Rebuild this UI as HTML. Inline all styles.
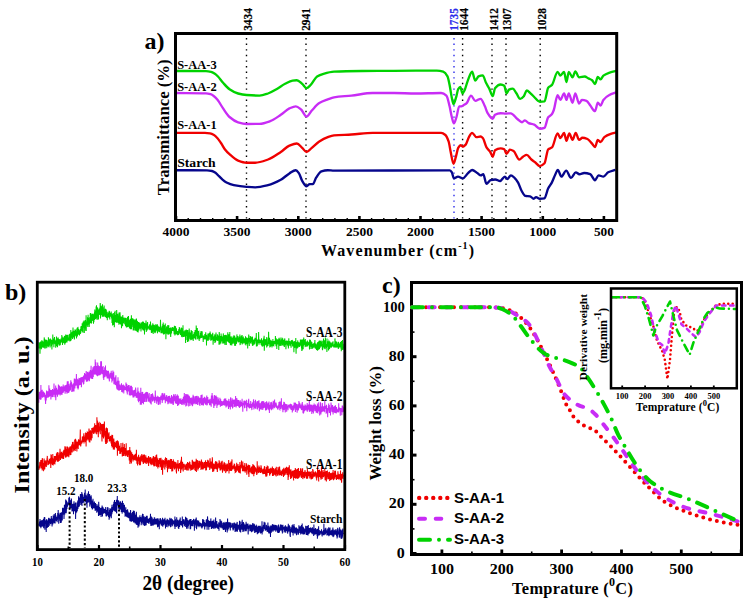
<!DOCTYPE html>
<html><head><meta charset="utf-8"><style>
html,body{margin:0;padding:0;background:#fff;width:749px;height:603px;overflow:hidden;}
svg{display:block;}
</style></head><body>
<svg width="749" height="603" viewBox="0 0 749 603">
<rect width="749" height="603" fill="#fff"/>
<line x1="246.5" y1="38" x2="246.5" y2="219" stroke="#000" stroke-width="1.4" stroke-dasharray="1.4 4.2"/>
<line x1="306" y1="38" x2="306" y2="219" stroke="#000" stroke-width="1.4" stroke-dasharray="1.4 4.2"/>
<line x1="454" y1="38" x2="454" y2="219" stroke="#2b2bea" stroke-width="1.4" stroke-dasharray="1.4 4.2"/>
<line x1="462.6" y1="38" x2="462.6" y2="219" stroke="#000" stroke-width="1.4" stroke-dasharray="1.4 4.2"/>
<line x1="492" y1="38" x2="492" y2="219" stroke="#000" stroke-width="1.4" stroke-dasharray="1.4 4.2"/>
<line x1="506" y1="38" x2="506" y2="219" stroke="#000" stroke-width="1.4" stroke-dasharray="1.4 4.2"/>
<line x1="540.2" y1="38" x2="540.2" y2="219" stroke="#000" stroke-width="1.4" stroke-dasharray="1.4 4.2"/>
<path d="M176.50 71.00 C186.33 71.03 196.17 71.02 206.00 71.10 C207.67 71.11 209.33 71.43 211.00 71.80 C212.17 72.06 213.33 72.78 214.50 73.50 C215.67 74.22 216.83 75.33 218.00 76.50 C219.70 78.20 221.40 80.91 223.10 82.80 C225.23 85.17 227.37 87.75 229.50 89.20 C232.37 91.14 235.23 92.75 238.10 93.50 C240.93 94.24 243.77 94.78 246.60 95.00 C250.90 95.33 255.20 95.60 259.50 95.60 C262.33 95.60 265.17 94.44 268.00 93.50 C270.83 92.56 273.67 90.79 276.50 89.20 C279.37 87.59 282.23 85.25 285.10 83.80 C287.60 82.54 290.10 80.97 292.60 80.60 C294.00 80.39 295.40 80.20 296.80 80.20 C298.60 80.20 300.40 82.35 302.20 83.80 C303.63 84.96 305.07 88.10 306.50 88.10 C307.90 88.10 309.30 86.23 310.70 84.90 C312.83 82.87 314.97 77.73 317.10 76.40 C319.23 75.07 321.37 74.39 323.50 73.80 C327.00 72.84 330.50 71.88 334.00 71.70 C343.33 71.23 352.67 71.09 362.00 71.00 C372.67 70.89 383.33 70.86 394.00 70.80 C408.27 70.72 422.53 70.60 436.80 70.60 C438.93 70.60 441.07 71.03 443.20 71.70 C444.63 72.15 446.07 73.76 447.50 76.40 C448.20 77.69 448.90 81.56 449.60 84.90 C450.33 88.40 451.07 94.38 451.80 97.70 C452.37 100.27 452.93 104.10 453.50 104.10 C454.33 104.10 455.17 100.28 456.00 97.70 C456.73 95.43 457.47 90.40 458.20 89.20 C458.90 88.05 459.60 87.00 460.30 87.00 C461.03 87.00 461.77 93.50 462.50 93.50 C463.20 93.50 463.90 91.61 464.60 90.20 C465.67 88.05 466.73 83.24 467.80 80.60 C469.23 77.06 470.67 71.70 472.10 71.70 C473.17 71.70 474.23 80.60 475.30 80.60 C476.37 80.60 477.43 76.88 478.50 76.40 C479.90 75.77 481.30 75.30 482.70 75.30 C483.80 75.30 484.90 80.62 486.00 82.80 C487.10 84.98 488.20 86.45 489.30 88.60 C490.43 90.82 491.57 96.10 492.70 96.10 C493.47 96.10 494.23 89.26 495.00 88.30 C496.87 85.97 498.73 84.50 500.60 84.50 C501.83 84.50 503.07 84.96 504.30 85.80 C505.03 86.30 505.77 93.30 506.50 93.30 C507.33 93.30 508.17 90.00 509.00 89.60 C510.23 89.01 511.47 88.60 512.70 88.60 C513.93 88.60 515.17 91.62 516.40 93.30 C517.67 95.03 518.93 98.90 520.20 98.90 C521.43 98.90 522.67 97.48 523.90 96.10 C524.83 95.05 525.77 90.50 526.70 90.50 C527.97 90.50 529.23 92.22 530.50 93.30 C531.73 94.35 532.97 95.87 534.20 97.00 C536.07 98.71 537.93 101.70 539.80 101.70 C541.37 101.70 542.93 101.60 544.50 101.40 C545.73 101.24 546.97 89.22 548.20 87.70 C549.47 86.14 550.73 86.27 552.00 84.90 C553.87 82.88 555.73 71.80 557.60 71.80 C558.53 71.80 559.47 75.60 560.40 75.60 C561.63 75.60 562.87 71.80 564.10 71.80 C564.87 71.80 565.63 82.10 566.40 82.10 C567.20 82.10 568.00 71.80 568.80 71.80 C570.03 71.80 571.27 77.40 572.50 77.40 C573.43 77.40 574.37 71.40 575.30 71.40 C576.57 71.40 577.83 77.40 579.10 77.40 C580.97 77.40 582.83 76.50 584.70 76.50 C585.93 76.50 587.17 77.78 588.40 78.40 C589.63 79.02 590.87 79.31 592.10 80.20 C593.07 80.90 594.03 84.00 595.00 84.00 C595.93 84.00 596.87 77.00 597.80 77.00 C598.73 77.00 599.67 79.30 600.60 79.30 C601.53 79.30 602.47 76.31 603.40 75.60 C605.27 74.17 607.13 73.44 609.00 72.80 C611.47 71.95 613.93 71.53 616.40 70.90" fill="none" stroke="#00d200" stroke-width="2.35" stroke-linejoin="round"/>
<path d="M176.50 93.00 C186.33 93.10 196.17 93.06 206.00 93.30 C207.50 93.34 209.00 93.75 210.50 94.20 C211.67 94.55 212.83 95.34 214.00 96.20 C215.17 97.06 216.33 98.38 217.50 99.80 C219.37 102.07 221.23 105.72 223.10 108.40 C225.23 111.46 227.37 115.16 229.50 117.00 C232.37 119.47 235.23 121.44 238.10 122.30 C240.93 123.15 243.77 124.00 246.60 124.00 C250.90 124.00 255.20 123.93 259.50 123.80 C263.03 123.69 266.57 122.43 270.10 121.20 C273.67 119.96 277.23 117.17 280.80 114.80 C283.67 112.89 286.53 109.68 289.40 108.40 C291.53 107.45 293.67 106.30 295.80 106.30 C297.57 106.30 299.33 108.05 301.10 109.50 C302.90 110.98 304.70 116.50 306.50 116.50 C308.27 116.50 310.03 112.37 311.80 110.50 C314.30 107.85 316.80 104.62 319.30 103.10 C322.13 101.37 324.97 100.47 327.80 99.40 C329.87 98.62 331.93 97.64 334.00 97.30 C339.80 96.34 345.60 96.23 351.40 95.60 C358.50 94.83 365.60 93.00 372.70 93.00 C379.80 93.00 386.90 93.00 394.00 93.00 C401.17 93.00 408.33 93.50 415.50 93.50 C424.03 93.50 432.57 93.00 441.10 93.00 C442.87 93.00 444.63 93.99 446.40 95.60 C447.47 96.57 448.53 102.02 449.60 106.30 C450.33 109.24 451.07 114.26 451.80 117.00 C452.50 119.62 453.20 123.40 453.90 123.40 C454.77 123.40 455.63 119.63 456.50 117.00 C457.40 114.27 458.30 106.30 459.20 106.30 C459.93 106.30 460.67 106.30 461.40 106.30 C462.10 106.30 462.80 105.60 463.50 105.20 C464.57 104.58 465.63 104.10 466.70 103.10 C468.13 101.76 469.57 95.60 471.00 95.60 C472.43 95.60 473.87 100.90 475.30 100.90 C477.07 100.90 478.83 98.80 480.60 98.80 C482.03 98.80 483.47 103.29 484.90 106.30 C485.77 108.12 486.63 111.48 487.50 112.90 C489.23 115.74 490.97 118.80 492.70 118.80 C493.47 118.80 494.23 115.22 495.00 114.80 C496.87 113.78 498.73 113.20 500.60 113.20 C502.47 113.20 504.33 113.60 506.20 113.60 C507.73 113.60 509.27 113.30 510.80 113.30 C513.00 113.30 515.20 117.32 517.40 119.00 C518.93 120.17 520.47 122.20 522.00 122.20 C522.97 122.20 523.93 120.30 524.90 120.30 C526.13 120.30 527.37 122.60 528.60 123.10 C530.47 123.86 532.33 123.87 534.20 124.60 C536.07 125.33 537.93 128.70 539.80 128.70 C541.37 128.70 542.93 128.38 544.50 127.80 C545.73 127.34 546.97 118.94 548.20 117.30 C549.47 115.61 550.73 115.67 552.00 114.00 C552.60 113.21 553.20 111.64 553.80 110.00 C555.07 106.53 556.33 95.20 557.60 95.20 C558.53 95.20 559.47 99.90 560.40 99.90 C561.63 99.90 562.87 93.30 564.10 93.30 C564.87 93.30 565.63 99.90 566.40 99.90 C567.20 99.90 568.00 93.30 568.80 93.30 C570.03 93.30 571.27 102.70 572.50 102.70 C573.43 102.70 574.37 93.30 575.30 93.30 C576.57 93.30 577.83 103.60 579.10 103.60 C580.03 103.60 580.97 99.90 581.90 99.90 C583.43 99.90 584.97 100.27 586.50 100.80 C587.77 101.24 589.03 103.96 590.30 105.50 C591.87 107.40 593.43 111.10 595.00 111.10 C595.93 111.10 596.87 102.70 597.80 102.70 C598.73 102.70 599.67 105.50 600.60 105.50 C601.53 105.50 602.47 101.06 603.40 99.90 C605.27 97.59 607.13 96.19 609.00 95.20 C611.47 93.89 613.93 93.33 616.40 92.40" fill="none" stroke="#c82cf5" stroke-width="2.35" stroke-linejoin="round"/>
<path d="M176.50 132.80 C186.00 132.83 195.50 132.82 205.00 132.90 C206.67 132.91 208.33 133.13 210.00 133.40 C211.33 133.62 212.67 134.25 214.00 135.00 C215.17 135.65 216.33 136.92 217.50 138.20 C218.67 139.48 219.83 141.27 221.00 143.00 C222.33 144.98 223.67 147.80 225.00 149.50 C226.50 151.42 228.00 152.87 229.50 154.20 C232.37 156.74 235.23 159.54 238.10 160.60 C240.93 161.65 243.77 162.70 246.60 162.70 C249.47 162.70 252.33 162.70 255.20 162.70 C259.47 162.70 263.73 161.00 268.00 159.50 C272.27 158.00 276.53 154.82 280.80 152.00 C283.67 150.11 286.53 146.76 289.40 145.60 C291.87 144.60 294.33 143.50 296.80 143.50 C298.60 143.50 300.40 146.21 302.20 147.80 C303.63 149.06 305.07 152.00 306.50 152.00 C308.27 152.00 310.03 149.25 311.80 147.80 C314.30 145.75 316.80 143.00 319.30 141.40 C322.13 139.59 324.97 138.09 327.80 137.10 C329.87 136.38 331.93 135.60 334.00 135.40 C339.80 134.83 345.60 134.86 351.40 134.50 C358.50 134.06 365.60 132.80 372.70 132.80 C379.80 132.80 386.90 132.80 394.00 132.80 C409.70 132.80 425.40 132.80 441.10 132.80 C442.53 132.80 443.97 133.80 445.40 135.00 C446.47 135.90 447.53 138.25 448.60 141.40 C449.30 143.47 450.00 148.77 450.70 152.00 C451.63 156.31 452.57 163.80 453.50 163.80 C454.33 163.80 455.17 159.12 456.00 156.30 C456.73 153.82 457.47 149.02 458.20 147.80 C459.03 146.42 459.87 145.20 460.70 145.20 C461.43 145.20 462.17 146.70 462.90 146.70 C463.83 146.70 464.77 145.65 465.70 144.60 C466.77 143.40 467.83 138.92 468.90 137.10 C469.97 135.28 471.03 132.80 472.10 132.80 C473.50 132.80 474.90 137.10 476.30 137.10 C477.73 137.10 479.17 136.50 480.60 136.50 C481.33 136.50 482.07 137.25 482.80 138.00 C484.03 139.26 485.27 145.37 486.50 147.40 C487.77 149.48 489.03 150.07 490.30 152.00 C491.10 153.22 491.90 156.70 492.70 156.70 C493.47 156.70 494.23 150.72 495.00 150.20 C496.87 148.93 498.73 148.30 500.60 148.30 C501.83 148.30 503.07 148.67 504.30 149.30 C505.03 149.68 505.77 153.90 506.50 153.90 C507.63 153.90 508.77 149.60 509.90 149.60 C511.13 149.60 512.37 150.35 513.60 151.10 C515.50 152.26 517.40 159.50 519.30 159.50 C520.53 159.50 521.77 157.43 523.00 156.70 C524.23 155.97 525.47 154.90 526.70 154.90 C528.27 154.90 529.83 158.17 531.40 159.50 C532.63 160.55 533.87 161.34 535.10 162.30 C536.67 163.52 538.23 166.10 539.80 166.10 C541.37 166.10 542.93 164.96 544.50 163.30 C545.73 161.99 546.97 150.39 548.20 149.30 C549.47 148.18 550.73 148.41 552.00 147.40 C553.87 145.91 555.73 133.40 557.60 133.40 C558.53 133.40 559.47 138.00 560.40 138.00 C561.63 138.00 562.87 132.80 564.10 132.80 C564.87 132.80 565.63 140.80 566.40 140.80 C567.37 140.80 568.33 133.40 569.30 133.40 C570.37 133.40 571.43 139.90 572.50 139.90 C573.57 139.90 574.63 132.80 575.70 132.80 C576.83 132.80 577.97 139.90 579.10 139.90 C580.20 139.90 581.30 137.70 582.40 137.70 C584.10 137.70 585.80 138.30 587.50 139.00 C589.03 139.63 590.57 141.93 592.10 143.60 C593.07 144.65 594.03 147.00 595.00 147.00 C595.93 147.00 596.87 139.90 597.80 139.90 C598.73 139.90 599.67 142.10 600.60 142.10 C601.83 142.10 603.07 138.03 604.30 137.10 C606.47 135.47 608.63 134.65 610.80 133.90 C612.67 133.26 614.53 132.90 616.40 132.40" fill="none" stroke="#f00000" stroke-width="2.35" stroke-linejoin="round"/>
<path d="M176.50 170.20 C186.67 170.23 196.83 170.22 207.00 170.30 C208.67 170.31 210.33 170.62 212.00 171.00 C213.17 171.27 214.33 172.02 215.50 172.80 C216.67 173.58 217.83 175.07 219.00 176.20 C220.17 177.33 221.33 178.63 222.50 179.60 C223.83 180.71 225.17 181.83 226.50 182.50 C228.93 183.73 231.37 184.70 233.80 185.20 C238.07 186.07 242.33 186.62 246.60 186.90 C249.47 187.09 252.33 187.30 255.20 187.30 C259.47 187.30 263.73 186.21 268.00 185.20 C272.27 184.19 276.53 182.14 280.80 179.80 C283.67 178.23 286.53 175.10 289.40 173.40 C291.53 172.14 293.67 170.20 295.80 170.20 C296.87 170.20 297.93 171.90 299.00 173.40 C300.07 174.90 301.13 179.15 302.20 180.90 C303.63 183.25 305.07 186.20 306.50 186.20 C307.57 186.20 308.63 184.10 309.70 184.10 C310.77 184.10 311.83 184.10 312.90 184.10 C313.97 184.10 315.03 179.34 316.10 177.70 C317.87 174.98 319.63 171.84 321.40 171.30 C323.53 170.64 325.67 170.20 327.80 170.20 C329.87 170.20 331.93 170.60 334.00 170.60 C372.53 170.60 411.07 170.40 449.60 170.40 C450.33 170.40 451.07 171.32 451.80 172.30 C452.50 173.24 453.20 178.40 453.90 178.40 C455.27 178.40 456.63 176.60 458.00 176.60 C459.60 176.60 461.20 178.40 462.80 178.40 C464.47 178.40 466.13 174.87 467.80 173.40 C469.23 172.14 470.67 170.00 472.10 170.00 C473.83 170.00 475.57 171.92 477.30 173.00 C478.50 173.75 479.70 175.40 480.90 175.40 C481.70 175.40 482.50 174.20 483.30 174.20 C484.33 174.20 485.37 183.80 486.40 183.80 C487.77 183.80 489.13 180.55 490.50 180.20 C492.10 179.79 493.70 179.50 495.30 179.50 C496.90 179.50 498.50 181.00 500.10 181.00 C501.70 181.00 503.30 176.60 504.90 176.60 C505.70 176.60 506.50 179.00 507.30 179.00 C508.50 179.00 509.70 175.40 510.90 175.40 C512.10 175.40 513.30 176.73 514.50 177.80 C515.70 178.87 516.90 180.56 518.10 182.60 C519.30 184.64 520.50 188.94 521.70 191.00 C522.90 193.06 524.10 195.70 525.30 195.90 C526.90 196.16 528.50 196.05 530.10 196.30 C531.30 196.48 532.50 198.70 533.70 198.70 C534.50 198.70 535.30 197.10 536.10 197.10 C537.30 197.10 538.50 198.70 539.70 198.70 C541.30 198.70 542.90 198.57 544.50 198.30 C545.70 198.10 546.90 191.03 548.10 188.60 C549.33 186.10 550.57 184.96 551.80 182.60 C553.00 180.30 554.20 176.61 555.40 174.20 C556.20 172.59 557.00 169.90 557.80 169.90 C559.00 169.90 560.20 176.60 561.40 176.60 C563.00 176.60 564.60 170.60 566.20 170.60 C567.80 170.60 569.40 177.80 571.00 177.80 C572.60 177.80 574.20 172.30 575.80 172.30 C577.00 172.30 578.20 174.20 579.40 174.20 C581.00 174.20 582.60 173.00 584.20 173.00 C586.20 173.00 588.20 173.49 590.20 174.20 C591.80 174.77 593.40 180.20 595.00 180.20 C596.20 180.20 597.40 175.40 598.60 175.40 C600.20 175.40 601.80 176.60 603.40 176.60 C605.00 176.60 606.60 173.10 608.20 172.30 C610.60 171.10 613.00 170.70 615.40 169.90" fill="none" stroke="#06068c" stroke-width="2.35" stroke-linejoin="round"/>
<rect x="175.5" y="33.5" width="441.20000000000005" height="187.0" fill="none" stroke="#000" stroke-width="3"/>
<rect x="602.6" y="216" width="2.6" height="4" fill="#000"/>
<rect x="591.0" y="218" width="1.4" height="2" fill="#000"/>
<rect x="578.8" y="218" width="1.4" height="2" fill="#000"/>
<rect x="566.5" y="218" width="1.4" height="2" fill="#000"/>
<rect x="554.3" y="218" width="1.4" height="2" fill="#000"/>
<rect x="541.5" y="216" width="2.6" height="4" fill="#000"/>
<rect x="529.9" y="218" width="1.4" height="2" fill="#000"/>
<rect x="517.6" y="218" width="1.4" height="2" fill="#000"/>
<rect x="505.4" y="218" width="1.4" height="2" fill="#000"/>
<rect x="493.2" y="218" width="1.4" height="2" fill="#000"/>
<rect x="480.3" y="216" width="2.6" height="4" fill="#000"/>
<rect x="468.7" y="218" width="1.4" height="2" fill="#000"/>
<rect x="456.5" y="218" width="1.4" height="2" fill="#000"/>
<rect x="444.3" y="218" width="1.4" height="2" fill="#000"/>
<rect x="432.0" y="218" width="1.4" height="2" fill="#000"/>
<rect x="419.2" y="216" width="2.6" height="4" fill="#000"/>
<rect x="407.6" y="218" width="1.4" height="2" fill="#000"/>
<rect x="395.4" y="218" width="1.4" height="2" fill="#000"/>
<rect x="383.1" y="218" width="1.4" height="2" fill="#000"/>
<rect x="370.9" y="218" width="1.4" height="2" fill="#000"/>
<rect x="358.1" y="216" width="2.6" height="4" fill="#000"/>
<rect x="346.5" y="218" width="1.4" height="2" fill="#000"/>
<rect x="334.2" y="218" width="1.4" height="2" fill="#000"/>
<rect x="322.0" y="218" width="1.4" height="2" fill="#000"/>
<rect x="309.8" y="218" width="1.4" height="2" fill="#000"/>
<rect x="297.0" y="216" width="2.6" height="4" fill="#000"/>
<rect x="285.3" y="218" width="1.4" height="2" fill="#000"/>
<rect x="273.1" y="218" width="1.4" height="2" fill="#000"/>
<rect x="260.9" y="218" width="1.4" height="2" fill="#000"/>
<rect x="248.7" y="218" width="1.4" height="2" fill="#000"/>
<rect x="235.8" y="216" width="2.6" height="4" fill="#000"/>
<rect x="224.2" y="218" width="1.4" height="2" fill="#000"/>
<rect x="212.0" y="218" width="1.4" height="2" fill="#000"/>
<rect x="199.8" y="218" width="1.4" height="2" fill="#000"/>
<rect x="187.5" y="218" width="1.4" height="2" fill="#000"/>
<rect x="174.7" y="216" width="2.6" height="4" fill="#000"/>
<text x="603.9" y="236" font-family='"Liberation Serif", serif' font-size="12.6" font-weight="bold" fill="#000" text-anchor="middle" textLength="20" lengthAdjust="spacingAndGlyphs" >500</text>
<text x="542.8" y="236" font-family='"Liberation Serif", serif' font-size="12.6" font-weight="bold" fill="#000" text-anchor="middle" textLength="27" lengthAdjust="spacingAndGlyphs" >1000</text>
<text x="481.6" y="236" font-family='"Liberation Serif", serif' font-size="12.6" font-weight="bold" fill="#000" text-anchor="middle" textLength="27" lengthAdjust="spacingAndGlyphs" >1500</text>
<text x="420.5" y="236" font-family='"Liberation Serif", serif' font-size="12.6" font-weight="bold" fill="#000" text-anchor="middle" textLength="27" lengthAdjust="spacingAndGlyphs" >2000</text>
<text x="359.4" y="236" font-family='"Liberation Serif", serif' font-size="12.6" font-weight="bold" fill="#000" text-anchor="middle" textLength="27" lengthAdjust="spacingAndGlyphs" >2500</text>
<text x="298.3" y="236" font-family='"Liberation Serif", serif' font-size="12.6" font-weight="bold" fill="#000" text-anchor="middle" textLength="27" lengthAdjust="spacingAndGlyphs" >3000</text>
<text x="237.1" y="236" font-family='"Liberation Serif", serif' font-size="12.6" font-weight="bold" fill="#000" text-anchor="middle" textLength="27" lengthAdjust="spacingAndGlyphs" >3500</text>
<text x="176.0" y="236" font-family='"Liberation Serif", serif' font-size="12.6" font-weight="bold" fill="#000" text-anchor="middle" textLength="27" lengthAdjust="spacingAndGlyphs" >4000</text>
<text transform="translate(251.6 30.8) rotate(-90)" font-family='"Liberation Serif", serif' font-size="11.5" font-weight="bold" fill="#000" text-anchor="start" textLength="22.6" lengthAdjust="spacingAndGlyphs" stroke="#000" stroke-width="0.2">3434</text>
<text transform="translate(309.9 30.8) rotate(-90)" font-family='"Liberation Serif", serif' font-size="11.5" font-weight="bold" fill="#000" text-anchor="start" textLength="22.6" lengthAdjust="spacingAndGlyphs" stroke="#000" stroke-width="0.2">2941</text>
<text transform="translate(457.6 30.8) rotate(-90)" font-family='"Liberation Serif", serif' font-size="11.5" font-weight="bold" fill="#2b2bea" text-anchor="start" textLength="22.6" lengthAdjust="spacingAndGlyphs" stroke="#2b2bea" stroke-width="0.2">1735</text>
<text transform="translate(468 30.8) rotate(-90)" font-family='"Liberation Serif", serif' font-size="11.5" font-weight="bold" fill="#000" text-anchor="start" textLength="22.6" lengthAdjust="spacingAndGlyphs" stroke="#000" stroke-width="0.2">1644</text>
<text transform="translate(497.7 30.8) rotate(-90)" font-family='"Liberation Serif", serif' font-size="11.5" font-weight="bold" fill="#000" text-anchor="start" textLength="22.6" lengthAdjust="spacingAndGlyphs" stroke="#000" stroke-width="0.2">1412</text>
<text transform="translate(510.5 30.8) rotate(-90)" font-family='"Liberation Serif", serif' font-size="11.5" font-weight="bold" fill="#000" text-anchor="start" textLength="22.6" lengthAdjust="spacingAndGlyphs" stroke="#000" stroke-width="0.2">1307</text>
<text transform="translate(545.8 30.8) rotate(-90)" font-family='"Liberation Serif", serif' font-size="11.5" font-weight="bold" fill="#000" text-anchor="start" textLength="22.6" lengthAdjust="spacingAndGlyphs" stroke="#000" stroke-width="0.2">1028</text>
<text x="177.2" y="68.9" font-family='"Liberation Serif", serif' font-size="11.5" font-weight="bold" fill="#000" text-anchor="start" textLength="39.5" lengthAdjust="spacingAndGlyphs" >S-AA-3</text>
<text x="177.2" y="90.7" font-family='"Liberation Serif", serif' font-size="11.5" font-weight="bold" fill="#000" text-anchor="start" textLength="39.5" lengthAdjust="spacingAndGlyphs" >S-AA-2</text>
<text x="177.2" y="129.1" font-family='"Liberation Serif", serif' font-size="11.5" font-weight="bold" fill="#000" text-anchor="start" textLength="39.5" lengthAdjust="spacingAndGlyphs" >S-AA-1</text>
<text x="177.2" y="167.4" font-family='"Liberation Serif", serif' font-size="11.5" font-weight="bold" fill="#000" text-anchor="start" textLength="38.5" lengthAdjust="spacingAndGlyphs" >Starch</text>
<text x="144.5" y="49" font-family='"Liberation Serif", serif' font-size="24" font-weight="bold" fill="#000" text-anchor="start" >a)</text>
<text transform="translate(168.9 195.2) rotate(-90)" font-family='"Liberation Serif", serif' font-size="17.5" font-weight="bold" fill="#000" text-anchor="start" textLength="135.8" lengthAdjust="spacingAndGlyphs" >Transmittance (%)</text>
<text x="321.1" y="256" font-family='"Liberation Serif", serif' font-size="16" font-weight="bold" fill="#000" letter-spacing="1.08">Wavenumber (cm<tspan font-size="10" dy="-7">-1</tspan><tspan dy="7">)</tspan></text>
<path d="M38.8 348.0 L38.9 348.4 L39.1 341.9 L39.2 344.7 L39.3 345.1 L39.5 345.0 L39.6 344.6 L39.7 344.4 L39.8 345.4 L40.0 353.7 L40.1 347.6 L40.2 345.0 L40.4 345.3 L40.5 347.0 L40.6 341.6 L40.8 345.5 L40.9 344.9 L41.0 348.5 L41.1 346.0 L41.3 341.5 L41.4 349.3 L41.5 344.0 L41.7 343.5 L41.8 340.2 L41.9 346.0 L42.1 340.8 L42.2 347.8 L42.3 340.8 L42.4 345.9 L42.6 344.5 L42.7 345.5 L42.8 346.9 L43.0 342.0 L43.1 345.9 L43.2 341.4 L43.4 343.4 L43.5 347.7 L43.6 344.9 L43.7 342.6 L43.9 344.8 L44.0 344.2 L44.1 340.6 L44.3 337.4 L44.4 343.2 L44.5 343.3 L44.7 348.5 L44.8 344.6 L44.9 338.9 L45.0 344.7 L45.2 340.7 L45.3 348.4 L45.4 345.3 L45.6 340.5 L45.7 343.4 L45.8 339.9 L46.0 342.6 L46.1 345.2 L46.2 343.7 L46.3 346.3 L46.5 339.8 L46.6 343.1 L46.7 348.2 L46.9 343.7 L47.0 343.3 L47.1 346.0 L47.3 345.5 L47.4 344.9 L47.5 345.8 L47.6 342.4 L47.8 340.3 L47.9 345.6 L48.0 343.4 L48.2 347.3 L48.3 346.5 L48.4 337.3 L48.6 338.5 L48.7 345.4 L48.8 346.2 L48.9 341.5 L49.1 339.9 L49.2 343.7 L49.3 339.8 L49.5 340.1 L49.6 344.8 L49.7 344.8 L49.9 343.5 L50.0 340.9 L50.1 347.5 L50.2 342.5 L50.4 338.6 L50.5 343.1 L50.6 342.1 L50.8 341.1 L50.9 341.8 L51.0 341.6 L51.2 339.5 L51.3 343.5 L51.4 346.2 L51.5 345.5 L51.7 344.7 L51.8 339.9 L51.9 349.4 L52.1 343.0 L52.2 344.5 L52.3 341.3 L52.5 343.8 L52.6 344.4 L52.7 341.2 L52.8 334.6 L53.0 342.9 L53.1 343.5 L53.2 342.9 L53.4 342.3 L53.5 338.5 L53.6 340.8 L53.8 343.8 L53.9 347.2 L54.0 340.4 L54.1 342.5 L54.3 342.3 L54.4 343.0 L54.5 337.1 L54.7 342.3 L54.8 339.3 L54.9 343.6 L55.1 342.8 L55.2 344.3 L55.3 340.4 L55.4 341.9 L55.6 341.3 L55.7 347.8 L55.8 345.2 L56.0 344.3 L56.1 341.4 L56.2 341.8 L56.4 345.8 L56.5 336.4 L56.6 346.3 L56.7 341.4 L56.9 344.4 L57.0 341.8 L57.1 341.5 L57.3 339.0 L57.4 339.7 L57.5 347.3 L57.7 337.7 L57.8 342.0 L57.9 344.8 L58.0 339.7 L58.2 337.6 L58.3 340.4 L58.4 343.0 L58.6 344.0 L58.7 340.8 L58.8 343.5 L59.0 340.1 L59.1 338.9 L59.2 345.7 L59.3 339.3 L59.5 343.8 L59.6 340.9 L59.7 341.4 L59.9 339.9 L60.0 340.5 L60.1 339.6 L60.3 345.3 L60.4 342.5 L60.5 343.3 L60.6 342.3 L60.8 340.2 L60.9 341.7 L61.0 338.5 L61.2 342.6 L61.3 339.5 L61.4 341.1 L61.6 340.2 L61.7 342.5 L61.8 335.0 L61.9 339.9 L62.1 338.9 L62.2 339.6 L62.3 336.5 L62.5 345.1 L62.6 339.3 L62.7 342.1 L62.9 338.0 L63.0 340.3 L63.1 340.9 L63.2 339.4 L63.4 339.8 L63.5 341.7 L63.6 341.6 L63.8 337.2 L63.9 343.3 L64.0 337.0 L64.2 339.5 L64.3 338.3 L64.4 335.9 L64.5 337.9 L64.7 340.0 L64.8 344.7 L64.9 336.3 L65.1 340.6 L65.2 339.8 L65.3 341.9 L65.5 343.3 L65.6 337.5 L65.7 334.4 L65.8 338.9 L66.0 335.5 L66.1 342.5 L66.2 338.2 L66.4 339.7 L66.5 342.3 L66.6 337.0 L66.8 334.9 L66.9 342.1 L67.0 342.4 L67.1 339.9 L67.3 334.9 L67.4 339.9 L67.5 338.0 L67.7 336.1 L67.8 334.7 L67.9 340.8 L68.1 337.7 L68.2 339.3 L68.3 340.1 L68.4 339.3 L68.6 337.5 L68.7 339.5 L68.8 339.3 L69.0 339.5 L69.1 337.7 L69.2 335.0 L69.4 334.8 L69.5 336.7 L69.6 340.7 L69.7 337.3 L69.9 341.4 L70.0 340.6 L70.1 336.6 L70.3 337.5 L70.4 333.5 L70.5 340.9 L70.7 340.0 L70.8 330.0 L70.9 334.8 L71.0 338.8 L71.2 339.1 L71.3 334.0 L71.4 336.4 L71.6 333.6 L71.7 337.5 L71.8 337.2 L72.0 332.1 L72.1 334.2 L72.2 337.4 L72.3 331.4 L72.5 332.7 L72.6 339.0 L72.7 335.6 L72.9 335.5 L73.0 327.5 L73.1 333.2 L73.3 332.1 L73.4 333.3 L73.5 337.4 L73.6 331.5 L73.8 333.1 L73.9 330.7 L74.0 335.5 L74.2 333.2 L74.3 333.0 L74.4 339.6 L74.6 333.1 L74.7 336.5 L74.8 331.4 L74.9 333.3 L75.1 329.2 L75.2 336.3 L75.3 330.4 L75.5 329.9 L75.6 334.1 L75.7 334.0 L75.9 333.7 L76.0 333.0 L76.1 331.2 L76.2 334.3 L76.4 335.6 L76.5 338.4 L76.6 335.9 L76.8 328.7 L76.9 332.9 L77.0 331.9 L77.2 327.8 L77.3 333.3 L77.4 336.4 L77.5 334.3 L77.7 330.6 L77.8 330.1 L77.9 326.9 L78.1 330.3 L78.2 330.2 L78.3 332.3 L78.4 329.9 L78.6 334.7 L78.7 331.0 L78.8 329.6 L79.0 329.8 L79.1 334.1 L79.2 334.6 L79.4 331.2 L79.5 335.4 L79.6 333.0 L79.7 332.4 L79.9 330.8 L80.0 331.2 L80.1 330.3 L80.3 330.8 L80.4 333.9 L80.5 328.9 L80.7 333.0 L80.8 332.6 L80.9 326.5 L81.0 329.4 L81.2 330.6 L81.3 326.0 L81.4 328.3 L81.6 326.2 L81.7 329.6 L81.8 328.5 L82.0 327.2 L82.1 331.0 L82.2 323.2 L82.3 331.7 L82.5 328.4 L82.6 327.6 L82.7 330.5 L82.9 328.6 L83.0 332.8 L83.1 321.8 L83.3 327.7 L83.4 326.3 L83.5 327.6 L83.6 327.3 L83.8 324.5 L83.9 321.2 L84.0 321.0 L84.2 320.4 L84.3 332.9 L84.4 328.8 L84.6 322.9 L84.7 323.5 L84.8 323.8 L84.9 328.2 L85.1 321.5 L85.2 327.5 L85.3 324.3 L85.5 320.1 L85.6 329.1 L85.7 330.6 L85.9 326.1 L86.0 325.1 L86.1 315.3 L86.2 331.0 L86.4 322.8 L86.5 324.7 L86.6 324.6 L86.8 323.5 L86.9 324.4 L87.0 322.4 L87.2 323.2 L87.3 320.7 L87.4 325.4 L87.5 317.3 L87.7 323.1 L87.8 326.9 L87.9 324.4 L88.1 314.8 L88.2 320.4 L88.3 319.5 L88.5 324.7 L88.6 317.8 L88.7 323.2 L88.8 319.5 L89.0 320.2 L89.1 321.3 L89.2 327.0 L89.4 322.8 L89.5 320.2 L89.6 323.8 L89.8 316.9 L89.9 320.6 L90.0 319.2 L90.1 323.0 L90.3 313.2 L90.4 321.0 L90.5 322.9 L90.7 313.1 L90.8 322.3 L90.9 322.5 L91.1 320.5 L91.2 314.4 L91.3 323.6 L91.4 317.4 L91.6 322.9 L91.7 318.3 L91.8 317.0 L92.0 314.6 L92.1 313.9 L92.2 321.0 L92.4 315.6 L92.5 317.2 L92.6 315.1 L92.7 314.7 L92.9 320.4 L93.0 313.6 L93.1 320.4 L93.3 317.6 L93.4 315.5 L93.5 323.7 L93.7 319.5 L93.8 314.4 L93.9 322.1 L94.0 314.3 L94.2 318.8 L94.3 316.0 L94.4 316.4 L94.6 311.8 L94.7 320.1 L94.8 309.5 L95.0 317.6 L95.1 312.2 L95.2 315.0 L95.3 314.6 L95.5 319.1 L95.6 311.0 L95.7 310.7 L95.9 312.6 L96.0 317.9 L96.1 306.6 L96.3 313.2 L96.4 316.8 L96.5 305.2 L96.6 311.1 L96.8 319.4 L96.9 313.6 L97.0 307.2 L97.2 318.3 L97.3 319.8 L97.4 308.8 L97.6 307.4 L97.7 314.7 L97.8 310.1 L97.9 313.5 L98.1 309.8 L98.2 315.8 L98.3 312.4 L98.5 319.6 L98.6 315.4 L98.7 312.6 L98.9 311.2 L99.0 309.0 L99.1 311.5 L99.2 308.4 L99.4 313.7 L99.5 313.1 L99.6 314.7 L99.8 312.4 L99.9 307.4 L100.0 315.1 L100.2 303.0 L100.3 304.2 L100.4 306.8 L100.5 318.4 L100.7 308.0 L100.8 310.1 L100.9 311.0 L101.1 314.0 L101.2 314.9 L101.3 306.2 L101.5 307.1 L101.6 314.5 L101.7 312.7 L101.8 310.3 L102.0 305.7 L102.1 316.4 L102.2 305.2 L102.4 315.2 L102.5 304.3 L102.6 312.1 L102.8 312.0 L102.9 307.2 L103.0 317.0 L103.1 311.7 L103.3 311.6 L103.4 316.5 L103.5 313.6 L103.7 310.2 L103.8 310.9 L103.9 313.4 L104.1 305.4 L104.2 307.6 L104.3 314.8 L104.4 315.6 L104.6 312.6 L104.7 315.3 L104.8 310.5 L105.0 317.0 L105.1 311.7 L105.2 309.2 L105.4 311.5 L105.5 308.8 L105.6 311.8 L105.7 317.2 L105.9 315.2 L106.0 315.7 L106.1 312.4 L106.3 309.6 L106.4 315.2 L106.5 318.1 L106.7 314.7 L106.8 314.1 L106.9 316.2 L107.0 315.5 L107.2 311.8 L107.3 320.2 L107.4 313.5 L107.6 316.1 L107.7 314.2 L107.8 313.8 L108.0 317.1 L108.1 317.5 L108.2 316.7 L108.3 315.3 L108.5 313.4 L108.6 313.2 L108.7 312.2 L108.9 315.0 L109.0 316.9 L109.1 310.8 L109.3 317.8 L109.4 313.0 L109.5 311.3 L109.6 314.9 L109.8 319.6 L109.9 313.0 L110.0 313.8 L110.2 315.9 L110.3 313.6 L110.4 315.4 L110.6 312.8 L110.7 316.8 L110.8 314.0 L110.9 313.0 L111.1 315.2 L111.2 311.6 L111.3 315.8 L111.5 314.9 L111.6 318.5 L111.7 315.3 L111.9 313.4 L112.0 323.0 L112.1 314.4 L112.2 319.5 L112.4 316.5 L112.5 322.1 L112.6 325.4 L112.8 317.7 L112.9 314.2 L113.0 320.3 L113.2 318.2 L113.3 313.0 L113.4 313.7 L113.5 320.0 L113.7 325.1 L113.8 319.4 L113.9 319.0 L114.1 318.9 L114.2 316.5 L114.3 327.2 L114.5 319.8 L114.6 312.1 L114.7 318.2 L114.8 322.2 L115.0 319.2 L115.1 310.8 L115.2 315.4 L115.4 322.1 L115.5 321.5 L115.6 319.4 L115.8 319.7 L115.9 315.1 L116.0 317.3 L116.1 318.3 L116.3 320.7 L116.4 322.6 L116.5 315.2 L116.7 309.9 L116.8 314.0 L116.9 322.8 L117.1 321.1 L117.2 320.5 L117.3 319.6 L117.4 315.3 L117.6 319.6 L117.7 313.8 L117.8 314.9 L118.0 317.9 L118.1 320.9 L118.2 323.0 L118.4 321.0 L118.5 320.1 L118.6 320.0 L118.7 316.7 L118.9 324.8 L119.0 312.4 L119.1 315.9 L119.3 315.5 L119.4 319.2 L119.5 319.8 L119.7 323.6 L119.8 317.0 L119.9 320.9 L120.0 312.2 L120.2 316.4 L120.3 317.8 L120.4 324.6 L120.6 317.9 L120.7 317.7 L120.8 316.7 L121.0 323.4 L121.1 323.2 L121.2 317.8 L121.3 317.3 L121.5 328.2 L121.6 320.9 L121.7 316.6 L121.9 322.5 L122.0 318.7 L122.1 324.1 L122.3 318.8 L122.4 321.5 L122.5 322.4 L122.6 326.3 L122.8 315.0 L122.9 318.2 L123.0 320.4 L123.2 317.9 L123.3 319.3 L123.4 323.0 L123.6 322.6 L123.7 322.7 L123.8 318.9 L123.9 320.5 L124.1 317.5 L124.2 319.2 L124.3 320.3 L124.5 320.3 L124.6 321.2 L124.7 318.2 L124.9 324.1 L125.0 324.3 L125.1 319.5 L125.2 323.3 L125.4 317.7 L125.5 326.3 L125.6 319.3 L125.8 324.9 L125.9 322.6 L126.0 325.1 L126.2 318.1 L126.3 319.4 L126.4 327.4 L126.5 324.0 L126.7 326.2 L126.8 320.7 L126.9 320.4 L127.1 320.2 L127.2 327.0 L127.3 326.8 L127.5 316.7 L127.6 326.9 L127.7 322.2 L127.8 322.5 L128.0 322.5 L128.1 319.2 L128.2 321.8 L128.4 326.8 L128.5 316.1 L128.6 322.3 L128.8 320.2 L128.9 323.7 L129.0 325.3 L129.1 327.0 L129.3 323.9 L129.4 328.4 L129.5 323.8 L129.7 321.5 L129.8 319.7 L129.9 324.4 L130.1 324.2 L130.2 326.3 L130.3 318.8 L130.4 327.9 L130.6 329.3 L130.7 325.7 L130.8 323.8 L131.0 324.7 L131.1 326.7 L131.2 324.1 L131.4 315.3 L131.5 329.2 L131.6 321.3 L131.7 320.8 L131.9 327.0 L132.0 321.8 L132.1 319.6 L132.3 325.3 L132.4 318.3 L132.5 320.2 L132.7 324.8 L132.8 318.3 L132.9 324.6 L133.0 319.7 L133.2 330.4 L133.3 324.3 L133.4 319.5 L133.6 322.4 L133.7 319.8 L133.8 319.3 L134.0 324.0 L134.1 323.7 L134.2 325.4 L134.3 330.5 L134.5 322.5 L134.6 327.5 L134.7 327.9 L134.9 320.7 L135.0 320.2 L135.1 320.0 L135.3 320.4 L135.4 323.0 L135.5 327.8 L135.6 330.8 L135.8 323.4 L135.9 329.3 L136.0 323.8 L136.2 328.0 L136.3 330.5 L136.4 318.5 L136.6 321.8 L136.7 331.1 L136.8 321.9 L136.9 326.3 L137.1 322.7 L137.2 331.9 L137.3 320.9 L137.5 322.4 L137.6 326.9 L137.7 324.6 L137.9 323.6 L138.0 324.2 L138.1 332.5 L138.2 327.8 L138.4 324.7 L138.5 321.9 L138.6 326.0 L138.8 325.1 L138.9 330.5 L139.0 325.6 L139.2 329.0 L139.3 326.2 L139.4 322.4 L139.5 325.6 L139.7 326.1 L139.8 327.3 L139.9 328.5 L140.1 323.6 L140.2 327.0 L140.3 325.8 L140.5 328.8 L140.6 324.7 L140.7 328.6 L140.8 327.2 L141.0 331.4 L141.1 324.1 L141.2 322.4 L141.4 325.9 L141.5 328.0 L141.6 323.4 L141.8 324.3 L141.9 322.7 L142.0 324.2 L142.1 324.6 L142.3 329.4 L142.4 327.2 L142.5 321.8 L142.7 327.9 L142.8 324.2 L142.9 324.2 L143.1 321.4 L143.2 330.6 L143.3 326.3 L143.4 323.9 L143.6 322.0 L143.7 323.7 L143.8 327.9 L144.0 327.3 L144.1 329.8 L144.2 330.0 L144.4 327.5 L144.5 334.4 L144.6 327.0 L144.7 323.1 L144.9 325.8 L145.0 329.8 L145.1 327.5 L145.3 325.9 L145.4 323.5 L145.5 324.2 L145.7 325.2 L145.8 328.1 L145.9 326.5 L146.0 320.6 L146.2 325.6 L146.3 331.9 L146.4 324.3 L146.6 329.8 L146.7 325.3 L146.8 330.8 L147.0 323.5 L147.1 326.3 L147.2 330.1 L147.3 328.9 L147.5 327.0 L147.6 322.1 L147.7 325.6 L147.9 328.7 L148.0 325.6 L148.1 327.1 L148.3 327.4 L148.4 327.3 L148.5 328.3 L148.6 326.4 L148.8 326.9 L148.9 327.8 L149.0 328.1 L149.2 329.8 L149.3 327.6 L149.4 329.5 L149.6 324.3 L149.7 326.3 L149.8 329.4 L149.9 327.7 L150.1 327.9 L150.2 329.4 L150.3 329.3 L150.5 321.6 L150.6 328.1 L150.7 328.3 L150.9 324.8 L151.0 325.9 L151.1 329.1 L151.2 329.0 L151.4 333.0 L151.5 326.1 L151.6 327.7 L151.8 332.5 L151.9 327.7 L152.0 329.8 L152.2 330.9 L152.3 324.7 L152.4 325.4 L152.5 329.9 L152.7 332.6 L152.8 323.3 L152.9 332.8 L153.1 330.3 L153.2 334.1 L153.3 324.6 L153.5 325.3 L153.6 328.8 L153.7 329.6 L153.8 328.2 L154.0 331.4 L154.1 324.7 L154.2 327.0 L154.4 327.0 L154.5 328.5 L154.6 332.5 L154.8 327.0 L154.9 331.2 L155.0 333.2 L155.1 325.3 L155.3 329.7 L155.4 331.7 L155.5 329.3 L155.7 331.0 L155.8 332.4 L155.9 324.0 L156.1 327.0 L156.2 326.0 L156.3 330.8 L156.4 328.9 L156.6 329.0 L156.7 330.7 L156.8 325.0 L157.0 330.1 L157.1 328.4 L157.2 328.2 L157.4 324.3 L157.5 333.2 L157.6 327.3 L157.7 332.0 L157.9 331.7 L158.0 326.5 L158.1 325.7 L158.3 327.1 L158.4 327.7 L158.5 329.2 L158.7 330.1 L158.8 330.3 L158.9 331.5 L159.0 329.7 L159.2 329.7 L159.3 327.9 L159.4 326.7 L159.6 332.2 L159.7 329.5 L159.8 328.9 L160.0 329.9 L160.1 329.2 L160.2 329.7 L160.3 329.9 L160.5 319.8 L160.6 324.9 L160.7 326.0 L160.9 327.6 L161.0 333.2 L161.1 331.7 L161.3 330.3 L161.4 331.6 L161.5 329.2 L161.6 331.8 L161.8 327.5 L161.9 333.3 L162.0 331.1 L162.2 328.4 L162.3 325.7 L162.4 327.8 L162.6 328.1 L162.7 331.9 L162.8 323.9 L162.9 326.9 L163.1 333.4 L163.2 322.6 L163.3 329.6 L163.5 334.4 L163.6 325.3 L163.7 327.6 L163.9 324.7 L164.0 328.2 L164.1 325.1 L164.2 327.7 L164.4 334.2 L164.5 331.2 L164.6 328.0 L164.8 325.6 L164.9 329.8 L165.0 326.9 L165.2 333.4 L165.3 323.4 L165.4 332.2 L165.5 332.9 L165.7 330.6 L165.8 329.1 L165.9 339.2 L166.1 329.1 L166.2 332.5 L166.3 329.8 L166.5 328.1 L166.6 328.3 L166.7 326.4 L166.8 331.0 L167.0 333.8 L167.1 329.0 L167.2 330.3 L167.4 330.4 L167.5 327.0 L167.6 333.1 L167.8 325.1 L167.9 332.2 L168.0 334.7 L168.1 331.8 L168.3 328.5 L168.4 330.9 L168.5 332.2 L168.7 330.8 L168.8 325.3 L168.9 334.5 L169.1 328.9 L169.2 329.3 L169.3 330.7 L169.4 329.4 L169.6 332.3 L169.7 327.9 L169.8 333.6 L170.0 331.6 L170.1 328.8 L170.2 330.5 L170.4 334.3 L170.5 327.5 L170.6 335.4 L170.7 336.9 L170.9 331.4 L171.0 328.8 L171.1 331.8 L171.3 331.6 L171.4 328.9 L171.5 333.5 L171.7 327.6 L171.8 331.1 L171.9 328.6 L172.0 329.6 L172.2 327.7 L172.3 331.1 L172.4 328.5 L172.6 330.4 L172.7 327.1 L172.8 329.5 L173.0 328.3 L173.1 329.3 L173.2 329.1 L173.3 330.6 L173.5 329.3 L173.6 329.9 L173.7 331.3 L173.9 328.6 L174.0 328.7 L174.1 334.2 L174.3 332.6 L174.4 325.7 L174.5 327.7 L174.6 334.0 L174.8 326.5 L174.9 335.4 L175.0 332.4 L175.2 325.9 L175.3 329.2 L175.4 329.6 L175.6 326.6 L175.7 333.6 L175.8 333.6 L175.9 334.5 L176.1 331.6 L176.2 329.9 L176.3 328.7 L176.5 328.2 L176.6 332.1 L176.7 333.3 L176.9 333.1 L177.0 331.4 L177.1 333.5 L177.2 333.7 L177.4 331.1 L177.5 333.2 L177.6 332.1 L177.8 335.2 L177.9 334.9 L178.0 333.8 L178.2 330.9 L178.3 333.1 L178.4 335.0 L178.5 333.3 L178.7 331.6 L178.8 329.1 L178.9 331.7 L179.1 331.2 L179.2 333.6 L179.3 327.0 L179.5 331.0 L179.6 332.9 L179.7 328.0 L179.8 331.6 L180.0 330.3 L180.1 334.2 L180.2 329.8 L180.4 335.0 L180.5 332.4 L180.6 333.0 L180.8 329.6 L180.9 329.9 L181.0 332.6 L181.1 332.2 L181.3 327.6 L181.4 335.5 L181.5 336.8 L181.7 328.4 L181.8 328.4 L181.9 333.9 L182.1 329.5 L182.2 337.2 L182.3 330.5 L182.4 333.5 L182.6 331.7 L182.7 336.1 L182.8 335.2 L183.0 325.3 L183.1 332.0 L183.2 332.3 L183.4 336.9 L183.5 331.7 L183.6 336.1 L183.7 331.3 L183.9 332.2 L184.0 333.6 L184.1 332.4 L184.3 334.2 L184.4 336.5 L184.5 336.1 L184.7 335.2 L184.8 332.3 L184.9 330.2 L185.0 331.1 L185.2 331.6 L185.3 332.3 L185.4 332.5 L185.6 343.0 L185.7 330.2 L185.8 334.2 L186.0 332.9 L186.1 330.7 L186.2 329.6 L186.3 333.6 L186.5 330.2 L186.6 336.1 L186.7 332.3 L186.9 332.2 L187.0 339.9 L187.1 333.0 L187.3 336.7 L187.4 329.9 L187.5 341.9 L187.6 340.4 L187.8 329.9 L187.9 335.8 L188.0 339.8 L188.2 339.8 L188.3 333.6 L188.4 333.3 L188.6 333.7 L188.7 341.6 L188.8 337.8 L188.9 337.3 L189.1 332.1 L189.2 328.5 L189.3 330.8 L189.5 333.9 L189.6 336.6 L189.7 335.1 L189.9 332.9 L190.0 339.3 L190.1 335.5 L190.2 333.8 L190.4 332.6 L190.5 333.8 L190.6 334.8 L190.8 340.3 L190.9 338.6 L191.0 335.3 L191.2 330.0 L191.3 336.8 L191.4 338.7 L191.5 335.7 L191.7 336.4 L191.8 332.7 L191.9 339.8 L192.1 334.6 L192.2 331.1 L192.3 339.2 L192.5 334.7 L192.6 339.3 L192.7 338.3 L192.8 337.7 L193.0 337.4 L193.1 335.0 L193.2 341.1 L193.4 334.9 L193.5 334.5 L193.6 335.6 L193.8 336.1 L193.9 334.0 L194.0 338.4 L194.1 332.3 L194.3 336.9 L194.4 336.4 L194.5 332.7 L194.7 338.3 L194.8 332.0 L194.9 336.7 L195.1 330.5 L195.2 330.5 L195.3 334.3 L195.4 339.1 L195.6 334.8 L195.7 339.1 L195.8 339.2 L196.0 338.4 L196.1 336.7 L196.2 325.5 L196.4 332.2 L196.5 330.2 L196.6 335.5 L196.7 333.2 L196.9 336.1 L197.0 335.4 L197.1 336.3 L197.3 328.1 L197.4 335.6 L197.5 336.2 L197.7 339.2 L197.8 337.7 L197.9 332.6 L198.0 334.0 L198.2 337.9 L198.3 336.3 L198.4 331.7 L198.6 331.9 L198.7 331.7 L198.8 331.6 L199.0 339.7 L199.1 335.5 L199.2 341.0 L199.3 335.5 L199.5 339.0 L199.6 335.9 L199.7 337.1 L199.9 337.5 L200.0 336.4 L200.1 337.5 L200.3 338.3 L200.4 332.8 L200.5 336.1 L200.6 336.7 L200.8 335.2 L200.9 333.7 L201.0 331.1 L201.2 335.7 L201.3 337.9 L201.4 336.9 L201.6 335.7 L201.7 335.9 L201.8 334.3 L201.9 335.7 L202.1 331.3 L202.2 332.4 L202.3 335.9 L202.5 336.8 L202.6 337.0 L202.7 336.1 L202.9 335.5 L203.0 338.2 L203.1 338.3 L203.2 342.0 L203.4 336.0 L203.5 335.5 L203.6 336.8 L203.8 339.5 L203.9 338.6 L204.0 336.4 L204.2 337.4 L204.3 335.8 L204.4 338.7 L204.5 336.5 L204.7 338.8 L204.8 334.0 L204.9 337.8 L205.1 339.4 L205.2 336.7 L205.3 337.1 L205.5 337.1 L205.6 339.3 L205.7 332.2 L205.8 333.7 L206.0 336.1 L206.1 335.3 L206.2 336.5 L206.4 337.5 L206.5 345.5 L206.6 335.1 L206.8 337.9 L206.9 339.8 L207.0 339.4 L207.1 338.4 L207.3 337.1 L207.4 336.5 L207.5 340.4 L207.7 337.7 L207.8 338.3 L207.9 333.6 L208.1 340.9 L208.2 336.1 L208.3 335.2 L208.4 339.6 L208.6 338.4 L208.7 333.6 L208.8 339.4 L209.0 336.0 L209.1 334.2 L209.2 339.7 L209.4 333.0 L209.5 334.1 L209.6 336.2 L209.7 336.6 L209.9 333.8 L210.0 333.8 L210.1 331.4 L210.3 336.7 L210.4 333.2 L210.5 334.7 L210.7 339.3 L210.8 340.8 L210.9 334.5 L211.0 337.4 L211.2 337.1 L211.3 337.9 L211.4 336.3 L211.6 335.6 L211.7 334.6 L211.8 340.1 L212.0 338.5 L212.1 334.5 L212.2 334.1 L212.3 335.4 L212.5 338.2 L212.6 337.5 L212.7 332.8 L212.9 334.7 L213.0 338.0 L213.1 344.7 L213.3 337.4 L213.4 336.9 L213.5 339.5 L213.6 337.5 L213.8 341.0 L213.9 337.7 L214.0 338.6 L214.2 336.0 L214.3 340.5 L214.4 337.1 L214.6 337.0 L214.7 334.9 L214.8 334.4 L214.9 343.0 L215.1 337.7 L215.2 336.1 L215.3 334.5 L215.5 337.6 L215.6 342.3 L215.7 337.5 L215.9 336.4 L216.0 332.5 L216.1 335.7 L216.2 340.5 L216.4 338.0 L216.5 338.4 L216.6 339.1 L216.8 336.8 L216.9 337.9 L217.0 338.5 L217.2 339.5 L217.3 340.2 L217.4 334.2 L217.5 336.8 L217.7 341.0 L217.8 339.0 L217.9 337.0 L218.1 337.4 L218.2 340.6 L218.3 337.1 L218.5 335.8 L218.6 339.1 L218.7 337.8 L218.8 335.3 L219.0 344.8 L219.1 340.5 L219.2 332.1 L219.4 334.2 L219.5 340.9 L219.6 341.7 L219.8 340.2 L219.9 344.6 L220.0 342.0 L220.1 336.1 L220.3 339.2 L220.4 337.2 L220.5 338.2 L220.7 337.7 L220.8 341.8 L220.9 343.4 L221.1 333.6 L221.2 340.9 L221.3 341.8 L221.4 340.3 L221.6 335.7 L221.7 337.0 L221.8 340.7 L222.0 338.9 L222.1 336.5 L222.2 338.0 L222.4 338.4 L222.5 341.3 L222.6 338.9 L222.7 343.0 L222.9 342.9 L223.0 339.4 L223.1 339.4 L223.3 333.4 L223.4 335.4 L223.5 340.1 L223.7 342.3 L223.8 335.6 L223.9 343.5 L224.0 340.4 L224.2 337.2 L224.3 336.6 L224.4 339.4 L224.6 338.9 L224.7 335.1 L224.8 336.3 L225.0 345.0 L225.1 340.5 L225.2 335.1 L225.3 335.7 L225.5 338.4 L225.6 335.5 L225.7 337.0 L225.9 334.8 L226.0 337.8 L226.1 339.9 L226.3 345.0 L226.4 338.6 L226.5 335.2 L226.6 339.0 L226.8 337.0 L226.9 340.8 L227.0 339.0 L227.2 337.5 L227.3 338.7 L227.4 341.2 L227.6 336.9 L227.7 334.9 L227.8 332.3 L227.9 340.2 L228.1 339.9 L228.2 338.1 L228.3 341.9 L228.5 340.0 L228.6 342.5 L228.7 334.3 L228.9 339.9 L229.0 337.8 L229.1 340.4 L229.2 338.1 L229.4 334.5 L229.5 338.9 L229.6 343.2 L229.8 332.0 L229.9 342.8 L230.0 339.7 L230.2 339.9 L230.3 338.8 L230.4 345.3 L230.5 336.7 L230.7 344.5 L230.8 344.1 L230.9 340.0 L231.1 336.3 L231.2 336.6 L231.3 342.6 L231.5 338.4 L231.6 337.6 L231.7 340.9 L231.8 345.4 L232.0 338.0 L232.1 338.2 L232.2 342.3 L232.4 342.4 L232.5 340.2 L232.6 340.1 L232.8 340.1 L232.9 341.3 L233.0 336.5 L233.1 344.0 L233.3 342.5 L233.4 343.1 L233.5 339.3 L233.7 341.5 L233.8 337.1 L233.9 335.3 L234.1 340.8 L234.2 341.5 L234.3 339.6 L234.4 336.2 L234.6 344.8 L234.7 335.7 L234.8 346.0 L235.0 340.4 L235.1 339.4 L235.2 345.6 L235.4 338.8 L235.5 337.4 L235.6 345.8 L235.7 338.3 L235.9 340.5 L236.0 337.4 L236.1 344.0 L236.3 338.3 L236.4 344.1 L236.5 342.0 L236.7 337.4 L236.8 340.5 L236.9 334.4 L237.0 336.2 L237.2 340.4 L237.3 336.6 L237.4 339.2 L237.6 339.2 L237.7 341.6 L237.8 337.4 L238.0 336.0 L238.1 342.5 L238.2 339.0 L238.3 338.4 L238.5 342.2 L238.6 340.5 L238.7 338.6 L238.9 338.2 L239.0 339.1 L239.1 342.0 L239.3 337.2 L239.4 338.6 L239.5 340.8 L239.6 337.8 L239.8 337.1 L239.9 334.5 L240.0 344.2 L240.2 345.0 L240.3 342.4 L240.4 339.7 L240.6 339.0 L240.7 340.8 L240.8 340.4 L240.9 340.4 L241.1 336.3 L241.2 342.7 L241.3 343.1 L241.5 340.5 L241.6 340.1 L241.7 335.4 L241.9 340.8 L242.0 337.0 L242.1 335.1 L242.2 344.5 L242.4 338.2 L242.5 342.2 L242.6 338.5 L242.8 343.4 L242.9 339.2 L243.0 340.2 L243.2 337.7 L243.3 336.5 L243.4 343.4 L243.5 340.1 L243.7 339.6 L243.8 338.7 L243.9 340.3 L244.1 341.5 L244.2 339.6 L244.3 338.3 L244.5 341.3 L244.6 343.2 L244.7 340.1 L244.8 340.8 L245.0 339.6 L245.1 341.3 L245.2 344.6 L245.4 342.5 L245.5 336.3 L245.6 339.7 L245.8 340.8 L245.9 340.6 L246.0 345.5 L246.1 339.5 L246.3 338.4 L246.4 342.2 L246.5 337.4 L246.7 341.6 L246.8 341.9 L246.9 344.0 L247.1 340.1 L247.2 342.6 L247.3 338.9 L247.4 338.8 L247.6 341.7 L247.7 348.4 L247.8 341.0 L248.0 342.3 L248.1 338.5 L248.2 337.8 L248.4 339.0 L248.5 338.8 L248.6 339.5 L248.7 334.6 L248.9 336.4 L249.0 343.7 L249.1 339.8 L249.3 345.9 L249.4 339.5 L249.5 340.1 L249.7 341.1 L249.8 338.1 L249.9 340.7 L250.0 341.1 L250.2 341.9 L250.3 336.1 L250.4 338.4 L250.6 343.6 L250.7 338.5 L250.8 342.0 L251.0 340.3 L251.1 336.8 L251.2 340.6 L251.3 339.6 L251.5 339.9 L251.6 340.1 L251.7 338.0 L251.9 343.7 L252.0 339.2 L252.1 343.6 L252.3 336.4 L252.4 345.4 L252.5 337.0 L252.6 340.9 L252.8 346.0 L252.9 340.5 L253.0 341.5 L253.2 340.3 L253.3 344.0 L253.4 344.1 L253.6 341.5 L253.7 340.2 L253.8 339.6 L253.9 340.0 L254.1 341.6 L254.2 342.0 L254.3 340.4 L254.5 339.4 L254.6 344.4 L254.7 340.4 L254.9 341.2 L255.0 337.8 L255.1 339.6 L255.2 340.9 L255.4 338.0 L255.5 340.0 L255.6 340.0 L255.8 340.8 L255.9 339.4 L256.0 343.4 L256.2 336.8 L256.3 333.1 L256.4 346.6 L256.5 341.0 L256.7 338.8 L256.8 341.9 L256.9 339.2 L257.1 341.7 L257.2 340.4 L257.3 346.3 L257.5 339.8 L257.6 342.2 L257.7 343.1 L257.8 342.1 L258.0 340.6 L258.1 343.2 L258.2 340.6 L258.4 343.2 L258.5 341.0 L258.6 331.9 L258.8 338.5 L258.9 341.6 L259.0 344.7 L259.1 340.0 L259.3 341.2 L259.4 341.5 L259.5 340.6 L259.7 339.4 L259.8 342.4 L259.9 340.4 L260.1 342.8 L260.2 343.2 L260.3 340.6 L260.4 341.5 L260.6 341.1 L260.7 342.2 L260.8 343.2 L261.0 341.2 L261.1 339.5 L261.2 345.1 L261.4 342.9 L261.5 338.3 L261.6 343.2 L261.7 340.7 L261.9 346.2 L262.0 341.5 L262.1 340.1 L262.3 341.5 L262.4 343.9 L262.5 344.3 L262.7 345.7 L262.8 346.6 L262.9 343.5 L263.0 341.6 L263.2 345.2 L263.3 343.2 L263.4 338.8 L263.6 345.8 L263.7 343.1 L263.8 337.6 L264.0 341.3 L264.1 335.7 L264.2 338.5 L264.3 350.8 L264.5 343.1 L264.6 345.9 L264.7 342.9 L264.9 338.9 L265.0 341.6 L265.1 339.1 L265.3 344.7 L265.4 341.8 L265.5 339.4 L265.6 342.0 L265.8 342.1 L265.9 345.2 L266.0 343.5 L266.2 342.1 L266.3 343.4 L266.4 341.4 L266.6 338.3 L266.7 347.4 L266.8 337.1 L266.9 340.3 L267.1 344.7 L267.2 345.2 L267.3 345.7 L267.5 346.3 L267.6 344.2 L267.7 342.8 L267.9 345.2 L268.0 346.1 L268.1 341.3 L268.2 338.2 L268.4 340.0 L268.5 343.3 L268.6 331.8 L268.8 343.3 L268.9 344.1 L269.0 339.8 L269.2 342.5 L269.3 342.3 L269.4 341.2 L269.5 337.7 L269.7 343.2 L269.8 347.4 L269.9 342.6 L270.1 343.5 L270.2 341.6 L270.3 343.5 L270.5 343.7 L270.6 346.8 L270.7 341.6 L270.8 339.7 L271.0 342.9 L271.1 343.5 L271.2 345.6 L271.4 340.8 L271.5 346.0 L271.6 343.9 L271.8 340.9 L271.9 344.2 L272.0 347.4 L272.1 344.8 L272.3 341.7 L272.4 343.6 L272.5 341.2 L272.7 346.1 L272.8 341.5 L272.9 339.0 L273.1 346.1 L273.2 343.9 L273.3 346.3 L273.4 341.0 L273.6 342.6 L273.7 345.5 L273.8 345.6 L274.0 341.9 L274.1 341.3 L274.2 342.0 L274.4 341.7 L274.5 343.0 L274.6 341.0 L274.7 342.3 L274.9 341.5 L275.0 344.2 L275.1 341.2 L275.3 342.1 L275.4 335.9 L275.5 342.2 L275.7 343.1 L275.8 343.0 L275.9 340.6 L276.0 346.3 L276.2 338.2 L276.3 344.5 L276.4 342.4 L276.6 342.1 L276.7 340.7 L276.8 348.9 L277.0 341.1 L277.1 344.2 L277.2 340.3 L277.3 339.4 L277.5 341.4 L277.6 341.3 L277.7 344.5 L277.9 342.4 L278.0 339.5 L278.1 343.5 L278.3 341.2 L278.4 343.0 L278.5 342.2 L278.6 339.2 L278.8 350.1 L278.9 338.8 L279.0 338.9 L279.2 345.9 L279.3 343.2 L279.4 342.6 L279.6 345.1 L279.7 341.9 L279.8 342.2 L279.9 341.7 L280.1 337.4 L280.2 345.8 L280.3 342.1 L280.5 340.4 L280.6 345.7 L280.7 344.2 L280.9 343.6 L281.0 345.9 L281.1 344.9 L281.2 341.9 L281.4 339.4 L281.5 344.5 L281.6 341.8 L281.8 344.3 L281.9 337.6 L282.0 344.3 L282.2 341.5 L282.3 341.5 L282.4 345.6 L282.5 342.0 L282.7 338.2 L282.8 342.4 L282.9 344.7 L283.1 342.0 L283.2 344.8 L283.3 340.6 L283.5 343.2 L283.6 344.0 L283.7 339.7 L283.8 346.2 L284.0 342.8 L284.1 345.2 L284.2 342.3 L284.4 346.9 L284.5 341.0 L284.6 339.8 L284.8 338.4 L284.9 342.6 L285.0 341.8 L285.1 341.4 L285.3 340.9 L285.4 343.9 L285.5 345.2 L285.7 342.6 L285.8 340.7 L285.9 349.2 L286.1 345.7 L286.2 342.7 L286.3 343.5 L286.4 344.0 L286.6 341.0 L286.7 340.6 L286.8 343.4 L287.0 342.7 L287.1 342.2 L287.2 344.5 L287.4 341.0 L287.5 345.3 L287.6 344.6 L287.7 340.7 L287.9 346.2 L288.0 343.4 L288.1 345.6 L288.3 345.0 L288.4 348.4 L288.5 345.0 L288.7 345.4 L288.8 338.3 L288.9 341.1 L289.0 346.0 L289.2 344.5 L289.3 342.1 L289.4 342.8 L289.6 344.3 L289.7 342.5 L289.8 342.9 L290.0 341.1 L290.1 344.2 L290.2 341.8 L290.3 343.6 L290.5 345.6 L290.6 343.4 L290.7 344.3 L290.9 342.3 L291.0 347.1 L291.1 347.7 L291.3 340.2 L291.4 340.7 L291.5 342.3 L291.6 340.9 L291.8 342.2 L291.9 341.3 L292.0 344.0 L292.2 340.8 L292.3 340.8 L292.4 340.7 L292.6 345.4 L292.7 346.4 L292.8 341.2 L292.9 343.7 L293.1 343.4 L293.2 342.6 L293.3 342.8 L293.5 342.2 L293.6 344.5 L293.7 344.1 L293.9 352.3 L294.0 347.1 L294.1 342.3 L294.2 341.5 L294.4 341.6 L294.5 344.9 L294.6 341.8 L294.8 343.6 L294.9 346.2 L295.0 347.2 L295.2 347.1 L295.3 345.2 L295.4 341.4 L295.5 343.5 L295.7 341.2 L295.8 337.9 L295.9 347.9 L296.1 353.7 L296.2 344.4 L296.3 344.7 L296.5 346.7 L296.6 342.2 L296.7 347.5 L296.8 347.8 L297.0 343.9 L297.1 342.1 L297.2 348.5 L297.4 347.5 L297.5 342.4 L297.6 342.2 L297.8 340.4 L297.9 347.0 L298.0 346.9 L298.1 347.5 L298.3 343.4 L298.4 344.9 L298.5 343.1 L298.7 342.9 L298.8 344.1 L298.9 343.8 L299.1 342.6 L299.2 345.1 L299.3 346.7 L299.4 342.6 L299.6 346.4 L299.7 346.9 L299.8 343.1 L300.0 343.9 L300.1 344.6 L300.2 344.2 L300.4 339.4 L300.5 345.4 L300.6 341.2 L300.7 341.5 L300.9 345.6 L301.0 342.9 L301.1 343.6 L301.3 339.4 L301.4 341.7 L301.5 348.3 L301.7 346.3 L301.8 351.0 L301.9 342.4 L302.0 348.4 L302.2 350.5 L302.3 339.7 L302.4 342.2 L302.6 342.8 L302.7 345.8 L302.8 342.4 L303.0 344.0 L303.1 339.1 L303.2 349.3 L303.3 339.7 L303.5 344.1 L303.6 345.8 L303.7 337.5 L303.9 340.0 L304.0 339.7 L304.1 342.7 L304.3 342.9 L304.4 340.1 L304.5 344.4 L304.6 343.9 L304.8 345.0 L304.9 343.9 L305.0 343.6 L305.2 347.1 L305.3 339.0 L305.4 345.6 L305.6 341.6 L305.7 344.0 L305.8 345.4 L305.9 345.2 L306.1 344.0 L306.2 343.1 L306.3 342.7 L306.5 343.2 L306.6 343.7 L306.7 345.5 L306.9 346.8 L307.0 342.7 L307.1 345.4 L307.2 344.6 L307.4 340.6 L307.5 345.1 L307.6 346.2 L307.8 344.6 L307.9 344.9 L308.0 344.2 L308.2 344.2 L308.3 342.8 L308.4 345.3 L308.5 344.1 L308.7 341.7 L308.8 344.0 L308.9 344.8 L309.1 341.8 L309.2 345.4 L309.3 344.2 L309.5 349.6 L309.6 339.6 L309.7 342.4 L309.8 346.7 L310.0 343.2 L310.1 341.8 L310.2 344.1 L310.4 339.8 L310.5 342.9 L310.6 346.0 L310.8 342.0 L310.9 349.1 L311.0 346.4 L311.1 346.6 L311.3 341.4 L311.4 345.9 L311.5 345.3 L311.7 342.3 L311.8 342.8 L311.9 342.2 L312.1 345.0 L312.2 348.9 L312.3 346.1 L312.4 344.5 L312.6 344.1 L312.7 348.0 L312.8 346.3 L313.0 345.5 L313.1 346.4 L313.2 345.1 L313.4 345.2 L313.5 347.0 L313.6 343.3 L313.7 347.2 L313.9 345.9 L314.0 343.9 L314.1 348.3 L314.3 346.1 L314.4 343.9 L314.5 344.7 L314.7 342.3 L314.8 343.4 L314.9 340.0 L315.0 346.8 L315.2 344.6 L315.3 343.4 L315.4 345.8 L315.6 348.6 L315.7 344.6 L315.8 346.6 L316.0 346.4 L316.1 343.4 L316.2 347.0 L316.3 345.6 L316.5 350.1 L316.6 345.0 L316.7 345.7 L316.9 345.8 L317.0 344.4 L317.1 346.5 L317.3 346.4 L317.4 350.7 L317.5 343.4 L317.6 342.3 L317.8 350.3 L317.9 347.3 L318.0 346.8 L318.2 346.3 L318.3 342.1 L318.4 349.7 L318.6 347.0 L318.7 342.9 L318.8 341.5 L318.9 342.5 L319.1 340.7 L319.2 342.9 L319.3 348.3 L319.5 349.2 L319.6 344.7 L319.7 343.1 L319.9 340.5 L320.0 340.9 L320.1 347.3 L320.2 347.3 L320.4 342.9 L320.5 346.6 L320.6 341.0 L320.8 346.2 L320.9 342.5 L321.0 342.6 L321.2 346.5 L321.3 343.3 L321.4 345.8 L321.5 344.9 L321.7 344.9 L321.8 344.7 L321.9 340.4 L322.1 346.7 L322.2 340.9 L322.3 349.5 L322.5 345.4 L322.6 350.2 L322.7 344.3 L322.8 347.0 L323.0 346.0 L323.1 346.2 L323.2 347.1 L323.4 344.1 L323.5 338.4 L323.6 345.6 L323.8 345.1 L323.9 345.2 L324.0 341.5 L324.1 348.6 L324.3 345.8 L324.4 340.3 L324.5 347.1 L324.7 341.3 L324.8 347.3 L324.9 347.4 L325.1 341.6 L325.2 349.2 L325.3 345.0 L325.4 337.6 L325.6 342.8 L325.7 346.2 L325.8 344.6 L326.0 345.7 L326.1 344.1 L326.2 346.9 L326.4 346.5 L326.5 347.9 L326.6 345.3 L326.7 344.3 L326.9 352.0 L327.0 338.5 L327.1 343.5 L327.3 342.8 L327.4 345.5 L327.5 345.0 L327.7 345.8 L327.8 346.3 L327.9 346.7 L328.0 341.2 L328.2 345.7 L328.3 342.6 L328.4 350.4 L328.6 341.7 L328.7 350.2 L328.8 345.5 L329.0 341.1 L329.1 341.3 L329.2 344.0 L329.3 347.1 L329.5 345.2 L329.6 349.0 L329.7 342.5 L329.9 341.5 L330.0 346.6 L330.1 344.9 L330.3 346.2 L330.4 347.0 L330.5 343.5 L330.6 346.4 L330.8 344.7 L330.9 342.4 L331.0 348.0 L331.2 343.8 L331.3 342.6 L331.4 345.8 L331.6 346.9 L331.7 345.0 L331.8 345.9 L331.9 345.7 L332.1 345.1 L332.2 346.3 L332.3 345.2 L332.5 342.8 L332.6 342.3 L332.7 345.7 L332.9 345.6 L333.0 341.3 L333.1 343.0 L333.2 346.4 L333.4 345.7 L333.5 346.8 L333.6 344.8 L333.8 346.7 L333.9 345.7 L334.0 347.8 L334.2 346.2 L334.3 344.6 L334.4 344.4 L334.5 346.1 L334.7 347.1 L334.8 346.4 L334.9 338.4 L335.1 340.3 L335.2 344.9 L335.3 346.6 L335.5 344.5 L335.6 343.7 L335.7 347.0 L335.8 347.5 L336.0 341.2 L336.1 342.6 L336.2 346.9 L336.4 346.7 L336.5 345.6 L336.6 346.6 L336.8 341.7 L336.9 345.9 L337.0 345.9 L337.1 347.4 L337.3 345.0 L337.4 347.3 L337.5 344.8 L337.7 346.6 L337.8 344.1 L337.9 347.6 L338.1 342.6 L338.2 345.6 L338.3 349.0 L338.4 345.4 L338.6 341.8 L338.7 346.8 L338.8 348.2 L339.0 343.8 L339.1 347.8 L339.2 345.1 L339.4 344.9 L339.5 347.0 L339.6 345.4 L339.7 343.6 L339.9 347.0 L340.0 345.7 L340.1 343.3 L340.3 343.8 L340.4 345.2 L340.5 342.0 L340.7 342.6 L340.8 348.4 L340.9 346.9 L341.0 346.1 L341.2 343.0 L341.3 351.2 L341.4 341.1 L341.6 348.9 L341.7 345.7 L341.8 343.9 L342.0 343.7 L342.1 349.7 L342.2 343.9 L342.3 346.7 L342.5 340.1 L342.6 345.7 L342.7 342.7 L342.9 347.2 L343.0 350.1 L343.1 344.1 L343.3 346.5 L343.4 348.6" fill="none" stroke="#00d200" stroke-width="1.05"/>
<path d="M38.8 402.7 L38.9 394.1 L39.1 398.4 L39.2 391.9 L39.3 392.8 L39.5 393.5 L39.6 393.2 L39.7 397.0 L39.8 399.2 L40.0 394.6 L40.1 396.4 L40.2 395.9 L40.4 391.2 L40.5 399.8 L40.6 395.7 L40.8 396.2 L40.9 385.0 L41.0 394.8 L41.1 399.5 L41.3 392.3 L41.4 395.8 L41.5 390.3 L41.7 397.0 L41.8 394.9 L41.9 391.8 L42.1 396.1 L42.2 389.8 L42.3 395.2 L42.4 397.8 L42.6 393.2 L42.7 394.6 L42.8 391.8 L43.0 394.5 L43.1 393.4 L43.2 397.1 L43.4 393.6 L43.5 391.4 L43.6 394.8 L43.7 394.1 L43.9 396.7 L44.0 394.0 L44.1 394.0 L44.3 396.3 L44.4 393.7 L44.5 393.3 L44.7 392.7 L44.8 397.4 L44.9 396.8 L45.0 396.0 L45.2 400.4 L45.3 397.2 L45.4 395.0 L45.6 403.9 L45.7 398.0 L45.8 396.6 L46.0 394.6 L46.1 396.1 L46.2 400.4 L46.3 396.7 L46.5 394.1 L46.6 390.6 L46.7 390.9 L46.9 397.3 L47.0 394.7 L47.1 398.1 L47.3 391.2 L47.4 391.9 L47.5 394.3 L47.6 396.5 L47.8 395.8 L47.9 391.3 L48.0 392.3 L48.2 396.0 L48.3 393.2 L48.4 397.5 L48.6 394.1 L48.7 395.4 L48.8 394.0 L48.9 385.2 L49.1 393.1 L49.2 393.9 L49.3 396.7 L49.5 389.7 L49.6 389.7 L49.7 388.6 L49.9 395.9 L50.0 392.2 L50.1 394.1 L50.2 394.8 L50.4 394.4 L50.5 390.0 L50.6 392.8 L50.8 394.7 L50.9 399.4 L51.0 389.9 L51.2 394.5 L51.3 389.9 L51.4 394.8 L51.5 393.9 L51.7 390.3 L51.8 391.0 L51.9 391.3 L52.1 397.3 L52.2 393.4 L52.3 396.4 L52.5 389.0 L52.6 389.8 L52.7 394.5 L52.8 394.9 L53.0 393.7 L53.1 397.0 L53.2 394.9 L53.4 390.0 L53.5 394.6 L53.6 393.6 L53.8 393.5 L53.9 387.7 L54.0 383.6 L54.1 389.6 L54.3 388.0 L54.4 390.2 L54.5 394.8 L54.7 388.9 L54.8 391.7 L54.9 397.3 L55.1 389.8 L55.2 389.8 L55.3 392.2 L55.4 395.5 L55.6 390.1 L55.7 385.5 L55.8 400.2 L56.0 393.1 L56.1 392.4 L56.2 390.9 L56.4 390.6 L56.5 389.6 L56.6 387.8 L56.7 394.6 L56.9 394.1 L57.0 394.7 L57.1 393.7 L57.3 394.3 L57.4 389.5 L57.5 396.8 L57.7 391.4 L57.8 390.8 L57.9 391.7 L58.0 393.0 L58.2 394.7 L58.3 389.6 L58.4 384.5 L58.6 393.9 L58.7 390.6 L58.8 391.7 L59.0 385.3 L59.1 387.5 L59.2 393.7 L59.3 394.5 L59.5 391.3 L59.6 386.2 L59.7 386.5 L59.9 390.5 L60.0 386.9 L60.1 395.4 L60.3 394.2 L60.4 390.7 L60.5 386.8 L60.6 393.5 L60.8 393.9 L60.9 387.6 L61.0 389.3 L61.2 390.9 L61.3 390.8 L61.4 387.9 L61.6 386.3 L61.7 389.3 L61.8 393.6 L61.9 394.9 L62.1 392.9 L62.2 391.1 L62.3 387.4 L62.5 391.4 L62.6 389.1 L62.7 386.6 L62.9 390.8 L63.0 393.1 L63.1 389.6 L63.2 384.4 L63.4 392.3 L63.5 386.4 L63.6 390.5 L63.8 391.2 L63.9 387.7 L64.0 388.3 L64.2 387.4 L64.3 387.8 L64.4 387.5 L64.5 391.0 L64.7 385.5 L64.8 387.4 L64.9 390.1 L65.1 393.7 L65.2 393.0 L65.3 388.8 L65.5 390.3 L65.6 386.8 L65.7 390.0 L65.8 384.9 L66.0 390.5 L66.1 390.7 L66.2 390.1 L66.4 386.7 L66.5 390.7 L66.6 390.2 L66.8 384.4 L66.9 385.0 L67.0 393.7 L67.1 385.5 L67.3 381.2 L67.4 393.1 L67.5 382.8 L67.7 386.9 L67.8 392.2 L67.9 386.4 L68.1 389.0 L68.2 381.2 L68.3 388.7 L68.4 388.1 L68.6 388.1 L68.7 393.1 L68.8 384.2 L69.0 385.1 L69.1 386.7 L69.2 386.2 L69.4 391.5 L69.5 388.3 L69.6 386.4 L69.7 386.9 L69.9 390.1 L70.0 386.8 L70.1 389.0 L70.3 382.9 L70.4 390.4 L70.5 388.5 L70.7 383.7 L70.8 380.3 L70.9 385.4 L71.0 383.8 L71.2 384.1 L71.3 381.8 L71.4 386.7 L71.6 382.5 L71.7 383.5 L71.8 391.9 L72.0 385.3 L72.1 384.7 L72.2 385.4 L72.3 390.7 L72.5 390.8 L72.6 387.8 L72.7 387.2 L72.9 387.6 L73.0 387.0 L73.1 384.4 L73.3 383.8 L73.4 391.5 L73.5 387.0 L73.6 383.2 L73.8 384.1 L73.9 386.9 L74.0 391.4 L74.2 381.8 L74.3 378.5 L74.4 385.5 L74.6 385.5 L74.7 386.4 L74.8 384.9 L74.9 388.5 L75.1 378.7 L75.2 385.7 L75.3 383.0 L75.5 382.3 L75.6 382.2 L75.7 380.6 L75.9 385.1 L76.0 385.1 L76.1 379.7 L76.2 384.3 L76.4 373.9 L76.5 381.1 L76.6 378.7 L76.8 383.8 L76.9 385.1 L77.0 379.2 L77.2 379.2 L77.3 388.2 L77.4 384.5 L77.5 382.0 L77.7 382.1 L77.8 379.9 L77.9 379.4 L78.1 389.4 L78.2 381.4 L78.3 383.9 L78.4 388.1 L78.6 385.6 L78.7 379.7 L78.8 381.4 L79.0 378.4 L79.1 381.1 L79.2 379.3 L79.4 379.7 L79.5 385.2 L79.6 383.6 L79.7 380.5 L79.9 382.3 L80.0 377.9 L80.1 378.9 L80.3 381.7 L80.4 382.5 L80.5 384.6 L80.7 383.2 L80.8 384.9 L80.9 377.3 L81.0 377.6 L81.2 380.0 L81.3 382.8 L81.4 387.3 L81.6 381.1 L81.7 379.4 L81.8 382.7 L82.0 377.1 L82.1 382.2 L82.2 378.7 L82.3 379.3 L82.5 379.2 L82.6 380.9 L82.7 377.6 L82.9 376.8 L83.0 381.4 L83.1 382.0 L83.3 381.2 L83.4 384.6 L83.5 378.3 L83.6 375.6 L83.8 384.0 L83.9 381.2 L84.0 376.5 L84.2 381.4 L84.3 375.9 L84.4 379.6 L84.6 372.9 L84.7 377.6 L84.8 378.2 L84.9 377.6 L85.1 377.0 L85.2 378.3 L85.3 379.2 L85.5 373.9 L85.6 378.2 L85.7 378.8 L85.9 379.8 L86.0 380.1 L86.1 372.8 L86.2 371.1 L86.4 381.8 L86.5 380.0 L86.6 375.4 L86.8 381.8 L86.9 375.2 L87.0 379.4 L87.2 381.5 L87.3 380.5 L87.4 372.6 L87.5 371.9 L87.7 377.2 L87.8 376.2 L87.9 381.3 L88.1 376.4 L88.2 376.9 L88.3 374.9 L88.5 372.5 L88.6 377.1 L88.7 380.0 L88.8 376.8 L89.0 374.0 L89.1 371.4 L89.2 375.3 L89.4 381.2 L89.5 376.4 L89.6 373.9 L89.8 375.1 L89.9 376.9 L90.0 371.7 L90.1 374.4 L90.3 370.1 L90.4 373.8 L90.5 376.7 L90.7 376.6 L90.8 378.4 L90.9 373.0 L91.1 365.7 L91.2 376.9 L91.3 375.9 L91.4 377.4 L91.6 378.7 L91.7 374.0 L91.8 370.6 L92.0 371.8 L92.1 370.4 L92.2 374.0 L92.4 378.9 L92.5 369.6 L92.6 370.2 L92.7 378.7 L92.9 367.3 L93.0 369.9 L93.1 367.5 L93.3 377.1 L93.4 367.7 L93.5 370.2 L93.7 371.7 L93.8 367.8 L93.9 371.3 L94.0 366.1 L94.2 367.1 L94.3 368.2 L94.4 374.4 L94.6 370.1 L94.7 369.6 L94.8 367.4 L95.0 373.7 L95.1 374.7 L95.2 359.6 L95.3 370.3 L95.5 374.1 L95.6 367.5 L95.7 371.5 L95.9 362.3 L96.0 368.9 L96.1 370.2 L96.3 372.7 L96.4 368.2 L96.5 372.3 L96.6 375.4 L96.8 366.1 L96.9 366.8 L97.0 369.7 L97.2 369.1 L97.3 368.4 L97.4 367.4 L97.6 376.2 L97.7 362.5 L97.8 365.9 L97.9 366.9 L98.1 365.8 L98.2 374.6 L98.3 365.2 L98.5 368.9 L98.6 368.7 L98.7 375.4 L98.9 368.8 L99.0 375.2 L99.1 366.3 L99.2 367.3 L99.4 366.6 L99.5 368.7 L99.6 367.4 L99.8 370.7 L99.9 375.3 L100.0 366.0 L100.2 370.9 L100.3 372.1 L100.4 374.8 L100.5 372.6 L100.7 361.3 L100.8 373.8 L100.9 368.1 L101.1 374.2 L101.2 372.0 L101.3 369.3 L101.5 361.2 L101.6 372.7 L101.7 368.7 L101.8 370.4 L102.0 371.6 L102.1 367.5 L102.2 371.4 L102.4 374.1 L102.5 367.1 L102.6 371.2 L102.8 371.2 L102.9 368.8 L103.0 366.6 L103.1 366.1 L103.3 377.8 L103.4 377.8 L103.5 376.1 L103.7 375.0 L103.8 380.0 L103.9 370.0 L104.1 377.1 L104.2 370.0 L104.3 372.3 L104.4 371.8 L104.6 375.6 L104.7 367.3 L104.8 377.3 L105.0 371.4 L105.1 376.7 L105.2 374.1 L105.4 375.5 L105.5 365.5 L105.6 374.1 L105.7 375.0 L105.9 371.1 L106.0 372.3 L106.1 373.2 L106.3 370.3 L106.4 374.3 L106.5 376.4 L106.7 374.6 L106.8 370.4 L106.9 371.9 L107.0 375.1 L107.2 378.5 L107.3 374.8 L107.4 373.7 L107.6 371.1 L107.7 374.9 L107.8 372.9 L108.0 376.1 L108.1 378.5 L108.2 371.0 L108.3 373.3 L108.5 370.7 L108.6 375.2 L108.7 372.3 L108.9 377.2 L109.0 374.2 L109.1 378.9 L109.3 380.2 L109.4 381.4 L109.5 375.7 L109.6 376.5 L109.8 374.5 L109.9 375.1 L110.0 376.7 L110.2 373.2 L110.3 373.0 L110.4 377.3 L110.6 375.1 L110.7 378.1 L110.8 376.6 L110.9 372.8 L111.1 378.9 L111.2 370.8 L111.3 376.8 L111.5 373.2 L111.6 373.2 L111.7 374.0 L111.9 382.6 L112.0 373.2 L112.1 378.7 L112.2 373.3 L112.4 378.2 L112.5 379.0 L112.6 380.8 L112.8 377.0 L112.9 370.4 L113.0 377.3 L113.2 378.6 L113.3 376.3 L113.4 377.2 L113.5 375.1 L113.7 371.8 L113.8 375.9 L113.9 384.2 L114.1 378.9 L114.2 383.2 L114.3 377.6 L114.5 379.4 L114.6 383.7 L114.7 377.4 L114.8 377.7 L115.0 380.6 L115.1 378.2 L115.2 385.1 L115.4 379.4 L115.5 383.8 L115.6 381.9 L115.8 376.5 L115.9 375.2 L116.0 379.4 L116.1 382.8 L116.3 385.1 L116.4 385.7 L116.5 384.8 L116.7 387.4 L116.8 388.8 L116.9 381.7 L117.1 387.4 L117.2 382.2 L117.3 389.7 L117.4 380.7 L117.6 383.7 L117.7 383.8 L117.8 386.9 L118.0 377.2 L118.1 387.7 L118.2 384.7 L118.4 390.6 L118.5 381.7 L118.6 382.5 L118.7 380.8 L118.9 390.3 L119.0 380.7 L119.1 387.9 L119.3 386.1 L119.4 386.7 L119.5 390.5 L119.7 386.1 L119.8 386.2 L119.9 384.8 L120.0 384.5 L120.2 387.2 L120.3 388.5 L120.4 389.9 L120.6 389.4 L120.7 387.1 L120.8 388.8 L121.0 386.1 L121.1 385.5 L121.2 388.6 L121.3 387.7 L121.5 383.3 L121.6 388.6 L121.7 392.1 L121.9 387.0 L122.0 387.2 L122.1 387.0 L122.3 388.6 L122.4 392.5 L122.5 385.5 L122.6 386.1 L122.8 385.2 L122.9 391.6 L123.0 387.1 L123.2 390.8 L123.3 384.6 L123.4 389.2 L123.6 390.2 L123.7 389.2 L123.8 393.6 L123.9 386.9 L124.1 390.4 L124.2 389.3 L124.3 385.5 L124.5 386.7 L124.6 389.1 L124.7 387.3 L124.9 389.9 L125.0 388.2 L125.1 387.1 L125.2 388.9 L125.4 389.8 L125.5 387.0 L125.6 389.2 L125.8 389.0 L125.9 384.7 L126.0 382.6 L126.2 384.8 L126.3 386.9 L126.4 389.4 L126.5 391.1 L126.7 390.4 L126.8 384.1 L126.9 385.0 L127.1 393.0 L127.2 389.7 L127.3 394.6 L127.5 388.6 L127.6 389.4 L127.7 386.1 L127.8 391.0 L128.0 387.6 L128.1 391.5 L128.2 389.2 L128.4 384.9 L128.5 387.2 L128.6 386.2 L128.8 388.0 L128.9 390.5 L129.0 391.1 L129.1 384.9 L129.3 395.3 L129.4 387.4 L129.5 394.8 L129.7 387.7 L129.8 389.0 L129.9 393.6 L130.1 394.4 L130.2 394.9 L130.3 394.7 L130.4 385.8 L130.6 393.3 L130.7 395.1 L130.8 388.5 L131.0 393.5 L131.1 392.0 L131.2 392.4 L131.4 395.2 L131.5 385.8 L131.6 388.8 L131.7 391.8 L131.9 395.3 L132.0 393.2 L132.1 387.1 L132.3 391.5 L132.4 393.5 L132.5 391.1 L132.7 395.0 L132.8 395.7 L132.9 390.2 L133.0 397.4 L133.2 390.9 L133.3 390.9 L133.4 392.3 L133.6 392.3 L133.7 397.6 L133.8 392.0 L134.0 394.2 L134.1 397.2 L134.2 393.9 L134.3 390.1 L134.5 391.0 L134.6 391.9 L134.7 393.7 L134.9 396.0 L135.0 393.0 L135.1 389.5 L135.3 393.7 L135.4 394.1 L135.5 393.5 L135.6 387.5 L135.8 389.6 L135.9 390.3 L136.0 397.5 L136.2 393.7 L136.3 393.1 L136.4 392.8 L136.6 396.6 L136.7 392.8 L136.8 397.9 L136.9 397.4 L137.1 395.7 L137.2 392.7 L137.3 395.1 L137.5 392.6 L137.6 391.7 L137.7 393.0 L137.9 387.6 L138.0 400.8 L138.1 391.2 L138.2 398.3 L138.4 392.5 L138.5 396.9 L138.6 402.2 L138.8 392.7 L138.9 391.5 L139.0 394.7 L139.2 395.8 L139.3 395.3 L139.4 400.9 L139.5 396.6 L139.7 396.3 L139.8 393.0 L139.9 396.8 L140.1 393.9 L140.2 395.2 L140.3 404.7 L140.5 398.2 L140.6 400.8 L140.7 394.3 L140.8 387.8 L141.0 398.8 L141.1 398.2 L141.2 395.2 L141.4 404.7 L141.5 394.0 L141.6 398.1 L141.8 398.9 L141.9 399.6 L142.0 395.4 L142.1 391.9 L142.3 397.4 L142.4 403.0 L142.5 394.8 L142.7 391.9 L142.8 397.0 L142.9 399.4 L143.1 400.8 L143.2 395.4 L143.3 400.4 L143.4 404.3 L143.6 397.8 L143.7 399.4 L143.8 394.0 L144.0 397.5 L144.1 398.8 L144.2 395.9 L144.4 393.6 L144.5 398.1 L144.6 402.0 L144.7 396.5 L144.9 395.9 L145.0 397.3 L145.1 395.3 L145.3 397.4 L145.4 395.0 L145.5 392.7 L145.7 398.5 L145.8 393.4 L145.9 402.1 L146.0 392.0 L146.2 392.8 L146.3 396.4 L146.4 396.4 L146.6 401.3 L146.7 401.3 L146.8 398.1 L147.0 392.1 L147.1 398.6 L147.2 395.4 L147.3 397.0 L147.5 398.1 L147.6 392.2 L147.7 394.9 L147.9 394.8 L148.0 398.1 L148.1 397.4 L148.3 399.7 L148.4 401.8 L148.5 398.8 L148.6 398.4 L148.8 397.3 L148.9 396.2 L149.0 396.5 L149.2 393.0 L149.3 400.4 L149.4 400.8 L149.6 398.9 L149.7 402.3 L149.8 400.1 L149.9 402.4 L150.1 398.4 L150.2 397.5 L150.3 398.3 L150.5 403.4 L150.6 396.7 L150.7 399.1 L150.9 394.2 L151.0 398.2 L151.1 394.6 L151.2 404.5 L151.4 394.0 L151.5 397.0 L151.6 395.5 L151.8 400.0 L151.9 398.2 L152.0 397.1 L152.2 399.3 L152.3 394.2 L152.4 394.1 L152.5 401.6 L152.7 394.4 L152.8 395.7 L152.9 399.0 L153.1 395.5 L153.2 396.8 L153.3 398.1 L153.5 398.6 L153.6 399.2 L153.7 399.1 L153.8 396.8 L154.0 401.3 L154.1 398.9 L154.2 398.0 L154.4 399.9 L154.5 397.9 L154.6 397.1 L154.8 402.9 L154.9 399.7 L155.0 398.1 L155.1 399.2 L155.3 390.6 L155.4 396.0 L155.5 395.4 L155.7 399.9 L155.8 397.9 L155.9 398.5 L156.1 396.7 L156.2 401.2 L156.3 400.7 L156.4 400.5 L156.6 398.9 L156.7 403.7 L156.8 397.1 L157.0 398.3 L157.1 397.5 L157.2 401.5 L157.4 397.0 L157.5 397.2 L157.6 398.2 L157.7 399.7 L157.9 396.9 L158.0 399.4 L158.1 400.5 L158.3 404.9 L158.4 396.5 L158.5 402.2 L158.7 399.6 L158.8 399.6 L158.9 404.6 L159.0 399.1 L159.2 401.4 L159.3 399.4 L159.4 397.3 L159.6 399.4 L159.7 399.0 L159.8 396.9 L160.0 399.2 L160.1 397.2 L160.2 404.5 L160.3 402.0 L160.5 399.3 L160.6 400.1 L160.7 397.2 L160.9 395.5 L161.0 397.5 L161.1 398.9 L161.3 397.5 L161.4 398.6 L161.5 398.8 L161.6 398.6 L161.8 400.1 L161.9 398.1 L162.0 393.3 L162.2 402.9 L162.3 398.4 L162.4 401.3 L162.6 396.2 L162.7 394.8 L162.8 395.7 L162.9 393.7 L163.1 393.8 L163.2 398.5 L163.3 399.2 L163.5 398.2 L163.6 394.7 L163.7 400.3 L163.9 395.0 L164.0 398.0 L164.1 399.2 L164.2 395.4 L164.4 399.8 L164.5 397.1 L164.6 393.2 L164.8 398.1 L164.9 394.9 L165.0 399.8 L165.2 399.4 L165.3 403.2 L165.4 396.7 L165.5 399.1 L165.7 401.2 L165.8 397.6 L165.9 399.5 L166.1 400.4 L166.2 396.5 L166.3 399.3 L166.5 398.2 L166.6 396.2 L166.7 395.1 L166.8 401.2 L167.0 398.8 L167.1 401.0 L167.2 398.8 L167.4 401.6 L167.5 398.8 L167.6 396.8 L167.8 402.1 L167.9 404.2 L168.0 396.6 L168.1 401.6 L168.3 403.8 L168.4 399.5 L168.5 396.0 L168.7 398.7 L168.8 399.5 L168.9 400.9 L169.1 402.5 L169.2 397.2 L169.3 399.0 L169.4 395.8 L169.6 402.5 L169.7 399.2 L169.8 396.3 L170.0 400.6 L170.1 403.8 L170.2 399.1 L170.4 398.5 L170.5 398.0 L170.6 402.2 L170.7 398.0 L170.9 399.4 L171.0 397.9 L171.1 401.9 L171.3 402.7 L171.4 403.8 L171.5 395.1 L171.7 399.1 L171.8 399.0 L171.9 399.6 L172.0 396.3 L172.2 398.5 L172.3 402.1 L172.4 403.2 L172.6 396.6 L172.7 400.6 L172.8 404.4 L173.0 396.8 L173.1 399.9 L173.2 401.7 L173.3 405.0 L173.5 401.2 L173.6 394.3 L173.7 399.6 L173.9 401.6 L174.0 397.5 L174.1 396.5 L174.3 397.2 L174.4 400.7 L174.5 397.8 L174.6 395.5 L174.8 396.2 L174.9 398.2 L175.0 399.1 L175.2 394.0 L175.3 403.4 L175.4 401.1 L175.6 397.1 L175.7 403.3 L175.8 397.5 L175.9 401.4 L176.1 396.4 L176.2 399.6 L176.3 400.2 L176.5 395.7 L176.6 396.1 L176.7 404.0 L176.9 403.1 L177.0 402.7 L177.1 400.9 L177.2 394.4 L177.4 397.6 L177.5 400.2 L177.6 406.1 L177.8 398.0 L177.9 400.0 L178.0 395.6 L178.2 401.7 L178.3 396.1 L178.4 398.7 L178.5 402.4 L178.7 405.2 L178.8 399.0 L178.9 401.2 L179.1 398.5 L179.2 401.6 L179.3 402.7 L179.5 398.6 L179.6 400.4 L179.7 399.5 L179.8 399.9 L180.0 403.9 L180.1 401.0 L180.2 400.6 L180.4 400.4 L180.5 403.7 L180.6 400.4 L180.8 399.6 L180.9 398.2 L181.0 399.5 L181.1 404.0 L181.3 400.4 L181.4 403.1 L181.5 402.1 L181.7 404.7 L181.8 399.9 L181.9 401.9 L182.1 401.5 L182.2 405.0 L182.3 400.8 L182.4 400.7 L182.6 399.3 L182.7 398.9 L182.8 400.4 L183.0 400.0 L183.1 401.0 L183.2 403.5 L183.4 396.9 L183.5 400.8 L183.6 401.6 L183.7 404.2 L183.9 396.3 L184.0 403.7 L184.1 405.1 L184.3 392.9 L184.4 400.5 L184.5 398.8 L184.7 395.7 L184.8 399.2 L184.9 401.8 L185.0 402.3 L185.2 402.0 L185.3 401.9 L185.4 399.0 L185.6 401.4 L185.7 393.9 L185.8 406.5 L186.0 404.3 L186.1 402.4 L186.2 402.6 L186.3 400.5 L186.5 398.3 L186.6 396.7 L186.7 394.2 L186.9 401.5 L187.0 405.8 L187.1 394.8 L187.3 398.4 L187.4 401.7 L187.5 402.4 L187.6 398.9 L187.8 399.2 L187.9 394.2 L188.0 400.9 L188.2 395.1 L188.3 398.1 L188.4 402.9 L188.6 396.9 L188.7 406.6 L188.8 401.6 L188.9 398.8 L189.1 403.3 L189.2 395.8 L189.3 400.9 L189.5 398.5 L189.6 396.8 L189.7 400.9 L189.9 399.3 L190.0 406.1 L190.1 399.6 L190.2 402.5 L190.4 397.9 L190.5 403.5 L190.6 402.5 L190.8 403.3 L190.9 399.9 L191.0 398.7 L191.2 402.3 L191.3 397.6 L191.4 404.8 L191.5 402.0 L191.7 398.8 L191.8 398.8 L191.9 401.2 L192.1 398.9 L192.2 402.9 L192.3 406.2 L192.5 401.9 L192.6 406.0 L192.7 398.7 L192.8 396.5 L193.0 401.4 L193.1 394.8 L193.2 398.7 L193.4 403.0 L193.5 401.9 L193.6 395.9 L193.8 404.3 L193.9 398.4 L194.0 402.0 L194.1 403.5 L194.3 400.7 L194.4 400.2 L194.5 402.6 L194.7 400.5 L194.8 401.6 L194.9 396.4 L195.1 400.1 L195.2 400.1 L195.3 404.3 L195.4 400.6 L195.6 402.4 L195.7 398.8 L195.8 398.3 L196.0 396.1 L196.1 397.6 L196.2 399.3 L196.4 396.9 L196.5 403.9 L196.6 400.2 L196.7 396.7 L196.9 401.6 L197.0 395.8 L197.1 396.7 L197.3 402.6 L197.4 405.0 L197.5 398.6 L197.7 402.4 L197.8 400.9 L197.9 401.8 L198.0 399.4 L198.2 399.5 L198.3 396.3 L198.4 398.8 L198.6 400.9 L198.7 398.7 L198.8 399.8 L199.0 404.8 L199.1 397.5 L199.2 403.1 L199.3 401.1 L199.5 403.9 L199.6 404.7 L199.7 398.3 L199.9 406.1 L200.0 401.3 L200.1 398.8 L200.3 400.0 L200.4 397.8 L200.5 402.0 L200.6 399.3 L200.8 403.4 L200.9 400.1 L201.0 395.1 L201.2 402.6 L201.3 400.0 L201.4 403.2 L201.6 405.1 L201.7 398.1 L201.8 400.2 L201.9 403.3 L202.1 394.4 L202.2 400.3 L202.3 399.2 L202.5 402.1 L202.6 398.7 L202.7 405.0 L202.9 400.1 L203.0 405.5 L203.1 399.1 L203.2 401.5 L203.4 398.1 L203.5 405.4 L203.6 399.3 L203.8 404.0 L203.9 401.0 L204.0 402.2 L204.2 401.9 L204.3 397.3 L204.4 397.3 L204.5 402.0 L204.7 397.6 L204.8 398.7 L204.9 402.5 L205.1 403.0 L205.2 397.6 L205.3 401.8 L205.5 404.8 L205.6 402.8 L205.7 401.1 L205.8 400.6 L206.0 402.8 L206.1 398.4 L206.2 402.2 L206.4 404.5 L206.5 402.1 L206.6 397.8 L206.8 395.5 L206.9 405.6 L207.0 401.8 L207.1 399.2 L207.3 405.1 L207.4 401.2 L207.5 403.0 L207.7 402.8 L207.8 397.1 L207.9 401.0 L208.1 399.1 L208.2 402.6 L208.3 403.2 L208.4 402.3 L208.6 400.6 L208.7 400.6 L208.8 401.8 L209.0 403.2 L209.1 400.8 L209.2 402.4 L209.4 399.7 L209.5 403.6 L209.6 405.2 L209.7 404.5 L209.9 398.8 L210.0 400.1 L210.1 398.7 L210.3 404.8 L210.4 401.3 L210.5 401.3 L210.7 402.6 L210.8 403.9 L210.9 405.6 L211.0 401.7 L211.2 406.7 L211.3 399.8 L211.4 395.6 L211.6 402.3 L211.7 401.2 L211.8 396.9 L212.0 402.0 L212.1 392.9 L212.2 403.0 L212.3 397.9 L212.5 402.9 L212.6 402.9 L212.7 403.4 L212.9 395.6 L213.0 403.1 L213.1 402.2 L213.3 402.0 L213.4 404.5 L213.5 400.1 L213.6 398.9 L213.8 407.4 L213.9 407.4 L214.0 403.0 L214.2 401.7 L214.3 397.6 L214.4 399.3 L214.6 395.0 L214.7 397.5 L214.8 402.1 L214.9 405.7 L215.1 404.4 L215.2 395.9 L215.3 403.4 L215.5 400.6 L215.6 398.6 L215.7 401.6 L215.9 404.2 L216.0 403.2 L216.1 395.6 L216.2 400.1 L216.4 402.4 L216.5 399.0 L216.6 404.3 L216.8 396.8 L216.9 408.0 L217.0 402.2 L217.2 401.9 L217.3 404.1 L217.4 404.2 L217.5 401.8 L217.7 405.4 L217.8 404.1 L217.9 401.3 L218.1 397.4 L218.2 403.6 L218.3 399.1 L218.5 399.9 L218.6 403.0 L218.7 400.7 L218.8 404.7 L219.0 402.6 L219.1 402.6 L219.2 404.8 L219.4 402.5 L219.5 402.0 L219.6 401.4 L219.8 404.0 L219.9 397.7 L220.0 403.2 L220.1 398.8 L220.3 406.3 L220.4 406.3 L220.5 400.6 L220.7 399.2 L220.8 401.0 L220.9 402.4 L221.1 404.4 L221.2 403.2 L221.3 404.2 L221.4 401.1 L221.6 406.1 L221.7 403.2 L221.8 404.0 L222.0 401.2 L222.1 404.1 L222.2 404.7 L222.4 403.2 L222.5 403.0 L222.6 402.8 L222.7 403.6 L222.9 405.6 L223.0 401.7 L223.1 403.8 L223.3 400.9 L223.4 402.1 L223.5 403.3 L223.7 401.6 L223.8 404.9 L223.9 403.3 L224.0 402.9 L224.2 399.1 L224.3 404.9 L224.4 402.3 L224.6 398.6 L224.7 403.1 L224.8 405.7 L225.0 399.9 L225.1 400.8 L225.2 400.7 L225.3 404.4 L225.5 402.2 L225.6 402.5 L225.7 398.4 L225.9 402.4 L226.0 407.6 L226.1 400.8 L226.3 406.3 L226.4 403.1 L226.5 405.2 L226.6 400.2 L226.8 402.3 L226.9 403.7 L227.0 406.3 L227.2 405.4 L227.3 403.4 L227.4 402.5 L227.6 402.1 L227.7 402.8 L227.8 401.1 L227.9 402.3 L228.1 403.8 L228.2 404.9 L228.3 402.4 L228.5 409.0 L228.6 402.7 L228.7 400.4 L228.9 398.9 L229.0 402.7 L229.1 406.5 L229.2 402.1 L229.4 407.3 L229.5 403.0 L229.6 402.0 L229.8 401.9 L229.9 404.3 L230.0 403.8 L230.2 404.0 L230.3 409.5 L230.4 404.2 L230.5 399.2 L230.7 397.2 L230.8 401.8 L230.9 400.8 L231.1 405.0 L231.2 400.5 L231.3 406.3 L231.5 406.3 L231.6 404.3 L231.7 403.0 L231.8 404.0 L232.0 405.4 L232.1 398.3 L232.2 400.4 L232.4 403.9 L232.5 408.4 L232.6 406.6 L232.8 407.9 L232.9 402.4 L233.0 402.4 L233.1 399.7 L233.3 400.4 L233.4 404.1 L233.5 401.6 L233.7 402.0 L233.8 403.5 L233.9 399.7 L234.1 403.1 L234.2 406.5 L234.3 406.5 L234.4 399.5 L234.6 402.8 L234.7 406.2 L234.8 403.3 L235.0 404.4 L235.1 401.5 L235.2 406.6 L235.4 400.2 L235.5 403.8 L235.6 396.1 L235.7 401.2 L235.9 399.6 L236.0 405.2 L236.1 407.6 L236.3 403.2 L236.4 401.8 L236.5 399.7 L236.7 406.1 L236.8 398.1 L236.9 403.6 L237.0 403.9 L237.2 401.3 L237.3 405.9 L237.4 402.2 L237.6 405.3 L237.7 399.8 L237.8 401.7 L238.0 400.2 L238.1 401.9 L238.2 406.1 L238.3 405.2 L238.5 400.0 L238.6 403.8 L238.7 405.7 L238.9 406.9 L239.0 404.6 L239.1 405.5 L239.3 401.5 L239.4 408.1 L239.5 401.9 L239.6 404.1 L239.8 403.2 L239.9 400.3 L240.0 407.2 L240.2 400.2 L240.3 402.5 L240.4 406.6 L240.6 406.1 L240.7 401.8 L240.8 403.8 L240.9 405.6 L241.1 404.6 L241.2 404.0 L241.3 401.7 L241.5 405.9 L241.6 402.5 L241.7 406.2 L241.9 402.7 L242.0 403.5 L242.1 398.7 L242.2 404.5 L242.4 403.9 L242.5 407.6 L242.6 403.8 L242.8 411.8 L242.9 402.7 L243.0 405.2 L243.2 403.8 L243.3 403.7 L243.4 403.1 L243.5 403.9 L243.7 405.2 L243.8 403.4 L243.9 400.9 L244.1 401.6 L244.2 400.5 L244.3 406.2 L244.5 403.5 L244.6 408.2 L244.7 406.8 L244.8 400.7 L245.0 402.9 L245.1 400.9 L245.2 404.0 L245.4 402.3 L245.5 403.5 L245.6 404.7 L245.8 402.7 L245.9 402.5 L246.0 402.6 L246.1 404.1 L246.3 408.0 L246.4 399.8 L246.5 406.7 L246.7 403.5 L246.8 411.2 L246.9 406.2 L247.1 407.2 L247.2 405.3 L247.3 403.1 L247.4 406.0 L247.6 404.9 L247.7 406.4 L247.8 403.5 L248.0 405.2 L248.1 405.1 L248.2 401.2 L248.4 400.8 L248.5 407.6 L248.6 403.4 L248.7 398.7 L248.9 404.4 L249.0 402.9 L249.1 405.2 L249.3 403.8 L249.4 408.4 L249.5 406.5 L249.7 405.5 L249.8 406.4 L249.9 405.4 L250.0 405.3 L250.2 404.0 L250.3 407.8 L250.4 407.4 L250.6 406.1 L250.7 401.0 L250.8 405.2 L251.0 405.0 L251.1 404.2 L251.2 406.2 L251.3 403.9 L251.5 408.0 L251.6 408.2 L251.7 408.3 L251.9 410.1 L252.0 407.2 L252.1 408.6 L252.3 403.2 L252.4 402.4 L252.5 406.0 L252.6 405.4 L252.8 406.6 L252.9 403.6 L253.0 404.1 L253.2 403.7 L253.3 404.4 L253.4 400.8 L253.6 399.3 L253.7 405.0 L253.8 405.2 L253.9 409.5 L254.1 401.0 L254.2 406.2 L254.3 403.6 L254.5 407.6 L254.6 405.2 L254.7 405.3 L254.9 408.1 L255.0 406.2 L255.1 405.9 L255.2 405.1 L255.4 404.9 L255.5 399.7 L255.6 407.2 L255.8 406.0 L255.9 409.1 L256.0 407.2 L256.2 407.0 L256.3 403.3 L256.4 404.4 L256.5 405.7 L256.7 403.8 L256.8 402.4 L256.9 405.0 L257.1 401.5 L257.2 401.0 L257.3 404.2 L257.5 409.5 L257.6 403.6 L257.7 402.3 L257.8 402.2 L258.0 404.8 L258.1 406.0 L258.2 404.5 L258.4 403.1 L258.5 407.7 L258.6 404.0 L258.8 402.6 L258.9 400.2 L259.0 401.1 L259.1 405.1 L259.3 409.8 L259.4 411.2 L259.5 408.1 L259.7 407.7 L259.8 406.0 L259.9 406.1 L260.1 406.1 L260.2 402.9 L260.3 403.9 L260.4 409.3 L260.6 407.3 L260.7 404.4 L260.8 404.8 L261.0 407.7 L261.1 405.6 L261.2 409.7 L261.4 408.5 L261.5 401.8 L261.6 407.2 L261.7 401.4 L261.9 403.9 L262.0 408.3 L262.1 406.6 L262.3 400.9 L262.4 404.2 L262.5 401.9 L262.7 409.0 L262.8 410.0 L262.9 404.2 L263.0 401.4 L263.2 408.4 L263.3 405.1 L263.4 405.8 L263.6 401.2 L263.7 401.5 L263.8 408.0 L264.0 404.7 L264.1 403.9 L264.2 406.3 L264.3 402.6 L264.5 403.1 L264.6 407.1 L264.7 405.3 L264.9 405.9 L265.0 406.8 L265.1 407.4 L265.3 407.4 L265.4 404.3 L265.5 410.4 L265.6 406.1 L265.8 402.1 L265.9 402.4 L266.0 407.6 L266.2 405.4 L266.3 404.2 L266.4 410.3 L266.6 401.3 L266.7 404.6 L266.8 409.7 L266.9 408.7 L267.1 405.8 L267.2 402.5 L267.3 405.5 L267.5 406.7 L267.6 404.4 L267.7 407.6 L267.9 404.8 L268.0 404.9 L268.1 406.7 L268.2 409.2 L268.4 404.6 L268.5 404.8 L268.6 402.8 L268.8 410.3 L268.9 406.6 L269.0 401.5 L269.2 408.7 L269.3 406.9 L269.4 413.0 L269.5 404.7 L269.7 408.5 L269.8 405.8 L269.9 406.3 L270.1 405.4 L270.2 405.4 L270.3 406.2 L270.5 408.8 L270.6 404.8 L270.7 402.5 L270.8 405.4 L271.0 409.6 L271.1 402.0 L271.2 406.3 L271.4 410.3 L271.5 405.1 L271.6 402.8 L271.8 403.0 L271.9 407.8 L272.0 405.3 L272.1 408.2 L272.3 407.7 L272.4 405.6 L272.5 408.7 L272.7 408.3 L272.8 404.8 L272.9 409.6 L273.1 405.0 L273.2 400.7 L273.3 405.8 L273.4 407.6 L273.6 404.6 L273.7 401.5 L273.8 406.9 L274.0 406.4 L274.1 405.0 L274.2 406.9 L274.4 407.3 L274.5 401.9 L274.6 399.5 L274.7 408.2 L274.9 403.8 L275.0 405.3 L275.1 403.2 L275.3 402.6 L275.4 404.3 L275.5 403.8 L275.7 403.1 L275.8 406.6 L275.9 405.7 L276.0 402.7 L276.2 403.5 L276.3 403.6 L276.4 407.5 L276.6 405.9 L276.7 407.5 L276.8 407.5 L277.0 405.6 L277.1 407.0 L277.2 406.3 L277.3 407.6 L277.5 409.1 L277.6 408.8 L277.7 406.6 L277.9 409.6 L278.0 408.7 L278.1 407.1 L278.3 406.5 L278.4 405.3 L278.5 408.1 L278.6 407.8 L278.8 404.2 L278.9 404.0 L279.0 402.1 L279.2 403.3 L279.3 405.2 L279.4 404.1 L279.6 406.5 L279.7 403.6 L279.8 409.7 L279.9 409.8 L280.1 401.9 L280.2 402.0 L280.3 405.2 L280.5 409.0 L280.6 407.9 L280.7 405.0 L280.9 405.1 L281.0 407.6 L281.1 402.8 L281.2 405.4 L281.4 398.2 L281.5 406.9 L281.6 405.0 L281.8 404.2 L281.9 408.7 L282.0 405.3 L282.2 409.6 L282.3 406.8 L282.4 405.2 L282.5 405.8 L282.7 407.5 L282.8 408.2 L282.9 412.2 L283.1 408.4 L283.2 408.0 L283.3 410.0 L283.5 406.4 L283.6 404.4 L283.7 409.9 L283.8 401.7 L284.0 405.9 L284.1 404.2 L284.2 409.7 L284.4 405.0 L284.5 402.3 L284.6 404.4 L284.8 403.2 L284.9 408.0 L285.0 409.1 L285.1 409.0 L285.3 412.4 L285.4 407.1 L285.5 407.7 L285.7 408.7 L285.8 408.9 L285.9 403.9 L286.1 409.2 L286.2 406.2 L286.3 407.3 L286.4 406.6 L286.6 408.6 L286.7 411.7 L286.8 405.4 L287.0 404.4 L287.1 405.4 L287.2 408.7 L287.4 407.5 L287.5 407.7 L287.6 406.5 L287.7 406.7 L287.9 406.4 L288.0 410.2 L288.1 408.5 L288.3 407.6 L288.4 405.5 L288.5 406.4 L288.7 405.9 L288.8 405.3 L288.9 405.4 L289.0 405.0 L289.2 406.7 L289.3 405.3 L289.4 405.0 L289.6 407.7 L289.7 404.5 L289.8 404.7 L290.0 407.0 L290.1 408.6 L290.2 404.1 L290.3 407.5 L290.5 403.9 L290.6 404.7 L290.7 406.3 L290.9 405.8 L291.0 406.2 L291.1 410.1 L291.3 405.8 L291.4 408.1 L291.5 408.5 L291.6 404.3 L291.8 405.1 L291.9 407.1 L292.0 409.6 L292.2 409.1 L292.3 412.5 L292.4 408.1 L292.6 405.7 L292.7 410.8 L292.8 408.1 L292.9 409.8 L293.1 407.3 L293.2 410.4 L293.3 410.6 L293.5 405.3 L293.6 408.7 L293.7 409.0 L293.9 409.1 L294.0 408.4 L294.1 402.6 L294.2 408.4 L294.4 406.4 L294.5 403.1 L294.6 407.1 L294.8 402.9 L294.9 406.7 L295.0 402.8 L295.2 403.3 L295.3 406.0 L295.4 412.0 L295.5 402.7 L295.7 406.3 L295.8 407.4 L295.9 407.0 L296.1 403.7 L296.2 407.8 L296.3 405.5 L296.5 406.8 L296.6 410.0 L296.7 404.0 L296.8 406.8 L297.0 407.2 L297.1 412.7 L297.2 409.3 L297.4 408.7 L297.5 407.9 L297.6 406.6 L297.8 407.3 L297.9 404.2 L298.0 408.3 L298.1 410.4 L298.3 407.8 L298.4 410.2 L298.5 407.7 L298.7 405.6 L298.8 407.7 L298.9 401.0 L299.1 407.1 L299.2 405.3 L299.3 405.7 L299.4 402.6 L299.6 406.5 L299.7 407.4 L299.8 407.5 L300.0 407.9 L300.1 407.8 L300.2 407.1 L300.4 407.6 L300.5 408.5 L300.6 405.2 L300.7 408.3 L300.9 403.4 L301.0 406.1 L301.1 405.6 L301.3 406.0 L301.4 408.7 L301.5 410.1 L301.7 405.7 L301.8 406.2 L301.9 409.8 L302.0 409.4 L302.2 405.6 L302.3 402.1 L302.4 404.9 L302.6 409.8 L302.7 406.7 L302.8 404.6 L303.0 413.2 L303.1 408.2 L303.2 409.9 L303.3 405.4 L303.5 409.7 L303.6 412.8 L303.7 412.7 L303.9 408.8 L304.0 406.1 L304.1 411.5 L304.3 406.1 L304.4 407.2 L304.5 406.7 L304.6 409.1 L304.8 411.1 L304.9 404.6 L305.0 410.5 L305.2 404.6 L305.3 407.8 L305.4 409.8 L305.6 408.5 L305.7 409.3 L305.8 407.6 L305.9 409.0 L306.1 407.5 L306.2 409.8 L306.3 405.6 L306.5 406.6 L306.6 409.4 L306.7 407.6 L306.9 410.8 L307.0 410.9 L307.1 404.4 L307.2 403.0 L307.4 411.6 L307.5 406.6 L307.6 408.3 L307.8 405.5 L307.9 407.7 L308.0 409.7 L308.2 407.8 L308.3 405.6 L308.4 404.6 L308.5 405.8 L308.7 407.1 L308.8 408.8 L308.9 409.7 L309.1 405.1 L309.2 411.3 L309.3 400.3 L309.5 410.3 L309.6 406.2 L309.7 411.9 L309.8 407.4 L310.0 406.2 L310.1 409.5 L310.2 407.9 L310.4 404.5 L310.5 405.2 L310.6 409.0 L310.8 411.3 L310.9 405.3 L311.0 409.1 L311.1 406.3 L311.3 406.5 L311.4 408.0 L311.5 405.5 L311.7 405.3 L311.8 413.9 L311.9 406.6 L312.1 407.7 L312.2 406.7 L312.3 407.3 L312.4 407.4 L312.6 411.8 L312.7 405.6 L312.8 408.9 L313.0 412.3 L313.1 407.0 L313.2 405.0 L313.4 413.5 L313.5 406.4 L313.6 408.2 L313.7 408.8 L313.9 409.4 L314.0 405.3 L314.1 403.5 L314.3 408.6 L314.4 406.8 L314.5 406.9 L314.7 408.2 L314.8 411.2 L314.9 407.6 L315.0 407.4 L315.2 405.0 L315.3 409.9 L315.4 404.6 L315.6 410.9 L315.7 409.0 L315.8 410.5 L316.0 406.7 L316.1 408.7 L316.2 412.8 L316.3 405.7 L316.5 408.1 L316.6 412.7 L316.7 407.4 L316.9 407.8 L317.0 407.8 L317.1 410.6 L317.3 409.8 L317.4 403.5 L317.5 411.9 L317.6 412.5 L317.8 412.7 L317.9 405.5 L318.0 408.8 L318.2 409.3 L318.3 405.9 L318.4 408.9 L318.6 408.8 L318.7 402.2 L318.8 407.7 L318.9 411.5 L319.1 408.3 L319.2 408.1 L319.3 406.7 L319.5 411.2 L319.6 409.0 L319.7 415.6 L319.9 408.4 L320.0 407.0 L320.1 406.5 L320.2 413.2 L320.4 404.2 L320.5 402.2 L320.6 407.1 L320.8 406.2 L320.9 414.4 L321.0 412.2 L321.2 409.4 L321.3 412.2 L321.4 406.6 L321.5 410.6 L321.7 412.2 L321.8 409.6 L321.9 410.8 L322.1 409.1 L322.2 404.8 L322.3 403.1 L322.5 406.3 L322.6 411.5 L322.7 408.0 L322.8 407.3 L323.0 411.2 L323.1 411.7 L323.2 410.6 L323.4 410.3 L323.5 410.3 L323.6 406.3 L323.8 411.0 L323.9 408.4 L324.0 406.6 L324.1 407.1 L324.3 411.0 L324.4 405.8 L324.5 407.0 L324.7 412.3 L324.8 400.4 L324.9 406.8 L325.1 406.5 L325.2 407.4 L325.3 407.9 L325.4 408.3 L325.6 405.9 L325.7 408.9 L325.8 406.1 L326.0 409.3 L326.1 408.9 L326.2 413.1 L326.4 413.0 L326.5 404.8 L326.6 411.9 L326.7 412.3 L326.9 409.4 L327.0 411.1 L327.1 410.9 L327.3 410.5 L327.4 408.1 L327.5 409.7 L327.7 417.3 L327.8 409.2 L327.9 409.7 L328.0 412.7 L328.2 409.1 L328.3 405.7 L328.4 409.6 L328.6 409.3 L328.7 403.5 L328.8 410.3 L329.0 409.1 L329.1 409.5 L329.2 405.4 L329.3 405.1 L329.5 412.9 L329.6 409.7 L329.7 408.0 L329.9 410.8 L330.0 407.4 L330.1 412.8 L330.3 407.9 L330.4 408.7 L330.5 415.6 L330.6 408.7 L330.8 408.6 L330.9 408.8 L331.0 402.6 L331.2 404.8 L331.3 404.9 L331.4 408.3 L331.6 408.6 L331.7 409.2 L331.8 411.0 L331.9 411.6 L332.1 408.2 L332.2 412.3 L332.3 407.0 L332.5 405.1 L332.6 409.4 L332.7 406.0 L332.9 406.4 L333.0 406.8 L333.1 414.4 L333.2 410.5 L333.4 407.7 L333.5 408.2 L333.6 411.4 L333.8 409.8 L333.9 406.9 L334.0 412.1 L334.2 411.3 L334.3 409.9 L334.4 412.3 L334.5 408.5 L334.7 405.9 L334.8 413.1 L334.9 408.3 L335.1 408.7 L335.2 409.6 L335.3 411.6 L335.5 405.2 L335.6 409.1 L335.7 407.6 L335.8 413.0 L336.0 408.6 L336.1 406.9 L336.2 413.5 L336.4 409.8 L336.5 407.0 L336.6 407.6 L336.8 412.6 L336.9 409.6 L337.0 411.8 L337.1 411.5 L337.3 411.0 L337.4 409.4 L337.5 410.3 L337.7 410.1 L337.8 410.3 L337.9 411.9 L338.1 410.9 L338.2 412.5 L338.3 408.8 L338.4 408.4 L338.6 412.3 L338.7 403.3 L338.8 409.4 L339.0 408.4 L339.1 409.6 L339.2 408.8 L339.4 410.2 L339.5 408.9 L339.6 407.5 L339.7 408.8 L339.9 411.4 L340.0 408.4 L340.1 411.4 L340.3 415.7 L340.4 411.9 L340.5 408.0 L340.7 410.1 L340.8 409.2 L340.9 408.8 L341.0 409.8 L341.2 410.9 L341.3 409.0 L341.4 410.5 L341.6 411.8 L341.7 408.0 L341.8 415.2 L342.0 409.6 L342.1 408.0 L342.2 405.5 L342.3 408.0 L342.5 408.8 L342.6 405.4 L342.7 412.3 L342.9 408.4 L343.0 409.3 L343.1 406.8 L343.3 408.5 L343.4 411.8" fill="none" stroke="#c82cf5" stroke-width="1.05"/>
<path d="M38.8 466.8 L38.9 470.0 L39.1 465.4 L39.2 465.7 L39.3 466.2 L39.5 468.3 L39.6 467.9 L39.7 463.4 L39.8 462.4 L40.0 461.8 L40.1 465.5 L40.2 465.0 L40.4 465.6 L40.5 466.5 L40.6 464.6 L40.8 460.0 L40.9 461.6 L41.0 468.6 L41.1 466.4 L41.3 464.5 L41.4 468.3 L41.5 464.7 L41.7 462.5 L41.8 465.0 L41.9 459.8 L42.1 462.0 L42.2 470.4 L42.3 458.1 L42.4 469.5 L42.6 459.2 L42.7 464.3 L42.8 462.8 L43.0 464.4 L43.1 465.6 L43.2 468.8 L43.4 467.1 L43.5 463.1 L43.6 471.3 L43.7 463.6 L43.9 463.6 L44.0 470.0 L44.1 458.6 L44.3 463.6 L44.4 465.5 L44.5 464.8 L44.7 466.6 L44.8 469.3 L44.9 465.2 L45.0 465.9 L45.2 461.9 L45.3 461.1 L45.4 460.4 L45.6 466.6 L45.7 462.1 L45.8 463.5 L46.0 465.6 L46.1 462.7 L46.2 462.9 L46.3 467.0 L46.5 463.5 L46.6 460.6 L46.7 460.5 L46.9 460.9 L47.0 458.2 L47.1 459.3 L47.3 455.9 L47.4 460.4 L47.5 461.1 L47.6 459.7 L47.8 465.2 L47.9 462.4 L48.0 461.5 L48.2 461.4 L48.3 464.0 L48.4 463.2 L48.6 464.8 L48.7 460.8 L48.8 464.2 L48.9 462.9 L49.1 460.3 L49.2 464.1 L49.3 459.5 L49.5 459.7 L49.6 461.1 L49.7 462.4 L49.9 463.5 L50.0 462.2 L50.1 458.7 L50.2 461.8 L50.4 458.9 L50.5 458.4 L50.6 462.4 L50.8 468.0 L50.9 461.1 L51.0 454.2 L51.2 463.6 L51.3 460.5 L51.4 455.0 L51.5 459.9 L51.7 463.1 L51.8 458.4 L51.9 458.4 L52.1 464.0 L52.2 457.7 L52.3 464.9 L52.5 457.8 L52.6 461.2 L52.7 462.2 L52.8 453.9 L53.0 463.5 L53.1 459.7 L53.2 465.6 L53.4 458.5 L53.5 461.1 L53.6 462.0 L53.8 464.1 L53.9 459.5 L54.0 459.0 L54.1 461.5 L54.3 459.9 L54.4 456.1 L54.5 461.4 L54.7 460.4 L54.8 459.4 L54.9 464.6 L55.1 457.8 L55.2 457.6 L55.3 461.0 L55.4 456.1 L55.6 457.0 L55.7 461.1 L55.8 461.0 L56.0 459.9 L56.1 459.0 L56.2 458.7 L56.4 455.1 L56.5 455.3 L56.6 459.1 L56.7 453.7 L56.9 459.9 L57.0 453.1 L57.1 456.5 L57.3 451.9 L57.4 460.2 L57.5 461.7 L57.7 454.1 L57.8 461.2 L57.9 461.0 L58.0 458.3 L58.2 452.6 L58.3 461.8 L58.4 459.3 L58.6 456.9 L58.7 455.8 L58.8 458.7 L59.0 455.3 L59.1 460.8 L59.2 460.5 L59.3 460.2 L59.5 454.5 L59.6 456.6 L59.7 452.5 L59.9 456.0 L60.0 448.8 L60.1 450.6 L60.3 453.6 L60.4 455.8 L60.5 460.0 L60.6 453.6 L60.8 457.9 L60.9 458.6 L61.0 457.2 L61.2 455.3 L61.3 453.4 L61.4 453.5 L61.6 451.8 L61.7 456.5 L61.8 453.9 L61.9 458.2 L62.1 453.0 L62.2 455.7 L62.3 457.0 L62.5 453.7 L62.6 456.6 L62.7 453.1 L62.9 459.1 L63.0 452.2 L63.1 452.4 L63.2 451.2 L63.4 454.5 L63.5 451.7 L63.6 458.9 L63.8 449.7 L63.9 454.4 L64.0 455.5 L64.2 450.1 L64.3 455.6 L64.4 451.1 L64.5 451.3 L64.7 453.9 L64.8 449.8 L64.9 446.2 L65.1 454.1 L65.2 455.4 L65.3 457.3 L65.5 447.7 L65.6 451.6 L65.7 455.9 L65.8 457.8 L66.0 456.0 L66.1 446.4 L66.2 450.3 L66.4 449.1 L66.5 453.9 L66.6 455.4 L66.8 451.4 L66.9 451.5 L67.0 456.8 L67.1 453.3 L67.3 451.2 L67.4 452.7 L67.5 446.5 L67.7 448.5 L67.8 446.9 L67.9 456.3 L68.1 450.4 L68.2 448.5 L68.3 451.5 L68.4 449.5 L68.6 450.5 L68.7 454.1 L68.8 457.2 L69.0 452.7 L69.1 450.3 L69.2 447.6 L69.4 448.5 L69.5 450.0 L69.6 452.6 L69.7 450.8 L69.9 446.5 L70.0 450.2 L70.1 455.2 L70.3 447.9 L70.4 450.2 L70.5 448.6 L70.7 453.0 L70.8 446.3 L70.9 455.0 L71.0 451.2 L71.2 450.7 L71.3 450.5 L71.4 451.5 L71.6 451.6 L71.7 444.4 L71.8 447.5 L72.0 450.4 L72.1 449.7 L72.2 452.4 L72.3 451.0 L72.5 442.1 L72.6 444.5 L72.7 447.0 L72.9 447.3 L73.0 445.7 L73.1 441.7 L73.3 444.9 L73.4 445.9 L73.5 444.5 L73.6 449.8 L73.8 451.4 L73.9 445.3 L74.0 444.5 L74.2 448.6 L74.3 446.0 L74.4 450.0 L74.6 447.9 L74.7 439.4 L74.8 444.8 L74.9 446.0 L75.1 444.8 L75.2 451.1 L75.3 443.9 L75.5 448.9 L75.6 438.8 L75.7 446.1 L75.9 440.0 L76.0 447.7 L76.1 446.7 L76.2 444.2 L76.4 441.4 L76.5 444.0 L76.6 448.7 L76.8 448.1 L76.9 451.5 L77.0 442.0 L77.2 447.7 L77.3 446.9 L77.4 444.5 L77.5 442.2 L77.7 444.8 L77.8 441.6 L77.9 445.2 L78.1 445.9 L78.2 449.0 L78.3 440.4 L78.4 444.7 L78.6 439.3 L78.7 445.4 L78.8 443.6 L79.0 444.7 L79.1 440.8 L79.2 440.7 L79.4 442.5 L79.5 440.0 L79.6 445.3 L79.7 441.3 L79.9 444.3 L80.0 437.8 L80.1 438.4 L80.3 429.6 L80.4 443.5 L80.5 442.3 L80.7 446.5 L80.8 443.3 L80.9 445.4 L81.0 440.8 L81.2 442.2 L81.3 440.9 L81.4 442.5 L81.6 440.5 L81.7 443.5 L81.8 443.1 L82.0 442.6 L82.1 439.6 L82.2 442.7 L82.3 436.5 L82.5 438.0 L82.6 441.4 L82.7 439.7 L82.9 442.0 L83.0 438.9 L83.1 436.3 L83.3 439.4 L83.4 438.7 L83.5 438.6 L83.6 437.8 L83.8 434.6 L83.9 433.3 L84.0 443.5 L84.2 435.3 L84.3 441.9 L84.4 440.1 L84.6 436.9 L84.7 437.6 L84.8 438.3 L84.9 439.3 L85.1 437.6 L85.2 437.7 L85.3 438.7 L85.5 442.3 L85.6 432.6 L85.7 433.7 L85.9 438.1 L86.0 438.6 L86.1 446.5 L86.2 438.5 L86.4 440.5 L86.5 439.0 L86.6 432.9 L86.8 433.3 L86.9 433.8 L87.0 440.5 L87.2 438.9 L87.3 432.1 L87.4 432.2 L87.5 435.1 L87.7 433.6 L87.8 439.3 L87.9 435.4 L88.1 431.9 L88.2 436.3 L88.3 438.8 L88.5 434.0 L88.6 435.9 L88.7 440.5 L88.8 432.6 L89.0 428.5 L89.1 429.3 L89.2 442.2 L89.4 432.1 L89.5 435.1 L89.6 430.7 L89.8 432.1 L89.9 442.5 L90.0 433.6 L90.1 431.0 L90.3 439.8 L90.4 435.3 L90.5 430.3 L90.7 438.6 L90.8 436.0 L90.9 435.3 L91.1 436.9 L91.2 438.3 L91.3 440.6 L91.4 432.0 L91.6 431.3 L91.7 436.6 L91.8 428.0 L92.0 438.2 L92.1 437.6 L92.2 427.9 L92.4 432.4 L92.5 431.6 L92.6 429.8 L92.7 431.4 L92.9 432.4 L93.0 427.6 L93.1 432.6 L93.3 431.3 L93.4 428.3 L93.5 432.7 L93.7 433.9 L93.8 432.9 L93.9 427.2 L94.0 432.3 L94.2 426.8 L94.3 426.6 L94.4 430.6 L94.6 432.5 L94.7 423.2 L94.8 429.9 L95.0 430.5 L95.1 430.7 L95.2 433.5 L95.3 427.5 L95.5 431.8 L95.6 424.9 L95.7 430.7 L95.9 431.6 L96.0 425.7 L96.1 428.2 L96.3 430.7 L96.4 425.3 L96.5 427.3 L96.6 433.4 L96.8 433.2 L96.9 417.3 L97.0 424.6 L97.2 426.7 L97.3 426.7 L97.4 420.6 L97.6 425.5 L97.7 432.0 L97.8 427.1 L97.9 426.6 L98.1 423.1 L98.2 433.3 L98.3 437.2 L98.5 425.5 L98.6 427.9 L98.7 430.2 L98.9 430.6 L99.0 429.4 L99.1 421.8 L99.2 427.0 L99.4 428.1 L99.5 427.5 L99.6 430.6 L99.8 429.1 L99.9 426.6 L100.0 427.3 L100.2 432.8 L100.3 434.2 L100.4 425.0 L100.5 422.7 L100.7 428.0 L100.8 425.6 L100.9 429.0 L101.1 427.5 L101.2 427.1 L101.3 429.9 L101.5 428.4 L101.6 430.9 L101.7 424.0 L101.8 436.1 L102.0 441.5 L102.1 424.8 L102.2 424.0 L102.4 437.3 L102.5 429.8 L102.6 431.0 L102.8 431.4 L102.9 425.7 L103.0 426.3 L103.1 432.5 L103.3 423.7 L103.4 426.3 L103.5 438.4 L103.7 429.9 L103.8 432.0 L103.9 433.0 L104.1 433.9 L104.2 430.8 L104.3 435.4 L104.4 421.4 L104.6 432.8 L104.7 431.1 L104.8 436.0 L105.0 437.1 L105.1 431.0 L105.2 435.7 L105.4 442.2 L105.5 432.7 L105.6 431.6 L105.7 443.9 L105.9 428.2 L106.0 434.3 L106.1 432.6 L106.3 444.1 L106.4 427.5 L106.5 433.5 L106.7 430.4 L106.8 437.1 L106.9 439.1 L107.0 430.5 L107.2 428.1 L107.3 442.8 L107.4 428.9 L107.6 434.0 L107.7 435.6 L107.8 433.3 L108.0 433.9 L108.1 439.0 L108.2 435.3 L108.3 436.2 L108.5 435.9 L108.6 436.2 L108.7 437.5 L108.9 438.7 L109.0 432.3 L109.1 436.9 L109.3 441.6 L109.4 436.5 L109.5 441.2 L109.6 436.4 L109.8 438.4 L109.9 441.3 L110.0 439.9 L110.2 439.9 L110.3 440.5 L110.4 437.6 L110.6 435.9 L110.7 439.5 L110.8 438.5 L110.9 440.7 L111.1 443.5 L111.2 442.2 L111.3 440.9 L111.5 440.8 L111.6 445.9 L111.7 436.8 L111.9 434.7 L112.0 437.5 L112.1 447.6 L112.2 444.0 L112.4 437.0 L112.5 441.0 L112.6 435.0 L112.8 443.2 L112.9 447.1 L113.0 441.6 L113.2 440.1 L113.3 449.5 L113.4 440.2 L113.5 440.5 L113.7 446.3 L113.8 438.6 L113.9 440.4 L114.1 444.4 L114.2 444.7 L114.3 449.7 L114.5 446.6 L114.6 442.0 L114.7 447.8 L114.8 444.9 L115.0 444.7 L115.1 443.2 L115.2 445.5 L115.4 446.8 L115.5 443.8 L115.6 446.2 L115.8 442.6 L115.9 444.0 L116.0 443.0 L116.1 441.2 L116.3 442.1 L116.4 448.2 L116.5 444.6 L116.7 446.2 L116.8 441.6 L116.9 446.4 L117.1 445.3 L117.2 444.2 L117.3 440.3 L117.4 455.7 L117.6 446.1 L117.7 443.9 L117.8 450.2 L118.0 449.7 L118.1 440.9 L118.2 445.8 L118.4 442.2 L118.5 444.6 L118.6 448.1 L118.7 443.8 L118.9 451.1 L119.0 445.5 L119.1 448.3 L119.3 445.7 L119.4 448.3 L119.5 445.7 L119.7 448.9 L119.8 454.0 L119.9 452.3 L120.0 451.9 L120.2 450.9 L120.3 452.4 L120.4 448.3 L120.6 449.1 L120.7 451.1 L120.8 453.7 L121.0 443.0 L121.1 448.4 L121.2 449.3 L121.3 451.0 L121.5 451.9 L121.6 449.9 L121.7 448.2 L121.9 451.6 L122.0 447.2 L122.1 449.1 L122.3 456.5 L122.4 450.4 L122.5 455.0 L122.6 453.9 L122.8 442.7 L122.9 453.5 L123.0 453.6 L123.2 455.4 L123.3 446.9 L123.4 456.1 L123.6 450.2 L123.7 448.5 L123.8 447.6 L123.9 450.0 L124.1 454.0 L124.2 455.9 L124.3 444.1 L124.5 451.8 L124.6 451.4 L124.7 452.8 L124.9 454.1 L125.0 451.3 L125.1 452.1 L125.2 448.8 L125.4 448.0 L125.5 451.3 L125.6 455.6 L125.8 456.1 L125.9 454.1 L126.0 452.9 L126.2 443.2 L126.3 455.8 L126.4 453.0 L126.5 453.0 L126.7 453.6 L126.8 454.0 L126.9 454.8 L127.1 453.2 L127.2 454.7 L127.3 450.4 L127.5 454.2 L127.6 457.1 L127.7 454.2 L127.8 457.1 L128.0 450.4 L128.1 452.3 L128.2 454.8 L128.4 454.3 L128.5 452.0 L128.6 453.3 L128.8 451.7 L128.9 450.1 L129.0 454.1 L129.1 455.7 L129.3 460.4 L129.4 458.9 L129.5 453.3 L129.7 455.5 L129.8 447.0 L129.9 463.9 L130.1 452.8 L130.2 455.5 L130.3 460.5 L130.4 455.6 L130.6 462.2 L130.7 450.5 L130.8 454.4 L131.0 458.9 L131.1 458.6 L131.2 459.0 L131.4 463.5 L131.5 458.1 L131.6 455.8 L131.7 452.3 L131.9 455.2 L132.0 455.2 L132.1 456.6 L132.3 456.2 L132.4 459.3 L132.5 455.0 L132.7 453.9 L132.8 459.9 L132.9 455.0 L133.0 461.5 L133.2 456.7 L133.3 459.8 L133.4 460.3 L133.6 456.1 L133.7 459.2 L133.8 458.0 L134.0 457.4 L134.1 459.2 L134.2 455.1 L134.3 457.5 L134.5 454.9 L134.6 460.3 L134.7 457.6 L134.9 454.7 L135.0 458.0 L135.1 459.8 L135.3 454.6 L135.4 453.9 L135.5 454.8 L135.6 458.2 L135.8 458.7 L135.9 460.7 L136.0 459.6 L136.2 456.9 L136.3 456.0 L136.4 449.8 L136.6 459.2 L136.7 457.1 L136.8 456.4 L136.9 463.8 L137.1 459.4 L137.2 459.8 L137.3 456.8 L137.5 461.2 L137.6 465.5 L137.7 459.1 L137.9 460.7 L138.0 457.9 L138.1 458.4 L138.2 460.5 L138.4 460.6 L138.5 456.8 L138.6 454.7 L138.8 457.5 L138.9 456.8 L139.0 464.0 L139.2 459.0 L139.3 457.5 L139.4 463.0 L139.5 465.2 L139.7 457.3 L139.8 458.2 L139.9 460.7 L140.1 457.4 L140.2 460.9 L140.3 465.3 L140.5 463.9 L140.6 462.8 L140.7 456.6 L140.8 455.6 L141.0 458.4 L141.1 458.7 L141.2 460.3 L141.4 461.4 L141.5 456.1 L141.6 458.3 L141.8 454.0 L141.9 459.6 L142.0 457.7 L142.1 459.4 L142.3 456.3 L142.4 459.6 L142.5 457.3 L142.7 462.3 L142.8 456.1 L142.9 458.4 L143.1 454.8 L143.2 460.3 L143.3 464.0 L143.4 463.4 L143.6 459.4 L143.7 460.8 L143.8 463.0 L144.0 454.6 L144.1 458.6 L144.2 460.6 L144.4 459.5 L144.5 454.4 L144.6 462.4 L144.7 457.1 L144.9 460.9 L145.0 460.5 L145.1 459.5 L145.3 459.3 L145.4 463.4 L145.5 460.8 L145.7 458.6 L145.8 455.3 L145.9 459.9 L146.0 459.6 L146.2 462.1 L146.3 459.7 L146.4 462.0 L146.6 457.6 L146.7 463.3 L146.8 463.9 L147.0 459.8 L147.1 462.4 L147.2 457.6 L147.3 461.5 L147.5 459.3 L147.6 462.8 L147.7 460.1 L147.9 461.6 L148.0 458.0 L148.1 458.9 L148.3 460.8 L148.4 461.9 L148.5 455.9 L148.6 466.0 L148.8 458.5 L148.9 457.3 L149.0 457.3 L149.2 460.3 L149.3 461.3 L149.4 458.4 L149.6 457.7 L149.7 461.2 L149.8 460.8 L149.9 462.5 L150.1 462.8 L150.2 461.0 L150.3 457.4 L150.5 462.1 L150.6 463.6 L150.7 457.1 L150.9 460.2 L151.0 461.2 L151.1 460.1 L151.2 465.2 L151.4 463.5 L151.5 458.5 L151.6 458.7 L151.8 460.4 L151.9 462.2 L152.0 461.4 L152.2 463.7 L152.3 458.3 L152.4 460.8 L152.5 460.7 L152.7 463.1 L152.8 461.5 L152.9 465.1 L153.1 457.5 L153.2 457.6 L153.3 463.6 L153.5 465.4 L153.6 456.1 L153.7 464.0 L153.8 461.4 L154.0 464.0 L154.1 466.6 L154.2 457.1 L154.4 465.5 L154.5 462.4 L154.6 461.3 L154.8 458.1 L154.9 463.9 L155.0 466.1 L155.1 460.1 L155.3 462.0 L155.4 456.8 L155.5 460.5 L155.7 460.1 L155.8 460.2 L155.9 459.5 L156.1 454.9 L156.2 463.4 L156.3 466.4 L156.4 457.9 L156.6 466.7 L156.7 454.6 L156.8 463.5 L157.0 466.4 L157.1 457.5 L157.2 459.9 L157.4 465.9 L157.5 460.0 L157.6 458.6 L157.7 464.1 L157.9 468.5 L158.0 461.7 L158.1 464.1 L158.3 467.0 L158.4 463.6 L158.5 467.1 L158.7 459.9 L158.8 461.0 L158.9 464.0 L159.0 462.5 L159.2 460.6 L159.3 458.0 L159.4 463.8 L159.6 458.9 L159.7 461.7 L159.8 461.8 L160.0 467.6 L160.1 460.7 L160.2 460.2 L160.3 465.2 L160.5 463.3 L160.6 458.1 L160.7 466.6 L160.9 463.2 L161.0 457.7 L161.1 465.8 L161.3 464.1 L161.4 460.6 L161.5 469.9 L161.6 466.7 L161.8 463.3 L161.9 461.7 L162.0 460.9 L162.2 461.7 L162.3 459.6 L162.4 461.3 L162.6 474.7 L162.7 462.9 L162.8 464.1 L162.9 468.3 L163.1 463.5 L163.2 461.6 L163.3 467.6 L163.5 460.2 L163.6 460.8 L163.7 464.5 L163.9 461.2 L164.0 462.5 L164.1 462.3 L164.2 463.9 L164.4 461.9 L164.5 463.5 L164.6 462.5 L164.8 469.5 L164.9 459.8 L165.0 459.9 L165.2 466.5 L165.3 467.2 L165.4 464.9 L165.5 458.0 L165.7 458.2 L165.8 461.8 L165.9 463.2 L166.1 464.1 L166.2 462.4 L166.3 464.2 L166.5 463.5 L166.6 457.9 L166.7 466.1 L166.8 463.3 L167.0 467.9 L167.1 460.7 L167.2 465.5 L167.4 465.4 L167.5 472.3 L167.6 467.5 L167.8 464.5 L167.9 469.3 L168.0 459.8 L168.1 464.9 L168.3 468.7 L168.4 467.9 L168.5 466.5 L168.7 463.3 L168.8 466.5 L168.9 464.6 L169.1 460.5 L169.2 460.2 L169.3 462.7 L169.4 465.8 L169.6 465.7 L169.7 468.8 L169.8 460.6 L170.0 463.3 L170.1 463.7 L170.2 462.6 L170.4 458.9 L170.5 469.1 L170.6 459.8 L170.7 463.8 L170.9 460.8 L171.0 464.2 L171.1 468.8 L171.3 461.9 L171.4 463.5 L171.5 458.9 L171.7 468.3 L171.8 471.5 L171.9 462.3 L172.0 463.2 L172.2 468.2 L172.3 464.5 L172.4 463.9 L172.6 461.1 L172.7 471.3 L172.8 468.4 L173.0 463.6 L173.1 465.2 L173.2 463.6 L173.3 459.4 L173.5 462.6 L173.6 467.3 L173.7 464.7 L173.9 461.3 L174.0 468.4 L174.1 467.6 L174.3 461.7 L174.4 465.6 L174.5 469.6 L174.6 462.0 L174.8 468.0 L174.9 464.5 L175.0 464.7 L175.2 463.6 L175.3 462.8 L175.4 468.6 L175.6 462.6 L175.7 462.5 L175.8 463.1 L175.9 462.3 L176.1 466.6 L176.2 471.8 L176.3 465.3 L176.5 473.6 L176.6 464.5 L176.7 464.7 L176.9 466.9 L177.0 463.6 L177.1 467.4 L177.2 467.7 L177.4 466.5 L177.5 466.2 L177.6 465.7 L177.8 468.1 L177.9 459.9 L178.0 469.2 L178.2 467.1 L178.3 464.1 L178.4 463.4 L178.5 471.2 L178.7 465.1 L178.8 466.9 L178.9 464.9 L179.1 467.3 L179.2 468.3 L179.3 468.5 L179.5 463.1 L179.6 465.9 L179.7 468.8 L179.8 463.8 L180.0 466.5 L180.1 467.6 L180.2 464.8 L180.4 465.4 L180.5 461.4 L180.6 472.9 L180.8 470.8 L180.9 469.7 L181.0 468.3 L181.1 459.7 L181.3 468.0 L181.4 464.5 L181.5 456.7 L181.7 469.5 L181.8 465.4 L181.9 464.2 L182.1 462.3 L182.2 466.3 L182.3 468.2 L182.4 464.5 L182.6 461.7 L182.7 465.6 L182.8 463.3 L183.0 470.5 L183.1 463.9 L183.2 471.5 L183.4 467.0 L183.5 467.0 L183.6 464.0 L183.7 465.4 L183.9 466.8 L184.0 465.2 L184.1 463.9 L184.3 464.9 L184.4 466.2 L184.5 466.2 L184.7 465.4 L184.8 468.1 L184.9 469.9 L185.0 466.3 L185.2 468.1 L185.3 468.8 L185.4 465.2 L185.6 469.7 L185.7 466.0 L185.8 468.5 L186.0 464.6 L186.1 464.0 L186.2 466.0 L186.3 466.9 L186.5 467.9 L186.6 463.8 L186.7 470.4 L186.9 464.8 L187.0 463.6 L187.1 465.7 L187.3 466.0 L187.4 470.4 L187.5 461.9 L187.6 466.7 L187.8 467.4 L187.9 463.1 L188.0 465.9 L188.2 463.1 L188.3 463.2 L188.4 466.7 L188.6 465.5 L188.7 470.4 L188.8 467.1 L188.9 463.0 L189.1 468.5 L189.2 466.6 L189.3 464.7 L189.5 464.3 L189.6 461.5 L189.7 468.5 L189.9 462.0 L190.0 467.5 L190.1 463.8 L190.2 464.3 L190.4 468.8 L190.5 466.7 L190.6 465.6 L190.8 470.8 L190.9 464.9 L191.0 468.9 L191.2 464.7 L191.3 467.3 L191.4 468.8 L191.5 467.6 L191.7 466.9 L191.8 465.0 L191.9 469.9 L192.1 469.2 L192.2 460.5 L192.3 459.7 L192.5 462.4 L192.6 461.0 L192.7 466.5 L192.8 468.9 L193.0 469.0 L193.1 461.3 L193.2 464.9 L193.4 463.8 L193.5 468.7 L193.6 463.3 L193.8 463.0 L193.9 463.6 L194.0 467.6 L194.1 463.4 L194.3 463.1 L194.4 463.6 L194.5 467.6 L194.7 465.9 L194.8 470.1 L194.9 468.3 L195.1 461.6 L195.2 463.1 L195.3 470.9 L195.4 465.5 L195.6 463.9 L195.7 469.8 L195.8 463.1 L196.0 470.2 L196.1 465.7 L196.2 458.7 L196.4 471.9 L196.5 462.4 L196.6 467.4 L196.7 464.4 L196.9 466.2 L197.0 462.1 L197.1 462.9 L197.3 460.0 L197.4 467.2 L197.5 466.5 L197.7 469.1 L197.8 462.5 L197.9 470.6 L198.0 463.6 L198.2 464.2 L198.3 460.7 L198.4 468.9 L198.6 465.8 L198.7 463.4 L198.8 464.1 L199.0 463.2 L199.1 467.9 L199.2 467.2 L199.3 466.2 L199.5 462.5 L199.6 460.7 L199.7 467.4 L199.9 463.8 L200.0 465.2 L200.1 462.9 L200.3 464.8 L200.4 462.2 L200.5 462.8 L200.6 464.1 L200.8 462.0 L200.9 461.3 L201.0 470.1 L201.2 464.0 L201.3 465.5 L201.4 459.6 L201.6 463.9 L201.7 464.9 L201.8 466.3 L201.9 468.9 L202.1 464.0 L202.2 466.9 L202.3 467.2 L202.5 463.2 L202.6 461.8 L202.7 468.5 L202.9 469.7 L203.0 465.2 L203.1 467.4 L203.2 466.1 L203.4 466.5 L203.5 468.6 L203.6 467.0 L203.8 462.7 L203.9 463.6 L204.0 466.1 L204.2 461.9 L204.3 464.2 L204.4 468.3 L204.5 466.7 L204.7 467.8 L204.8 464.8 L204.9 464.8 L205.1 467.0 L205.2 466.3 L205.3 461.6 L205.5 467.4 L205.6 460.3 L205.7 470.4 L205.8 464.0 L206.0 463.3 L206.1 462.6 L206.2 464.5 L206.4 463.5 L206.5 470.3 L206.6 462.0 L206.8 466.2 L206.9 464.8 L207.0 464.7 L207.1 462.5 L207.3 465.3 L207.4 464.3 L207.5 463.4 L207.7 459.7 L207.8 467.4 L207.9 462.4 L208.1 467.4 L208.2 464.0 L208.3 463.1 L208.4 460.5 L208.6 466.8 L208.7 466.0 L208.8 464.1 L209.0 465.0 L209.1 464.7 L209.2 465.6 L209.4 467.7 L209.5 464.2 L209.6 462.7 L209.7 470.0 L209.9 459.5 L210.0 458.3 L210.1 458.6 L210.3 467.2 L210.4 466.8 L210.5 466.9 L210.7 467.0 L210.8 463.9 L210.9 465.5 L211.0 468.7 L211.2 461.5 L211.3 464.6 L211.4 466.9 L211.6 468.4 L211.7 467.0 L211.8 464.4 L212.0 466.4 L212.1 468.4 L212.2 466.6 L212.3 457.3 L212.5 460.7 L212.6 470.4 L212.7 472.0 L212.9 468.3 L213.0 470.3 L213.1 468.9 L213.3 468.6 L213.4 463.6 L213.5 465.0 L213.6 467.8 L213.8 471.4 L213.9 467.1 L214.0 463.8 L214.2 468.1 L214.3 464.5 L214.4 468.8 L214.6 465.5 L214.7 465.8 L214.8 467.5 L214.9 469.2 L215.1 464.8 L215.2 464.8 L215.3 462.1 L215.5 468.8 L215.6 466.1 L215.7 461.1 L215.9 461.6 L216.0 463.9 L216.1 463.2 L216.2 462.2 L216.4 464.4 L216.5 469.1 L216.6 467.5 L216.8 469.6 L216.9 461.7 L217.0 467.2 L217.2 466.7 L217.3 472.0 L217.4 471.3 L217.5 467.3 L217.7 465.2 L217.8 467.9 L217.9 463.4 L218.1 465.4 L218.2 468.4 L218.3 464.9 L218.5 465.5 L218.6 463.2 L218.7 464.6 L218.8 463.9 L219.0 467.3 L219.1 460.2 L219.2 464.3 L219.4 461.5 L219.5 467.2 L219.6 467.9 L219.8 468.3 L219.9 463.1 L220.0 469.3 L220.1 470.5 L220.3 465.3 L220.4 467.7 L220.5 465.9 L220.7 470.4 L220.8 467.7 L220.9 469.1 L221.1 462.5 L221.2 461.6 L221.3 466.1 L221.4 462.1 L221.6 463.1 L221.7 469.4 L221.8 465.2 L222.0 466.0 L222.1 466.9 L222.2 460.8 L222.4 469.7 L222.5 472.7 L222.6 466.0 L222.7 467.9 L222.9 471.3 L223.0 465.3 L223.1 464.9 L223.3 468.4 L223.4 465.0 L223.5 469.7 L223.7 463.6 L223.8 467.0 L223.9 466.3 L224.0 464.5 L224.2 461.9 L224.3 469.3 L224.4 471.3 L224.6 464.5 L224.7 464.6 L224.8 466.1 L225.0 463.1 L225.1 469.4 L225.2 466.6 L225.3 464.8 L225.5 469.2 L225.6 464.4 L225.7 473.1 L225.9 469.1 L226.0 469.8 L226.1 465.3 L226.3 466.4 L226.4 464.6 L226.5 465.9 L226.6 464.9 L226.8 471.4 L226.9 468.6 L227.0 463.5 L227.2 465.0 L227.3 467.6 L227.4 463.8 L227.6 470.9 L227.7 466.7 L227.8 466.7 L227.9 467.0 L228.1 466.9 L228.2 469.2 L228.3 465.4 L228.5 466.8 L228.6 465.7 L228.7 460.1 L228.9 467.3 L229.0 473.4 L229.1 467.2 L229.2 465.5 L229.4 468.8 L229.5 462.9 L229.6 468.3 L229.8 462.9 L229.9 467.1 L230.0 466.7 L230.2 470.9 L230.3 462.8 L230.4 470.7 L230.5 470.3 L230.7 468.7 L230.8 467.6 L230.9 461.6 L231.1 468.1 L231.2 467.3 L231.3 469.4 L231.5 465.4 L231.6 470.9 L231.7 465.4 L231.8 462.3 L232.0 459.4 L232.1 469.6 L232.2 466.1 L232.4 467.3 L232.5 465.8 L232.6 468.1 L232.8 467.0 L232.9 469.4 L233.0 468.3 L233.1 467.3 L233.3 466.9 L233.4 467.6 L233.5 467.5 L233.7 465.4 L233.8 467.6 L233.9 467.8 L234.1 468.2 L234.2 463.4 L234.3 469.3 L234.4 466.5 L234.6 464.0 L234.7 465.3 L234.8 471.1 L235.0 467.7 L235.1 467.7 L235.2 472.1 L235.4 471.8 L235.5 467.2 L235.6 470.4 L235.7 466.9 L235.9 468.4 L236.0 466.1 L236.1 471.7 L236.3 471.5 L236.4 465.4 L236.5 470.0 L236.7 462.8 L236.8 470.4 L236.9 467.6 L237.0 465.9 L237.2 465.4 L237.3 470.5 L237.4 466.4 L237.6 469.9 L237.7 470.6 L237.8 467.8 L238.0 464.0 L238.1 470.7 L238.2 468.0 L238.3 466.7 L238.5 472.5 L238.6 468.6 L238.7 466.8 L238.9 465.9 L239.0 467.9 L239.1 468.2 L239.3 467.7 L239.4 472.7 L239.5 472.5 L239.6 468.6 L239.8 468.0 L239.9 461.9 L240.0 470.4 L240.2 465.8 L240.3 473.6 L240.4 468.9 L240.6 466.9 L240.7 466.5 L240.8 466.8 L240.9 464.8 L241.1 467.3 L241.2 467.3 L241.3 466.7 L241.5 460.6 L241.6 467.5 L241.7 465.9 L241.9 464.8 L242.0 468.4 L242.1 464.9 L242.2 468.9 L242.4 467.7 L242.5 471.2 L242.6 469.7 L242.8 461.4 L242.9 466.1 L243.0 470.4 L243.2 470.6 L243.3 467.4 L243.4 470.7 L243.5 468.3 L243.7 467.9 L243.8 469.5 L243.9 465.4 L244.1 469.9 L244.2 468.4 L244.3 470.5 L244.5 470.9 L244.6 466.4 L244.7 465.3 L244.8 463.1 L245.0 467.4 L245.1 472.6 L245.2 470.8 L245.4 467.2 L245.5 467.7 L245.6 467.9 L245.8 467.9 L245.9 469.2 L246.0 470.6 L246.1 467.0 L246.3 471.2 L246.4 463.2 L246.5 466.4 L246.7 467.9 L246.8 474.8 L246.9 469.2 L247.1 467.9 L247.2 468.0 L247.3 468.0 L247.4 465.7 L247.6 468.1 L247.7 469.6 L247.8 468.4 L248.0 469.6 L248.1 464.4 L248.2 470.7 L248.4 473.6 L248.5 465.2 L248.6 472.1 L248.7 468.1 L248.9 477.1 L249.0 474.2 L249.1 465.0 L249.3 469.4 L249.4 472.1 L249.5 471.5 L249.7 465.8 L249.8 465.8 L249.9 468.3 L250.0 470.6 L250.2 467.5 L250.3 471.6 L250.4 470.9 L250.6 470.7 L250.7 469.8 L250.8 472.7 L251.0 469.2 L251.1 469.6 L251.2 468.3 L251.3 473.4 L251.5 466.4 L251.6 472.1 L251.7 467.0 L251.9 472.9 L252.0 470.8 L252.1 470.0 L252.3 474.2 L252.4 469.4 L252.5 469.0 L252.6 465.8 L252.8 471.6 L252.9 464.1 L253.0 465.2 L253.2 469.2 L253.3 473.9 L253.4 471.6 L253.6 471.9 L253.7 464.9 L253.8 476.3 L253.9 472.6 L254.1 466.8 L254.2 470.8 L254.3 469.9 L254.5 465.7 L254.6 473.7 L254.7 472.2 L254.9 467.2 L255.0 468.0 L255.1 467.9 L255.2 471.8 L255.4 467.7 L255.5 467.5 L255.6 471.4 L255.8 467.9 L255.9 468.9 L256.0 471.3 L256.2 468.7 L256.3 472.4 L256.4 471.4 L256.5 471.3 L256.7 474.9 L256.8 473.0 L256.9 471.5 L257.1 474.2 L257.2 461.3 L257.3 468.1 L257.5 466.4 L257.6 471.8 L257.7 468.7 L257.8 469.2 L258.0 470.0 L258.1 469.4 L258.2 470.1 L258.4 473.1 L258.5 467.4 L258.6 468.6 L258.8 470.3 L258.9 465.5 L259.0 472.2 L259.1 468.6 L259.3 470.5 L259.4 466.8 L259.5 469.0 L259.7 472.4 L259.8 467.8 L259.9 472.5 L260.1 471.8 L260.2 469.6 L260.3 468.7 L260.4 472.9 L260.6 472.1 L260.7 469.3 L260.8 470.8 L261.0 465.2 L261.1 468.4 L261.2 466.2 L261.4 469.5 L261.5 472.5 L261.6 467.9 L261.7 471.2 L261.9 471.6 L262.0 469.4 L262.1 470.2 L262.3 471.5 L262.4 470.9 L262.5 470.9 L262.7 472.3 L262.8 470.1 L262.9 473.2 L263.0 474.3 L263.2 468.8 L263.3 472.0 L263.4 469.6 L263.6 474.1 L263.7 469.6 L263.8 473.9 L264.0 468.4 L264.1 471.7 L264.2 469.2 L264.3 467.3 L264.5 466.2 L264.6 474.1 L264.7 470.3 L264.9 466.7 L265.0 469.2 L265.1 471.6 L265.3 470.0 L265.4 471.9 L265.5 469.4 L265.6 475.6 L265.8 471.4 L265.9 476.7 L266.0 472.4 L266.2 469.2 L266.3 470.0 L266.4 471.6 L266.6 467.1 L266.7 476.5 L266.8 469.6 L266.9 467.0 L267.1 475.4 L267.2 465.5 L267.3 467.9 L267.5 472.5 L267.6 467.7 L267.7 470.2 L267.9 473.0 L268.0 470.3 L268.1 466.3 L268.2 469.1 L268.4 473.0 L268.5 469.7 L268.6 472.1 L268.8 470.4 L268.9 470.8 L269.0 471.7 L269.2 468.9 L269.3 471.3 L269.4 472.2 L269.5 473.6 L269.7 475.8 L269.8 468.4 L269.9 471.2 L270.1 471.1 L270.2 473.4 L270.3 472.9 L270.5 469.1 L270.6 469.8 L270.7 474.3 L270.8 467.8 L271.0 468.8 L271.1 470.1 L271.2 468.6 L271.4 472.2 L271.5 471.9 L271.6 469.8 L271.8 468.6 L271.9 472.9 L272.0 469.6 L272.1 472.0 L272.3 468.2 L272.4 466.6 L272.5 475.9 L272.7 473.7 L272.8 469.9 L272.9 473.5 L273.1 468.4 L273.2 472.5 L273.3 475.9 L273.4 468.0 L273.6 473.2 L273.7 469.0 L273.8 475.0 L274.0 473.3 L274.1 473.0 L274.2 473.4 L274.4 470.6 L274.5 470.3 L274.6 474.5 L274.7 471.6 L274.9 470.0 L275.0 468.5 L275.1 469.7 L275.3 475.6 L275.4 471.5 L275.5 470.7 L275.7 469.0 L275.8 468.1 L275.9 473.4 L276.0 473.1 L276.2 476.5 L276.3 466.7 L276.4 471.9 L276.6 471.2 L276.7 474.0 L276.8 472.9 L277.0 470.2 L277.1 474.3 L277.2 471.8 L277.3 472.0 L277.5 473.3 L277.6 475.7 L277.7 471.9 L277.9 470.7 L278.0 466.9 L278.1 467.5 L278.3 468.0 L278.4 474.5 L278.5 471.1 L278.6 471.6 L278.8 469.5 L278.9 468.7 L279.0 471.9 L279.2 475.6 L279.3 472.2 L279.4 470.3 L279.6 466.6 L279.7 469.6 L279.8 470.3 L279.9 472.6 L280.1 475.0 L280.2 469.8 L280.3 472.7 L280.5 472.0 L280.6 475.3 L280.7 471.5 L280.9 472.3 L281.0 472.0 L281.1 473.0 L281.2 473.5 L281.4 474.9 L281.5 475.4 L281.6 470.7 L281.8 476.0 L281.9 473.5 L282.0 470.4 L282.2 474.2 L282.3 474.6 L282.4 469.4 L282.5 471.6 L282.7 474.2 L282.8 470.4 L282.9 472.3 L283.1 469.0 L283.2 471.6 L283.3 468.8 L283.5 477.0 L283.6 474.3 L283.7 472.1 L283.8 467.7 L284.0 470.3 L284.1 470.5 L284.2 472.5 L284.4 474.6 L284.5 475.6 L284.6 471.0 L284.8 471.2 L284.9 469.3 L285.0 470.4 L285.1 469.9 L285.3 474.8 L285.4 467.7 L285.5 471.5 L285.7 469.4 L285.8 468.4 L285.9 472.5 L286.1 471.8 L286.2 472.1 L286.3 473.2 L286.4 468.9 L286.6 466.8 L286.7 473.4 L286.8 472.8 L287.0 473.6 L287.1 475.0 L287.2 471.3 L287.4 472.5 L287.5 475.0 L287.6 471.9 L287.7 467.5 L287.9 472.1 L288.0 474.6 L288.1 479.9 L288.3 476.4 L288.4 473.4 L288.5 467.3 L288.7 476.5 L288.8 476.7 L288.9 473.7 L289.0 472.8 L289.2 468.1 L289.3 465.3 L289.4 469.7 L289.6 471.0 L289.7 473.5 L289.8 471.5 L290.0 473.4 L290.1 474.6 L290.2 469.8 L290.3 472.9 L290.5 474.0 L290.6 479.0 L290.7 471.9 L290.9 469.2 L291.0 472.6 L291.1 471.4 L291.3 478.0 L291.4 475.0 L291.5 475.6 L291.6 474.8 L291.8 478.2 L291.9 471.5 L292.0 474.8 L292.2 472.4 L292.3 470.8 L292.4 475.6 L292.6 475.8 L292.7 473.5 L292.8 473.1 L292.9 474.8 L293.1 474.8 L293.2 470.5 L293.3 475.4 L293.5 473.2 L293.6 480.5 L293.7 470.9 L293.9 474.2 L294.0 470.7 L294.1 474.0 L294.2 473.3 L294.4 470.1 L294.5 474.4 L294.6 478.0 L294.8 475.1 L294.9 474.5 L295.0 470.6 L295.2 471.3 L295.3 467.9 L295.4 471.8 L295.5 470.5 L295.7 478.8 L295.8 472.4 L295.9 473.4 L296.1 472.6 L296.2 469.3 L296.3 473.2 L296.5 469.8 L296.6 473.9 L296.7 478.1 L296.8 473.1 L297.0 478.4 L297.1 470.3 L297.2 472.9 L297.4 474.2 L297.5 468.8 L297.6 472.5 L297.8 471.8 L297.9 478.9 L298.0 475.7 L298.1 474.8 L298.3 476.8 L298.4 473.4 L298.5 467.9 L298.7 474.1 L298.8 472.0 L298.9 477.9 L299.1 474.4 L299.2 474.3 L299.3 472.9 L299.4 471.0 L299.6 472.6 L299.7 476.4 L299.8 474.4 L300.0 476.8 L300.1 471.9 L300.2 471.4 L300.4 474.4 L300.5 468.2 L300.6 475.1 L300.7 473.5 L300.9 473.2 L301.0 470.5 L301.1 468.6 L301.3 475.0 L301.4 477.9 L301.5 476.5 L301.7 472.2 L301.8 477.1 L301.9 470.7 L302.0 474.3 L302.2 476.0 L302.3 472.9 L302.4 472.7 L302.6 468.3 L302.7 474.7 L302.8 479.1 L303.0 476.1 L303.1 475.3 L303.2 473.5 L303.3 472.0 L303.5 475.3 L303.6 476.2 L303.7 476.6 L303.9 477.0 L304.0 471.8 L304.1 472.7 L304.3 478.2 L304.4 474.5 L304.5 475.2 L304.6 477.9 L304.8 477.3 L304.9 473.2 L305.0 469.9 L305.2 476.6 L305.3 471.9 L305.4 472.7 L305.6 476.3 L305.7 473.2 L305.8 474.3 L305.9 475.3 L306.1 472.6 L306.2 475.6 L306.3 473.7 L306.5 478.8 L306.6 472.0 L306.7 478.4 L306.9 476.7 L307.0 475.5 L307.1 475.4 L307.2 474.1 L307.4 469.0 L307.5 474.1 L307.6 478.7 L307.8 476.6 L307.9 471.5 L308.0 473.7 L308.2 473.9 L308.3 472.3 L308.4 473.4 L308.5 475.8 L308.7 473.8 L308.8 475.4 L308.9 476.1 L309.1 471.2 L309.2 474.9 L309.3 474.7 L309.5 474.9 L309.6 474.3 L309.7 473.9 L309.8 478.6 L310.0 472.7 L310.1 471.9 L310.2 474.0 L310.4 474.0 L310.5 472.8 L310.6 476.6 L310.8 471.8 L310.9 475.9 L311.0 477.4 L311.1 479.5 L311.3 471.3 L311.4 475.9 L311.5 475.2 L311.7 478.8 L311.8 479.0 L311.9 474.1 L312.1 478.2 L312.2 477.2 L312.3 479.0 L312.4 475.6 L312.6 477.0 L312.7 468.9 L312.8 478.2 L313.0 472.2 L313.1 469.7 L313.2 477.1 L313.4 475.7 L313.5 474.8 L313.6 474.2 L313.7 471.7 L313.9 475.9 L314.0 476.3 L314.1 475.4 L314.3 474.3 L314.4 474.4 L314.5 473.2 L314.7 473.6 L314.8 475.2 L314.9 476.7 L315.0 475.0 L315.2 475.0 L315.3 473.9 L315.4 474.3 L315.6 471.4 L315.7 474.5 L315.8 472.9 L316.0 475.4 L316.1 472.3 L316.2 478.2 L316.3 474.5 L316.5 475.7 L316.6 473.3 L316.7 480.4 L316.9 474.2 L317.0 476.1 L317.1 473.7 L317.3 476.2 L317.4 472.8 L317.5 473.4 L317.6 465.8 L317.8 473.5 L317.9 472.1 L318.0 477.6 L318.2 475.7 L318.3 476.7 L318.4 470.1 L318.6 477.1 L318.7 481.5 L318.8 474.5 L318.9 473.2 L319.1 476.9 L319.2 475.6 L319.3 472.4 L319.5 469.7 L319.6 474.1 L319.7 472.9 L319.9 476.2 L320.0 472.9 L320.1 474.2 L320.2 476.9 L320.4 471.3 L320.5 477.8 L320.6 474.1 L320.8 477.0 L320.9 478.3 L321.0 479.8 L321.2 472.3 L321.3 474.9 L321.4 470.6 L321.5 467.1 L321.7 477.3 L321.8 475.5 L321.9 473.1 L322.1 475.7 L322.2 479.0 L322.3 473.8 L322.5 475.0 L322.6 472.4 L322.7 473.9 L322.8 470.8 L323.0 476.9 L323.1 470.0 L323.2 477.1 L323.4 475.3 L323.5 476.3 L323.6 477.1 L323.8 475.6 L323.9 475.4 L324.0 475.2 L324.1 471.9 L324.3 476.0 L324.4 474.9 L324.5 473.7 L324.7 473.3 L324.8 468.4 L324.9 473.6 L325.1 480.3 L325.2 476.9 L325.3 474.7 L325.4 473.5 L325.6 471.2 L325.7 474.6 L325.8 476.2 L326.0 474.0 L326.1 477.1 L326.2 480.1 L326.4 481.5 L326.5 470.9 L326.6 478.9 L326.7 478.2 L326.9 473.6 L327.0 476.8 L327.1 472.0 L327.3 477.1 L327.4 470.4 L327.5 475.7 L327.7 476.7 L327.8 474.7 L327.9 476.5 L328.0 479.4 L328.2 475.2 L328.3 476.8 L328.4 475.4 L328.6 473.3 L328.7 474.3 L328.8 471.9 L329.0 479.0 L329.1 475.0 L329.2 474.7 L329.3 478.0 L329.5 471.8 L329.6 473.0 L329.7 480.9 L329.9 478.3 L330.0 478.1 L330.1 478.4 L330.3 473.1 L330.4 475.7 L330.5 475.2 L330.6 474.9 L330.8 478.3 L330.9 479.9 L331.0 476.4 L331.2 478.7 L331.3 473.6 L331.4 475.7 L331.6 473.4 L331.7 473.1 L331.8 479.4 L331.9 474.0 L332.1 478.5 L332.2 472.6 L332.3 476.1 L332.5 475.3 L332.6 475.0 L332.7 478.6 L332.9 476.2 L333.0 475.0 L333.1 469.9 L333.2 479.4 L333.4 478.2 L333.5 480.3 L333.6 475.1 L333.8 474.0 L333.9 479.8 L334.0 473.9 L334.2 474.2 L334.3 478.2 L334.4 475.2 L334.5 475.5 L334.7 470.8 L334.8 478.7 L334.9 470.7 L335.1 472.0 L335.2 476.0 L335.3 472.3 L335.5 470.7 L335.6 476.9 L335.7 473.9 L335.8 475.0 L336.0 475.8 L336.1 475.5 L336.2 478.7 L336.4 479.3 L336.5 479.9 L336.6 475.1 L336.8 477.2 L336.9 476.1 L337.0 478.0 L337.1 475.7 L337.3 479.0 L337.4 474.8 L337.5 475.7 L337.7 475.9 L337.8 476.5 L337.9 471.2 L338.1 475.1 L338.2 473.6 L338.3 476.0 L338.4 479.4 L338.6 478.7 L338.7 475.7 L338.8 474.4 L339.0 478.0 L339.1 479.2 L339.2 477.1 L339.4 474.2 L339.5 476.7 L339.6 476.1 L339.7 477.8 L339.9 475.1 L340.0 474.0 L340.1 476.1 L340.3 480.1 L340.4 474.0 L340.5 470.4 L340.7 478.2 L340.8 480.3 L340.9 476.5 L341.0 476.5 L341.2 473.7 L341.3 479.4 L341.4 479.1 L341.6 482.6 L341.7 480.8 L341.8 474.5 L342.0 474.6 L342.1 477.5 L342.2 477.8 L342.3 474.7 L342.5 475.7 L342.6 476.7 L342.7 472.2 L342.9 473.7 L343.0 478.9 L343.1 475.7 L343.3 475.9 L343.4 474.6" fill="none" stroke="#f00000" stroke-width="1.05"/>
<path d="M38.8 523.6 L38.9 524.8 L39.1 526.1 L39.2 524.6 L39.3 523.6 L39.5 521.5 L39.6 524.0 L39.7 524.5 L39.8 525.7 L40.0 518.9 L40.1 521.9 L40.2 526.9 L40.4 524.1 L40.5 522.4 L40.6 521.5 L40.8 523.1 L40.9 528.3 L41.0 520.9 L41.1 526.2 L41.3 521.1 L41.4 520.2 L41.5 522.9 L41.7 524.3 L41.8 526.0 L41.9 526.7 L42.1 524.1 L42.2 520.4 L42.3 523.4 L42.4 521.3 L42.6 523.8 L42.7 520.0 L42.8 526.4 L43.0 523.8 L43.1 522.0 L43.2 523.1 L43.4 518.9 L43.5 524.7 L43.6 525.4 L43.7 528.2 L43.9 518.4 L44.0 524.9 L44.1 522.8 L44.3 516.9 L44.4 526.1 L44.5 522.0 L44.7 524.2 L44.8 517.2 L44.9 529.7 L45.0 524.0 L45.2 522.8 L45.3 522.0 L45.4 523.6 L45.6 522.6 L45.7 523.2 L45.8 521.2 L46.0 520.8 L46.1 522.3 L46.2 532.0 L46.3 522.6 L46.5 519.3 L46.6 522.3 L46.7 525.0 L46.9 522.1 L47.0 528.0 L47.1 524.1 L47.3 522.4 L47.4 522.6 L47.5 527.6 L47.6 525.2 L47.8 520.3 L47.9 525.2 L48.0 519.5 L48.2 520.6 L48.3 521.8 L48.4 527.0 L48.6 518.0 L48.7 523.0 L48.8 517.8 L48.9 519.3 L49.1 518.1 L49.2 522.7 L49.3 521.3 L49.5 521.2 L49.6 520.8 L49.7 525.7 L49.9 520.7 L50.0 519.1 L50.1 518.7 L50.2 521.5 L50.4 521.8 L50.5 522.4 L50.6 520.4 L50.8 523.9 L50.9 518.8 L51.0 520.1 L51.2 519.0 L51.3 516.1 L51.4 522.2 L51.5 518.5 L51.7 519.3 L51.8 522.9 L51.9 523.2 L52.1 526.5 L52.2 521.5 L52.3 518.4 L52.5 520.3 L52.6 521.4 L52.7 524.3 L52.8 523.9 L53.0 523.5 L53.1 515.6 L53.2 523.0 L53.4 522.0 L53.5 519.2 L53.6 515.9 L53.8 522.8 L53.9 521.0 L54.0 521.7 L54.1 514.1 L54.3 517.6 L54.4 518.6 L54.5 523.2 L54.7 518.7 L54.8 519.8 L54.9 516.6 L55.1 523.4 L55.2 517.7 L55.3 515.9 L55.4 513.1 L55.6 520.6 L55.7 520.1 L55.8 515.2 L56.0 519.4 L56.1 516.2 L56.2 520.3 L56.4 519.6 L56.5 521.0 L56.6 517.0 L56.7 517.6 L56.9 517.6 L57.0 520.2 L57.1 522.2 L57.3 518.8 L57.4 518.3 L57.5 519.8 L57.7 513.0 L57.8 515.0 L57.9 516.1 L58.0 518.3 L58.2 510.0 L58.3 515.4 L58.4 513.2 L58.6 515.3 L58.7 523.8 L58.8 521.0 L59.0 514.4 L59.1 515.2 L59.2 520.7 L59.3 514.6 L59.5 518.7 L59.6 516.4 L59.7 517.0 L59.9 515.2 L60.0 512.7 L60.1 515.3 L60.3 515.2 L60.4 523.0 L60.5 515.8 L60.6 518.1 L60.8 517.4 L60.9 520.1 L61.0 512.7 L61.2 513.7 L61.3 522.7 L61.4 514.1 L61.6 512.2 L61.7 513.8 L61.8 515.1 L61.9 514.6 L62.1 516.4 L62.2 513.1 L62.3 520.6 L62.5 510.0 L62.6 507.7 L62.7 509.3 L62.9 511.6 L63.0 511.3 L63.1 512.8 L63.2 514.3 L63.4 513.1 L63.5 508.4 L63.6 514.8 L63.8 507.8 L63.9 513.4 L64.0 518.9 L64.2 511.7 L64.3 513.9 L64.4 505.4 L64.5 505.0 L64.7 510.4 L64.8 514.4 L64.9 509.1 L65.1 504.4 L65.2 512.9 L65.3 511.9 L65.5 510.9 L65.6 503.7 L65.7 499.4 L65.8 505.6 L66.0 505.2 L66.1 504.5 L66.2 513.2 L66.4 510.1 L66.5 500.5 L66.6 503.6 L66.8 502.0 L66.9 509.1 L67.0 505.7 L67.1 501.7 L67.3 505.7 L67.4 505.9 L67.5 506.6 L67.7 504.7 L67.8 503.5 L67.9 504.8 L68.1 504.8 L68.2 504.2 L68.3 503.8 L68.4 502.5 L68.6 504.5 L68.7 504.0 L68.8 497.8 L69.0 503.1 L69.1 503.1 L69.2 503.7 L69.4 496.7 L69.5 504.5 L69.6 498.0 L69.7 510.0 L69.9 503.9 L70.0 503.4 L70.1 500.0 L70.3 501.5 L70.4 507.8 L70.5 506.3 L70.7 504.4 L70.8 507.8 L70.9 508.2 L71.0 505.0 L71.2 505.6 L71.3 501.1 L71.4 498.5 L71.6 502.7 L71.7 507.9 L71.8 505.2 L72.0 511.4 L72.1 503.9 L72.2 509.4 L72.3 511.1 L72.5 508.4 L72.6 511.1 L72.7 506.7 L72.9 508.7 L73.0 506.6 L73.1 503.7 L73.3 504.2 L73.4 508.1 L73.5 514.3 L73.6 507.6 L73.8 506.4 L73.9 503.6 L74.0 501.3 L74.2 509.2 L74.3 509.7 L74.4 503.6 L74.6 511.2 L74.7 509.0 L74.8 507.7 L74.9 505.5 L75.1 506.5 L75.2 504.3 L75.3 511.5 L75.5 502.5 L75.6 519.0 L75.7 510.1 L75.9 513.6 L76.0 507.2 L76.1 508.2 L76.2 506.9 L76.4 509.5 L76.5 506.4 L76.6 512.4 L76.8 509.1 L76.9 502.6 L77.0 506.3 L77.2 511.2 L77.3 510.9 L77.4 506.0 L77.5 502.9 L77.7 502.3 L77.8 500.5 L77.9 509.0 L78.1 506.5 L78.2 507.6 L78.3 503.5 L78.4 503.1 L78.6 496.3 L78.7 501.8 L78.8 501.7 L79.0 507.1 L79.1 504.7 L79.2 501.4 L79.4 506.1 L79.5 499.5 L79.6 501.2 L79.7 497.6 L79.9 502.7 L80.0 500.5 L80.1 497.8 L80.3 498.4 L80.4 493.9 L80.5 501.5 L80.7 499.1 L80.8 505.1 L80.9 498.4 L81.0 503.0 L81.2 503.4 L81.3 494.0 L81.4 502.5 L81.6 501.0 L81.7 504.0 L81.8 492.0 L82.0 505.9 L82.1 493.2 L82.2 501.8 L82.3 498.9 L82.5 502.9 L82.6 501.4 L82.7 494.3 L82.9 498.3 L83.0 496.8 L83.1 499.2 L83.3 497.0 L83.4 501.2 L83.5 502.0 L83.6 501.6 L83.8 501.4 L83.9 503.1 L84.0 496.9 L84.2 501.1 L84.3 495.3 L84.4 497.2 L84.6 492.8 L84.7 498.4 L84.8 495.8 L84.9 497.0 L85.1 496.7 L85.2 489.5 L85.3 497.1 L85.5 501.0 L85.6 499.2 L85.7 502.1 L85.9 496.7 L86.0 495.8 L86.1 495.3 L86.2 504.3 L86.4 499.9 L86.5 498.5 L86.6 503.7 L86.8 498.7 L86.9 499.0 L87.0 507.8 L87.2 493.6 L87.3 500.9 L87.4 499.3 L87.5 496.7 L87.7 502.7 L87.8 498.9 L87.9 502.2 L88.1 498.6 L88.2 502.5 L88.3 499.3 L88.5 491.2 L88.6 499.9 L88.7 498.2 L88.8 500.4 L89.0 502.3 L89.1 500.1 L89.2 499.4 L89.4 494.2 L89.5 496.6 L89.6 494.0 L89.8 506.6 L89.9 505.3 L90.0 503.4 L90.1 496.2 L90.3 504.3 L90.4 498.2 L90.5 500.4 L90.7 504.6 L90.8 498.3 L90.9 498.2 L91.1 495.2 L91.2 503.2 L91.3 496.7 L91.4 505.8 L91.6 507.9 L91.7 503.3 L91.8 502.9 L92.0 500.5 L92.1 502.9 L92.2 508.8 L92.4 509.4 L92.5 503.0 L92.6 509.0 L92.7 501.8 L92.9 504.6 L93.0 498.7 L93.1 503.4 L93.3 502.6 L93.4 503.1 L93.5 503.5 L93.7 508.2 L93.8 503.4 L93.9 505.9 L94.0 503.9 L94.2 503.6 L94.3 505.0 L94.4 501.4 L94.6 508.3 L94.7 507.0 L94.8 505.7 L95.0 509.1 L95.1 507.2 L95.2 511.0 L95.3 507.8 L95.5 503.1 L95.6 505.4 L95.7 506.9 L95.9 506.8 L96.0 510.0 L96.1 505.9 L96.3 506.5 L96.4 509.7 L96.5 507.4 L96.6 509.1 L96.8 512.7 L96.9 504.0 L97.0 507.5 L97.2 505.3 L97.3 510.0 L97.4 509.8 L97.6 511.3 L97.7 505.8 L97.8 506.6 L97.9 507.9 L98.1 512.1 L98.2 509.1 L98.3 507.4 L98.5 516.1 L98.6 510.4 L98.7 501.8 L98.9 506.1 L99.0 511.8 L99.1 511.8 L99.2 515.5 L99.4 509.0 L99.5 510.7 L99.6 507.0 L99.8 509.1 L99.9 511.8 L100.0 515.0 L100.2 510.0 L100.3 509.6 L100.4 511.8 L100.5 513.0 L100.7 509.4 L100.8 508.0 L100.9 512.8 L101.1 517.0 L101.2 511.4 L101.3 515.1 L101.5 511.6 L101.6 511.7 L101.7 511.8 L101.8 507.3 L102.0 508.5 L102.1 505.6 L102.2 510.5 L102.4 512.1 L102.5 516.4 L102.6 506.7 L102.8 512.1 L102.9 510.5 L103.0 507.4 L103.1 508.4 L103.3 512.4 L103.4 513.8 L103.5 508.9 L103.7 508.9 L103.8 509.9 L103.9 508.9 L104.1 511.0 L104.2 510.5 L104.3 512.9 L104.4 509.5 L104.6 509.1 L104.7 511.6 L104.8 512.3 L105.0 512.4 L105.1 509.7 L105.2 513.8 L105.4 510.6 L105.5 512.9 L105.6 512.4 L105.7 507.0 L105.9 508.4 L106.0 516.2 L106.1 514.7 L106.3 515.6 L106.4 516.5 L106.5 514.9 L106.7 511.3 L106.8 510.1 L106.9 515.6 L107.0 512.5 L107.2 513.2 L107.3 512.2 L107.4 514.4 L107.6 507.5 L107.7 515.4 L107.8 507.1 L108.0 512.4 L108.1 508.0 L108.2 515.7 L108.3 513.4 L108.5 517.0 L108.6 514.6 L108.7 516.4 L108.9 515.6 L109.0 512.1 L109.1 519.7 L109.3 514.0 L109.4 509.7 L109.5 516.3 L109.6 518.2 L109.8 511.4 L109.9 514.7 L110.0 508.1 L110.2 511.8 L110.3 510.8 L110.4 516.4 L110.6 508.9 L110.7 514.1 L110.8 509.4 L110.9 515.1 L111.1 509.8 L111.2 512.7 L111.3 518.2 L111.5 510.1 L111.6 508.2 L111.7 507.1 L111.9 514.2 L112.0 504.7 L112.1 511.5 L112.2 507.9 L112.4 512.2 L112.5 511.3 L112.6 507.5 L112.8 507.6 L112.9 509.7 L113.0 507.9 L113.2 509.7 L113.3 510.5 L113.4 504.0 L113.5 506.2 L113.7 504.6 L113.8 504.9 L113.9 501.8 L114.1 510.4 L114.2 505.5 L114.3 511.2 L114.5 500.0 L114.6 503.4 L114.7 502.4 L114.8 509.2 L115.0 508.7 L115.1 509.9 L115.2 509.1 L115.4 510.3 L115.5 511.6 L115.6 502.0 L115.8 503.4 L115.9 505.9 L116.0 505.8 L116.1 503.8 L116.3 505.5 L116.4 499.7 L116.5 512.2 L116.7 513.3 L116.8 507.1 L116.9 504.2 L117.1 503.2 L117.2 502.6 L117.3 496.1 L117.4 505.3 L117.6 504.3 L117.7 504.2 L117.8 502.2 L118.0 500.0 L118.1 503.7 L118.2 500.4 L118.4 508.7 L118.5 503.0 L118.6 501.5 L118.7 507.0 L118.9 500.8 L119.0 505.4 L119.1 502.3 L119.3 503.7 L119.4 502.2 L119.5 509.6 L119.7 506.3 L119.8 509.0 L119.9 505.5 L120.0 503.3 L120.2 504.0 L120.3 506.7 L120.4 503.0 L120.6 501.2 L120.7 508.9 L120.8 509.7 L121.0 504.7 L121.1 505.8 L121.2 506.1 L121.3 512.1 L121.5 507.7 L121.6 502.8 L121.7 508.3 L121.9 506.8 L122.0 505.7 L122.1 513.6 L122.3 510.5 L122.4 508.9 L122.5 500.7 L122.6 508.5 L122.8 508.7 L122.9 510.1 L123.0 509.7 L123.2 512.0 L123.3 503.0 L123.4 509.2 L123.6 511.0 L123.7 509.7 L123.8 505.2 L123.9 509.1 L124.1 506.7 L124.2 512.7 L124.3 510.8 L124.5 504.8 L124.6 509.2 L124.7 511.9 L124.9 511.5 L125.0 509.9 L125.1 516.8 L125.2 510.8 L125.4 509.9 L125.5 511.2 L125.6 515.9 L125.8 507.3 L125.9 513.6 L126.0 511.5 L126.2 513.5 L126.3 515.9 L126.4 514.6 L126.5 516.4 L126.7 514.0 L126.8 510.0 L126.9 517.0 L127.1 515.2 L127.2 517.1 L127.3 514.9 L127.5 512.2 L127.6 509.2 L127.7 511.2 L127.8 517.6 L128.0 516.9 L128.1 511.6 L128.2 517.7 L128.4 512.7 L128.5 514.4 L128.6 514.8 L128.8 516.7 L128.9 518.3 L129.0 517.3 L129.1 514.3 L129.3 512.5 L129.4 513.4 L129.5 518.0 L129.7 516.6 L129.8 520.8 L129.9 519.0 L130.1 521.1 L130.2 519.9 L130.3 515.5 L130.4 513.3 L130.6 510.1 L130.7 513.2 L130.8 521.6 L131.0 517.1 L131.1 519.3 L131.2 517.4 L131.4 514.6 L131.5 515.3 L131.6 521.7 L131.7 519.3 L131.9 513.1 L132.0 515.3 L132.1 517.8 L132.3 513.4 L132.4 519.1 L132.5 512.0 L132.7 520.9 L132.8 521.1 L132.9 517.3 L133.0 516.1 L133.2 518.1 L133.3 510.6 L133.4 514.2 L133.6 522.6 L133.7 516.6 L133.8 521.3 L134.0 511.4 L134.1 522.0 L134.2 521.6 L134.3 510.9 L134.5 514.3 L134.6 518.7 L134.7 522.4 L134.9 516.3 L135.0 513.4 L135.1 523.5 L135.3 518.4 L135.4 518.0 L135.5 523.5 L135.6 518.4 L135.8 522.1 L135.9 517.1 L136.0 515.0 L136.2 521.7 L136.3 524.6 L136.4 511.7 L136.6 524.8 L136.7 519.5 L136.8 523.4 L136.9 523.8 L137.1 518.5 L137.2 525.0 L137.3 517.6 L137.5 520.4 L137.6 522.2 L137.7 519.8 L137.9 516.7 L138.0 527.8 L138.1 521.9 L138.2 518.5 L138.4 524.0 L138.5 521.8 L138.6 517.5 L138.8 519.4 L138.9 521.5 L139.0 526.5 L139.2 518.6 L139.3 523.9 L139.4 523.9 L139.5 519.8 L139.7 516.7 L139.8 520.8 L139.9 515.2 L140.1 520.4 L140.2 521.5 L140.3 517.9 L140.5 517.7 L140.6 516.9 L140.7 519.7 L140.8 522.3 L141.0 521.5 L141.1 517.6 L141.2 525.2 L141.4 519.0 L141.5 519.8 L141.6 523.1 L141.8 521.3 L141.9 516.4 L142.0 521.7 L142.1 515.2 L142.3 522.0 L142.4 519.4 L142.5 513.8 L142.7 521.6 L142.8 520.0 L142.9 524.2 L143.1 514.1 L143.2 520.7 L143.3 525.2 L143.4 516.2 L143.6 523.3 L143.7 518.8 L143.8 521.1 L144.0 523.3 L144.1 516.2 L144.2 522.2 L144.4 517.3 L144.5 525.4 L144.6 523.4 L144.7 526.0 L144.9 523.0 L145.0 520.1 L145.1 524.0 L145.3 522.8 L145.4 520.9 L145.5 516.9 L145.7 522.2 L145.8 522.5 L145.9 525.6 L146.0 517.8 L146.2 525.1 L146.3 515.8 L146.4 521.0 L146.6 520.8 L146.7 517.6 L146.8 520.5 L147.0 522.8 L147.1 521.0 L147.2 515.8 L147.3 519.7 L147.5 520.1 L147.6 519.4 L147.7 521.1 L147.9 523.0 L148.0 518.5 L148.1 521.8 L148.3 519.1 L148.4 519.4 L148.5 518.8 L148.6 520.5 L148.8 523.2 L148.9 524.0 L149.0 521.5 L149.2 520.2 L149.3 518.9 L149.4 521.3 L149.6 517.8 L149.7 522.1 L149.8 520.7 L149.9 521.0 L150.1 520.1 L150.2 519.3 L150.3 520.0 L150.5 513.7 L150.6 524.2 L150.7 518.3 L150.9 526.1 L151.0 523.5 L151.1 524.8 L151.2 520.3 L151.4 516.5 L151.5 520.2 L151.6 519.1 L151.8 522.9 L151.9 523.5 L152.0 525.8 L152.2 524.4 L152.3 521.1 L152.4 520.6 L152.5 522.8 L152.7 522.2 L152.8 517.5 L152.9 523.8 L153.1 523.3 L153.2 524.9 L153.3 525.5 L153.5 522.0 L153.6 520.6 L153.7 523.7 L153.8 519.2 L154.0 522.9 L154.1 519.0 L154.2 522.7 L154.4 523.9 L154.5 523.8 L154.6 517.3 L154.8 524.6 L154.9 520.6 L155.0 522.2 L155.1 518.7 L155.3 522.5 L155.4 524.2 L155.5 520.8 L155.7 523.2 L155.8 518.9 L155.9 524.5 L156.1 519.8 L156.2 524.3 L156.3 518.6 L156.4 523.9 L156.6 520.1 L156.7 519.4 L156.8 524.5 L157.0 522.7 L157.1 521.6 L157.2 518.8 L157.4 523.8 L157.5 526.7 L157.6 518.2 L157.7 526.4 L157.9 526.2 L158.0 525.7 L158.1 521.4 L158.3 524.7 L158.4 523.0 L158.5 520.3 L158.7 523.8 L158.8 526.7 L158.9 518.5 L159.0 522.0 L159.2 521.5 L159.3 529.3 L159.4 522.3 L159.6 524.4 L159.7 520.9 L159.8 521.9 L160.0 522.9 L160.1 521.2 L160.2 521.6 L160.3 518.2 L160.5 519.1 L160.6 523.7 L160.7 523.2 L160.9 519.3 L161.0 521.4 L161.1 524.1 L161.3 525.3 L161.4 520.3 L161.5 521.7 L161.6 521.9 L161.8 521.5 L161.9 525.7 L162.0 522.9 L162.2 520.5 L162.3 521.3 L162.4 519.3 L162.6 517.7 L162.7 522.3 L162.8 526.8 L162.9 521.6 L163.1 519.8 L163.2 519.4 L163.3 521.2 L163.5 522.9 L163.6 519.5 L163.7 525.1 L163.9 522.7 L164.0 522.2 L164.1 521.1 L164.2 522.2 L164.4 521.8 L164.5 523.1 L164.6 518.9 L164.8 522.9 L164.9 522.8 L165.0 517.8 L165.2 525.6 L165.3 522.9 L165.4 520.2 L165.5 528.5 L165.7 522.4 L165.8 521.6 L165.9 524.1 L166.1 522.4 L166.2 524.9 L166.3 527.1 L166.5 520.3 L166.6 525.6 L166.7 522.9 L166.8 521.1 L167.0 523.8 L167.1 518.7 L167.2 520.1 L167.4 519.2 L167.5 521.6 L167.6 519.8 L167.8 523.4 L167.9 527.3 L168.0 520.3 L168.1 523.2 L168.3 519.9 L168.4 521.4 L168.5 523.9 L168.7 525.8 L168.8 522.7 L168.9 524.3 L169.1 523.7 L169.2 523.1 L169.3 520.4 L169.4 523.4 L169.6 523.2 L169.7 519.9 L169.8 517.7 L170.0 526.2 L170.1 520.7 L170.2 521.9 L170.4 518.8 L170.5 521.1 L170.6 527.2 L170.7 519.5 L170.9 527.1 L171.0 524.5 L171.1 521.9 L171.3 518.3 L171.4 522.1 L171.5 520.6 L171.7 521.1 L171.8 524.7 L171.9 523.1 L172.0 521.9 L172.2 520.8 L172.3 526.3 L172.4 519.2 L172.6 522.5 L172.7 520.6 L172.8 524.8 L173.0 522.5 L173.1 522.3 L173.2 523.9 L173.3 521.9 L173.5 521.4 L173.6 521.3 L173.7 521.5 L173.9 522.3 L174.0 521.6 L174.1 520.4 L174.3 525.3 L174.4 526.5 L174.5 523.2 L174.6 521.9 L174.8 525.1 L174.9 516.4 L175.0 529.0 L175.2 520.7 L175.3 523.2 L175.4 519.4 L175.6 521.5 L175.7 524.4 L175.8 524.8 L175.9 522.0 L176.1 521.4 L176.2 526.5 L176.3 526.9 L176.5 520.8 L176.6 523.5 L176.7 517.3 L176.9 525.4 L177.0 521.0 L177.1 521.7 L177.2 519.6 L177.4 524.4 L177.5 526.2 L177.6 523.3 L177.8 525.7 L177.9 520.0 L178.0 522.6 L178.2 523.7 L178.3 528.3 L178.4 525.4 L178.5 521.0 L178.7 524.0 L178.8 529.1 L178.9 522.0 L179.1 522.1 L179.2 521.8 L179.3 519.6 L179.5 523.7 L179.6 527.1 L179.7 522.6 L179.8 521.5 L180.0 523.6 L180.1 525.3 L180.2 517.6 L180.4 522.3 L180.5 525.3 L180.6 521.1 L180.8 522.8 L180.9 523.1 L181.0 521.0 L181.1 525.2 L181.3 522.8 L181.4 523.6 L181.5 522.2 L181.7 524.6 L181.8 525.8 L181.9 521.1 L182.1 523.6 L182.2 522.9 L182.3 516.6 L182.4 522.7 L182.6 527.4 L182.7 525.4 L182.8 523.6 L183.0 520.0 L183.1 522.4 L183.2 524.1 L183.4 522.3 L183.5 519.5 L183.6 521.9 L183.7 523.7 L183.9 519.1 L184.0 524.0 L184.1 522.3 L184.3 521.7 L184.4 526.3 L184.5 522.9 L184.7 523.3 L184.8 521.2 L184.9 522.4 L185.0 523.9 L185.2 520.0 L185.3 521.9 L185.4 522.8 L185.6 516.7 L185.7 527.1 L185.8 519.0 L186.0 523.7 L186.1 517.4 L186.2 525.3 L186.3 521.0 L186.5 523.6 L186.6 528.7 L186.7 523.0 L186.9 518.1 L187.0 522.5 L187.1 522.6 L187.3 524.6 L187.4 526.9 L187.5 519.8 L187.6 524.9 L187.8 520.9 L187.9 528.8 L188.0 527.8 L188.2 525.3 L188.3 521.2 L188.4 526.0 L188.6 522.6 L188.7 521.4 L188.8 525.2 L188.9 520.0 L189.1 521.3 L189.2 519.9 L189.3 523.3 L189.5 522.1 L189.6 523.5 L189.7 523.9 L189.9 522.3 L190.0 518.9 L190.1 529.3 L190.2 519.7 L190.4 525.0 L190.5 523.9 L190.6 529.1 L190.8 525.3 L190.9 522.6 L191.0 519.1 L191.2 524.7 L191.3 526.1 L191.4 520.9 L191.5 523.5 L191.7 520.9 L191.8 525.7 L191.9 522.9 L192.1 525.1 L192.2 522.1 L192.3 523.2 L192.5 526.2 L192.6 523.6 L192.7 519.9 L192.8 521.3 L193.0 521.6 L193.1 523.4 L193.2 522.7 L193.4 523.9 L193.5 518.9 L193.6 520.0 L193.8 522.1 L193.9 525.6 L194.0 526.2 L194.1 523.6 L194.3 524.1 L194.4 530.7 L194.5 523.2 L194.7 526.3 L194.8 520.7 L194.9 520.4 L195.1 520.9 L195.2 523.6 L195.3 520.6 L195.4 521.6 L195.6 524.7 L195.7 523.5 L195.8 518.8 L196.0 520.6 L196.1 528.1 L196.2 517.5 L196.4 520.2 L196.5 526.4 L196.6 529.2 L196.7 525.6 L196.9 526.0 L197.0 526.1 L197.1 522.4 L197.3 522.0 L197.4 522.4 L197.5 520.3 L197.7 523.8 L197.8 523.5 L197.9 521.0 L198.0 525.5 L198.2 523.2 L198.3 525.9 L198.4 525.3 L198.6 522.8 L198.7 520.4 L198.8 525.5 L199.0 527.1 L199.1 525.1 L199.2 525.4 L199.3 522.2 L199.5 524.6 L199.6 522.5 L199.7 523.9 L199.9 523.4 L200.0 526.0 L200.1 524.3 L200.3 526.1 L200.4 523.3 L200.5 522.8 L200.6 523.2 L200.8 525.9 L200.9 525.2 L201.0 524.1 L201.2 527.2 L201.3 524.2 L201.4 527.5 L201.6 524.2 L201.7 523.9 L201.8 523.2 L201.9 528.5 L202.1 527.2 L202.2 525.8 L202.3 527.3 L202.5 525.3 L202.6 519.3 L202.7 527.2 L202.9 523.0 L203.0 519.0 L203.1 519.5 L203.2 520.6 L203.4 522.9 L203.5 523.6 L203.6 526.3 L203.8 523.9 L203.9 519.9 L204.0 525.5 L204.2 522.4 L204.3 523.2 L204.4 522.0 L204.5 523.6 L204.7 529.6 L204.8 522.6 L204.9 527.3 L205.1 523.6 L205.2 523.6 L205.3 525.0 L205.5 526.1 L205.6 523.9 L205.7 523.4 L205.8 525.6 L206.0 526.4 L206.1 525.1 L206.2 520.0 L206.4 519.9 L206.5 525.0 L206.6 524.4 L206.8 525.1 L206.9 525.9 L207.0 524.4 L207.1 529.8 L207.3 519.3 L207.4 522.4 L207.5 516.4 L207.7 518.9 L207.8 526.0 L207.9 524.4 L208.1 524.0 L208.2 526.5 L208.3 520.1 L208.4 526.8 L208.6 524.5 L208.7 523.1 L208.8 529.8 L209.0 520.8 L209.1 524.1 L209.2 526.6 L209.4 523.5 L209.5 525.2 L209.6 522.2 L209.7 526.4 L209.9 526.9 L210.0 523.3 L210.1 520.9 L210.3 522.6 L210.4 526.5 L210.5 524.1 L210.7 525.8 L210.8 518.4 L210.9 520.3 L211.0 522.0 L211.2 524.2 L211.3 522.3 L211.4 529.0 L211.6 521.8 L211.7 521.8 L211.8 524.3 L212.0 522.5 L212.1 528.4 L212.2 523.0 L212.3 524.2 L212.5 520.8 L212.6 521.9 L212.7 526.9 L212.9 527.2 L213.0 521.6 L213.1 521.5 L213.3 521.4 L213.4 526.4 L213.5 521.8 L213.6 526.9 L213.8 526.0 L213.9 519.4 L214.0 528.8 L214.2 526.8 L214.3 524.9 L214.4 523.7 L214.6 527.2 L214.7 523.9 L214.8 523.5 L214.9 524.9 L215.1 522.4 L215.2 522.0 L215.3 528.4 L215.5 525.9 L215.6 517.4 L215.7 522.3 L215.9 521.6 L216.0 524.2 L216.1 523.3 L216.2 521.5 L216.4 527.7 L216.5 524.6 L216.6 524.4 L216.8 521.0 L216.9 524.8 L217.0 526.4 L217.2 526.2 L217.3 523.7 L217.4 528.6 L217.5 525.6 L217.7 527.3 L217.8 527.0 L217.9 525.6 L218.1 526.0 L218.2 529.1 L218.3 526.1 L218.5 528.2 L218.6 527.1 L218.7 522.8 L218.8 522.6 L219.0 530.8 L219.1 523.9 L219.2 523.6 L219.4 523.0 L219.5 525.9 L219.6 526.2 L219.8 524.1 L219.9 523.2 L220.0 518.9 L220.1 526.4 L220.3 526.7 L220.4 522.4 L220.5 523.5 L220.7 525.1 L220.8 527.1 L220.9 520.6 L221.1 525.3 L221.2 525.6 L221.3 525.1 L221.4 525.2 L221.6 521.2 L221.7 525.6 L221.8 528.3 L222.0 525.8 L222.1 526.6 L222.2 526.2 L222.4 525.1 L222.5 528.5 L222.6 526.2 L222.7 527.8 L222.9 522.7 L223.0 523.1 L223.1 525.6 L223.3 530.0 L223.4 523.4 L223.5 527.4 L223.7 522.3 L223.8 524.0 L223.9 525.6 L224.0 527.6 L224.2 529.7 L224.3 527.3 L224.4 522.9 L224.6 523.8 L224.7 526.3 L224.8 528.1 L225.0 529.3 L225.1 522.4 L225.2 522.0 L225.3 524.1 L225.5 531.9 L225.6 525.7 L225.7 528.6 L225.9 529.8 L226.0 526.6 L226.1 526.0 L226.3 523.2 L226.4 527.6 L226.5 526.7 L226.6 521.9 L226.8 528.0 L226.9 522.8 L227.0 526.6 L227.2 532.4 L227.3 523.2 L227.4 522.2 L227.6 518.6 L227.7 528.1 L227.8 523.5 L227.9 530.6 L228.1 526.0 L228.2 526.6 L228.3 524.5 L228.5 522.6 L228.6 528.6 L228.7 527.0 L228.9 527.4 L229.0 522.1 L229.1 524.5 L229.2 525.9 L229.4 527.4 L229.5 523.5 L229.6 526.0 L229.8 522.9 L229.9 527.5 L230.0 522.6 L230.2 527.8 L230.3 530.6 L230.4 522.6 L230.5 526.6 L230.7 526.6 L230.8 522.7 L230.9 527.9 L231.1 525.3 L231.2 526.4 L231.3 526.8 L231.5 525.2 L231.6 526.3 L231.7 526.1 L231.8 527.1 L232.0 526.5 L232.1 525.3 L232.2 523.3 L232.4 525.8 L232.5 526.7 L232.6 525.3 L232.8 529.6 L232.9 528.8 L233.0 525.0 L233.1 530.5 L233.3 522.7 L233.4 528.2 L233.5 528.9 L233.7 529.5 L233.8 525.5 L233.9 527.4 L234.1 524.5 L234.2 527.7 L234.3 525.6 L234.4 527.2 L234.6 522.5 L234.7 525.7 L234.8 528.1 L235.0 523.7 L235.1 532.0 L235.2 530.1 L235.4 526.2 L235.5 527.2 L235.6 524.5 L235.7 524.3 L235.9 523.6 L236.0 524.4 L236.1 531.3 L236.3 527.5 L236.4 531.5 L236.5 523.7 L236.7 527.2 L236.8 527.7 L236.9 529.3 L237.0 523.1 L237.2 521.9 L237.3 527.4 L237.4 531.7 L237.6 524.7 L237.7 527.4 L237.8 528.4 L238.0 527.1 L238.1 529.6 L238.2 527.9 L238.3 528.4 L238.5 526.9 L238.6 525.0 L238.7 526.6 L238.9 528.5 L239.0 526.8 L239.1 524.6 L239.3 524.5 L239.4 530.0 L239.5 520.7 L239.6 530.8 L239.8 525.4 L239.9 531.3 L240.0 531.9 L240.2 524.9 L240.3 525.6 L240.4 528.1 L240.6 526.8 L240.7 532.6 L240.8 521.5 L240.9 527.9 L241.1 527.5 L241.2 524.1 L241.3 528.5 L241.5 526.9 L241.6 525.5 L241.7 527.1 L241.9 529.8 L242.0 527.3 L242.1 528.7 L242.2 519.8 L242.4 525.9 L242.5 526.3 L242.6 524.6 L242.8 527.2 L242.9 532.1 L243.0 524.1 L243.2 524.2 L243.3 530.2 L243.4 522.0 L243.5 528.3 L243.7 528.4 L243.8 522.9 L243.9 529.4 L244.1 531.5 L244.2 527.6 L244.3 526.0 L244.5 526.9 L244.6 529.5 L244.7 527.1 L244.8 525.5 L245.0 525.8 L245.1 525.5 L245.2 524.6 L245.4 528.4 L245.5 531.2 L245.6 528.1 L245.8 528.8 L245.9 528.5 L246.0 525.0 L246.1 521.8 L246.3 531.3 L246.4 523.5 L246.5 524.6 L246.7 529.6 L246.8 525.4 L246.9 527.3 L247.1 524.2 L247.2 528.7 L247.3 528.1 L247.4 525.4 L247.6 523.8 L247.7 528.8 L247.8 527.2 L248.0 523.6 L248.1 533.3 L248.2 534.5 L248.4 526.0 L248.5 528.9 L248.6 528.1 L248.7 528.0 L248.9 527.0 L249.0 527.3 L249.1 527.9 L249.3 526.2 L249.4 526.0 L249.5 528.5 L249.7 524.5 L249.8 529.6 L249.9 531.1 L250.0 529.3 L250.2 527.4 L250.3 527.2 L250.4 524.6 L250.6 530.5 L250.7 529.4 L250.8 531.2 L251.0 526.8 L251.1 528.2 L251.2 527.9 L251.3 528.1 L251.5 524.8 L251.6 532.2 L251.7 526.0 L251.9 525.5 L252.0 528.2 L252.1 530.0 L252.3 530.8 L252.4 530.9 L252.5 531.5 L252.6 523.6 L252.8 528.7 L252.9 523.0 L253.0 527.0 L253.2 527.8 L253.3 526.5 L253.4 529.5 L253.6 528.7 L253.7 524.7 L253.8 528.2 L253.9 531.3 L254.1 523.8 L254.2 529.9 L254.3 528.4 L254.5 530.3 L254.6 524.5 L254.7 532.9 L254.9 532.3 L255.0 530.3 L255.1 528.3 L255.2 528.8 L255.4 531.1 L255.5 525.9 L255.6 528.4 L255.8 527.2 L255.9 532.3 L256.0 527.4 L256.2 525.4 L256.3 525.3 L256.4 526.1 L256.5 526.7 L256.7 529.7 L256.8 532.0 L256.9 531.3 L257.1 529.5 L257.2 526.9 L257.3 534.2 L257.5 526.9 L257.6 529.5 L257.7 527.5 L257.8 528.5 L258.0 525.8 L258.1 533.5 L258.2 526.7 L258.4 528.4 L258.5 528.8 L258.6 527.0 L258.8 526.1 L258.9 530.8 L259.0 533.0 L259.1 525.8 L259.3 527.8 L259.4 530.9 L259.5 531.6 L259.7 529.2 L259.8 528.3 L259.9 526.0 L260.1 528.0 L260.2 526.4 L260.3 525.9 L260.4 527.0 L260.6 533.4 L260.7 531.6 L260.8 527.8 L261.0 530.8 L261.1 530.3 L261.2 532.9 L261.4 527.4 L261.5 529.7 L261.6 529.9 L261.7 526.6 L261.9 528.6 L262.0 521.3 L262.1 534.5 L262.3 526.6 L262.4 527.5 L262.5 527.4 L262.7 532.2 L262.8 528.3 L262.9 530.5 L263.0 531.4 L263.2 527.3 L263.3 531.0 L263.4 525.0 L263.6 527.4 L263.7 524.7 L263.8 528.5 L264.0 527.4 L264.1 521.8 L264.2 525.8 L264.3 527.7 L264.5 529.2 L264.6 526.4 L264.7 527.7 L264.9 528.4 L265.0 526.7 L265.1 522.5 L265.3 530.8 L265.4 529.0 L265.5 529.5 L265.6 528.9 L265.8 528.3 L265.9 530.4 L266.0 529.8 L266.2 528.6 L266.3 528.4 L266.4 524.9 L266.6 528.5 L266.7 527.4 L266.8 527.5 L266.9 526.2 L267.1 529.3 L267.2 531.9 L267.3 530.8 L267.5 529.5 L267.6 530.6 L267.7 531.1 L267.9 522.5 L268.0 526.9 L268.1 531.5 L268.2 528.7 L268.4 525.7 L268.5 532.5 L268.6 528.9 L268.8 531.9 L268.9 533.4 L269.0 525.7 L269.2 531.2 L269.3 530.4 L269.4 530.1 L269.5 531.4 L269.7 533.4 L269.8 527.8 L269.9 528.7 L270.1 527.2 L270.2 529.7 L270.3 527.5 L270.5 536.9 L270.6 526.6 L270.7 525.6 L270.8 527.5 L271.0 530.5 L271.1 531.1 L271.2 532.6 L271.4 532.1 L271.5 526.6 L271.6 528.1 L271.8 526.0 L271.9 526.5 L272.0 529.1 L272.1 524.7 L272.3 530.7 L272.4 525.9 L272.5 526.3 L272.7 524.1 L272.8 525.6 L272.9 531.2 L273.1 531.1 L273.2 528.4 L273.3 528.5 L273.4 529.0 L273.6 526.3 L273.7 524.8 L273.8 525.9 L274.0 529.3 L274.1 528.6 L274.2 530.0 L274.4 530.0 L274.5 529.1 L274.6 528.4 L274.7 530.3 L274.9 524.7 L275.0 527.5 L275.1 526.4 L275.3 527.2 L275.4 528.5 L275.5 525.5 L275.7 527.7 L275.8 531.7 L275.9 531.1 L276.0 525.0 L276.2 528.2 L276.3 530.0 L276.4 528.2 L276.6 530.5 L276.7 527.0 L276.8 528.3 L277.0 528.3 L277.1 525.5 L277.2 530.1 L277.3 527.4 L277.5 529.0 L277.6 532.7 L277.7 529.2 L277.9 532.0 L278.0 529.9 L278.1 532.6 L278.3 528.3 L278.4 525.6 L278.5 524.5 L278.6 532.9 L278.8 527.1 L278.9 531.8 L279.0 526.6 L279.2 530.8 L279.3 531.4 L279.4 532.6 L279.6 528.2 L279.7 531.0 L279.8 527.8 L279.9 530.8 L280.1 529.6 L280.2 530.7 L280.3 524.7 L280.5 529.1 L280.6 527.5 L280.7 530.0 L280.9 524.2 L281.0 529.6 L281.1 528.7 L281.2 525.1 L281.4 528.5 L281.5 528.4 L281.6 525.1 L281.8 530.8 L281.9 527.5 L282.0 531.5 L282.2 528.8 L282.3 530.6 L282.4 533.4 L282.5 528.9 L282.7 525.3 L282.8 527.1 L282.9 524.8 L283.1 529.7 L283.2 527.0 L283.3 528.3 L283.5 529.4 L283.6 527.0 L283.7 527.4 L283.8 528.3 L284.0 528.1 L284.1 532.4 L284.2 530.7 L284.4 530.5 L284.5 530.6 L284.6 527.9 L284.8 526.6 L284.9 530.9 L285.0 528.2 L285.1 526.1 L285.3 528.2 L285.4 525.3 L285.5 530.1 L285.7 532.8 L285.8 531.6 L285.9 528.8 L286.1 529.7 L286.2 529.2 L286.3 531.0 L286.4 528.6 L286.6 526.8 L286.7 527.7 L286.8 526.5 L287.0 527.3 L287.1 528.5 L287.2 531.2 L287.4 527.4 L287.5 530.3 L287.6 532.8 L287.7 533.6 L287.9 529.0 L288.0 528.1 L288.1 531.7 L288.3 523.7 L288.4 529.5 L288.5 530.7 L288.7 527.4 L288.8 531.5 L288.9 529.3 L289.0 528.8 L289.2 530.8 L289.3 525.4 L289.4 525.8 L289.6 529.1 L289.7 530.0 L289.8 529.9 L290.0 535.8 L290.1 531.4 L290.2 526.8 L290.3 537.0 L290.5 528.9 L290.6 532.5 L290.7 528.8 L290.9 530.5 L291.0 529.9 L291.1 532.1 L291.3 529.4 L291.4 532.4 L291.5 529.0 L291.6 527.4 L291.8 528.3 L291.9 531.5 L292.0 525.3 L292.2 529.6 L292.3 532.0 L292.4 530.3 L292.6 533.0 L292.7 528.0 L292.8 525.8 L292.9 526.0 L293.1 535.5 L293.2 528.6 L293.3 529.9 L293.5 530.0 L293.6 532.7 L293.7 527.6 L293.9 531.7 L294.0 523.9 L294.1 529.0 L294.2 529.7 L294.4 531.4 L294.5 526.4 L294.6 531.8 L294.8 533.4 L294.9 530.4 L295.0 530.1 L295.2 533.6 L295.3 527.7 L295.4 529.4 L295.5 531.6 L295.7 530.6 L295.8 530.9 L295.9 530.0 L296.1 531.6 L296.2 527.3 L296.3 532.1 L296.5 535.3 L296.6 528.1 L296.7 531.2 L296.8 528.8 L297.0 531.5 L297.1 529.4 L297.2 528.6 L297.4 530.5 L297.5 530.7 L297.6 532.0 L297.8 533.3 L297.9 529.8 L298.0 534.8 L298.1 530.3 L298.3 530.6 L298.4 530.8 L298.5 534.6 L298.7 529.2 L298.8 530.2 L298.9 525.3 L299.1 529.3 L299.2 530.4 L299.3 528.9 L299.4 531.0 L299.6 526.6 L299.7 528.5 L299.8 533.0 L300.0 529.2 L300.1 531.5 L300.2 528.4 L300.4 526.2 L300.5 528.7 L300.6 529.7 L300.7 534.4 L300.9 529.9 L301.0 529.0 L301.1 529.5 L301.3 531.4 L301.4 525.1 L301.5 533.6 L301.7 528.5 L301.8 530.0 L301.9 525.1 L302.0 533.7 L302.2 523.4 L302.3 532.3 L302.4 532.5 L302.6 528.2 L302.7 530.5 L302.8 528.7 L303.0 534.4 L303.1 531.1 L303.2 526.8 L303.3 533.7 L303.5 530.8 L303.6 527.7 L303.7 534.5 L303.9 533.2 L304.0 532.5 L304.1 529.3 L304.3 528.4 L304.4 532.1 L304.5 529.9 L304.6 534.3 L304.8 532.1 L304.9 530.0 L305.0 532.4 L305.2 529.4 L305.3 531.3 L305.4 530.2 L305.6 530.0 L305.7 525.8 L305.8 530.1 L305.9 529.9 L306.1 530.1 L306.2 533.8 L306.3 535.0 L306.5 533.8 L306.6 531.1 L306.7 531.4 L306.9 525.9 L307.0 533.4 L307.1 528.8 L307.2 534.9 L307.4 532.0 L307.5 533.1 L307.6 531.1 L307.8 527.4 L307.9 527.6 L308.0 535.5 L308.2 530.9 L308.3 525.0 L308.4 532.9 L308.5 528.8 L308.7 533.5 L308.8 533.8 L308.9 528.1 L309.1 530.1 L309.2 532.9 L309.3 533.5 L309.5 531.2 L309.6 528.6 L309.7 529.3 L309.8 528.1 L310.0 529.6 L310.1 527.8 L310.2 528.6 L310.4 532.0 L310.5 531.0 L310.6 527.4 L310.8 531.3 L310.9 532.4 L311.0 532.6 L311.1 528.5 L311.3 530.7 L311.4 530.8 L311.5 531.4 L311.7 532.8 L311.8 532.9 L311.9 528.4 L312.1 528.4 L312.2 533.1 L312.3 534.3 L312.4 527.2 L312.6 528.9 L312.7 529.0 L312.8 530.6 L313.0 528.9 L313.1 530.8 L313.2 532.2 L313.4 533.2 L313.5 531.8 L313.6 534.0 L313.7 536.0 L313.9 524.5 L314.0 531.4 L314.1 532.8 L314.3 533.6 L314.4 531.5 L314.5 534.4 L314.7 529.9 L314.8 530.1 L314.9 534.8 L315.0 532.3 L315.2 529.0 L315.3 533.4 L315.4 532.5 L315.6 528.1 L315.7 533.5 L315.8 532.8 L316.0 534.2 L316.1 533.2 L316.2 533.9 L316.3 530.1 L316.5 529.4 L316.6 530.3 L316.7 533.9 L316.9 531.8 L317.0 532.2 L317.1 536.0 L317.3 529.9 L317.4 538.7 L317.5 531.7 L317.6 528.7 L317.8 536.5 L317.9 530.0 L318.0 532.2 L318.2 529.8 L318.3 532.4 L318.4 535.0 L318.6 526.3 L318.7 530.9 L318.8 535.4 L318.9 534.2 L319.1 533.7 L319.2 530.4 L319.3 530.1 L319.5 533.0 L319.6 535.1 L319.7 534.0 L319.9 535.0 L320.0 534.3 L320.1 533.8 L320.2 532.7 L320.4 531.9 L320.5 531.6 L320.6 531.6 L320.8 532.3 L320.9 531.4 L321.0 531.2 L321.2 533.2 L321.3 533.6 L321.4 532.8 L321.5 529.2 L321.7 531.0 L321.8 531.7 L321.9 535.5 L322.1 533.0 L322.2 536.6 L322.3 531.9 L322.5 532.7 L322.6 534.0 L322.7 533.4 L322.8 533.9 L323.0 531.7 L323.1 531.2 L323.2 534.8 L323.4 531.3 L323.5 530.4 L323.6 535.2 L323.8 534.6 L323.9 523.8 L324.0 534.6 L324.1 535.2 L324.3 533.2 L324.4 533.9 L324.5 530.1 L324.7 532.5 L324.8 530.8 L324.9 534.5 L325.1 530.9 L325.2 528.6 L325.3 534.3 L325.4 533.8 L325.6 531.7 L325.7 529.7 L325.8 527.7 L326.0 531.9 L326.1 532.8 L326.2 529.6 L326.4 532.9 L326.5 530.4 L326.6 533.0 L326.7 530.5 L326.9 535.6 L327.0 534.2 L327.1 530.8 L327.3 533.1 L327.4 534.9 L327.5 535.1 L327.7 528.6 L327.8 533.1 L327.9 530.8 L328.0 529.6 L328.2 533.5 L328.3 530.3 L328.4 531.2 L328.6 535.2 L328.7 527.3 L328.8 536.2 L329.0 531.2 L329.1 528.9 L329.2 528.3 L329.3 533.9 L329.5 535.5 L329.6 530.5 L329.7 529.0 L329.9 533.2 L330.0 527.4 L330.1 532.4 L330.3 534.8 L330.4 532.6 L330.5 534.2 L330.6 534.1 L330.8 533.2 L330.9 534.1 L331.0 532.2 L331.2 530.5 L331.3 535.1 L331.4 532.0 L331.6 535.3 L331.7 532.9 L331.8 529.7 L331.9 530.2 L332.1 535.3 L332.2 532.1 L332.3 535.8 L332.5 533.1 L332.6 533.4 L332.7 530.1 L332.9 527.5 L333.0 537.1 L333.1 536.9 L333.2 529.3 L333.4 532.2 L333.5 536.1 L333.6 530.6 L333.8 534.9 L333.9 536.4 L334.0 530.4 L334.2 534.6 L334.3 534.0 L334.4 531.0 L334.5 534.3 L334.7 533.9 L334.8 529.7 L334.9 533.0 L335.1 531.6 L335.2 532.8 L335.3 534.6 L335.5 533.8 L335.6 531.2 L335.7 531.8 L335.8 534.5 L336.0 528.9 L336.1 531.8 L336.2 534.7 L336.4 531.6 L336.5 530.8 L336.6 536.3 L336.8 530.4 L336.9 531.0 L337.0 530.8 L337.1 538.4 L337.3 535.0 L337.4 537.2 L337.5 531.6 L337.7 527.8 L337.8 534.3 L337.9 533.7 L338.1 528.7 L338.2 531.4 L338.3 530.2 L338.4 533.6 L338.6 533.1 L338.7 534.2 L338.8 531.5 L339.0 535.2 L339.1 533.6 L339.2 537.5 L339.4 533.3 L339.5 532.4 L339.6 527.3 L339.7 528.0 L339.9 537.7 L340.0 529.3 L340.1 533.4 L340.3 533.5 L340.4 529.4 L340.5 532.7 L340.7 535.2 L340.8 530.5 L340.9 530.8 L341.0 530.6 L341.2 538.9 L341.3 535.4 L341.4 531.3 L341.6 535.5 L341.7 533.9 L341.8 532.1 L342.0 538.6 L342.1 529.5 L342.2 530.0 L342.3 537.4 L342.5 534.9 L342.6 533.1 L342.7 535.6 L342.9 528.6 L343.0 529.9 L343.1 534.1 L343.3 533.5 L343.4 532.9" fill="none" stroke="#06068c" stroke-width="1.05"/>
<line x1="69.6" y1="503" x2="69.6" y2="548" stroke="#000" stroke-width="2" stroke-dasharray="2.2 2.2"/>
<line x1="84.8" y1="499" x2="84.8" y2="548" stroke="#000" stroke-width="2" stroke-dasharray="2.2 2.2"/>
<line x1="119" y1="505" x2="119" y2="548" stroke="#000" stroke-width="2" stroke-dasharray="2.2 2.2"/>
<rect x="37.3" y="282.2" width="307.5" height="267.40000000000003" fill="none" stroke="#000" stroke-width="2.8"/>
<rect x="36.4" y="545" width="2.2" height="4" fill="#000"/>
<rect x="67.5" y="546.5" width="1.6" height="2.5" fill="#000"/>
<rect x="97.9" y="545" width="2.2" height="4" fill="#000"/>
<rect x="128.9" y="546.5" width="1.6" height="2.5" fill="#000"/>
<rect x="159.4" y="545" width="2.2" height="4" fill="#000"/>
<rect x="190.4" y="546.5" width="1.6" height="2.5" fill="#000"/>
<rect x="220.9" y="545" width="2.2" height="4" fill="#000"/>
<rect x="251.9" y="546.5" width="1.6" height="2.5" fill="#000"/>
<rect x="282.4" y="545" width="2.2" height="4" fill="#000"/>
<rect x="313.4" y="546.5" width="1.6" height="2.5" fill="#000"/>
<rect x="343.9" y="545" width="2.2" height="4" fill="#000"/>
<text x="37.5" y="566.3" font-family='"Liberation Serif", serif' font-size="11.5" font-weight="bold" fill="#000" text-anchor="middle" textLength="10.8" lengthAdjust="spacingAndGlyphs" >10</text>
<text x="99.0" y="566.3" font-family='"Liberation Serif", serif' font-size="11.5" font-weight="bold" fill="#000" text-anchor="middle" textLength="10.8" lengthAdjust="spacingAndGlyphs" >20</text>
<text x="160.5" y="566.3" font-family='"Liberation Serif", serif' font-size="11.5" font-weight="bold" fill="#000" text-anchor="middle" textLength="10.8" lengthAdjust="spacingAndGlyphs" >30</text>
<text x="222.0" y="566.3" font-family='"Liberation Serif", serif' font-size="11.5" font-weight="bold" fill="#000" text-anchor="middle" textLength="10.8" lengthAdjust="spacingAndGlyphs" >40</text>
<text x="283.5" y="566.3" font-family='"Liberation Serif", serif' font-size="11.5" font-weight="bold" fill="#000" text-anchor="middle" textLength="10.8" lengthAdjust="spacingAndGlyphs" >50</text>
<text x="345.0" y="566.3" font-family='"Liberation Serif", serif' font-size="11.5" font-weight="bold" fill="#000" text-anchor="middle" textLength="10.8" lengthAdjust="spacingAndGlyphs" >60</text>
<text x="342.4" y="337.2" font-family='"Liberation Serif", serif' font-size="14" font-weight="bold" fill="#000" text-anchor="end" textLength="36.3" lengthAdjust="spacingAndGlyphs" >S-AA-3</text>
<text x="342.4" y="400.9" font-family='"Liberation Serif", serif' font-size="14" font-weight="bold" fill="#000" text-anchor="end" textLength="36.3" lengthAdjust="spacingAndGlyphs" >S-AA-2</text>
<text x="342.4" y="469" font-family='"Liberation Serif", serif' font-size="14" font-weight="bold" fill="#000" text-anchor="end" textLength="36.3" lengthAdjust="spacingAndGlyphs" >S-AA-1</text>
<text x="342.4" y="523.2" font-family='"Liberation Serif", serif' font-size="13" font-weight="bold" fill="#000" text-anchor="end" textLength="32.5" lengthAdjust="spacingAndGlyphs" >Starch</text>
<text x="56.3" y="494.7" font-family='"Liberation Serif", serif' font-size="13" font-weight="bold" fill="#000" text-anchor="start" textLength="19.3" lengthAdjust="spacingAndGlyphs" >15.2</text>
<text x="74" y="481.9" font-family='"Liberation Serif", serif' font-size="13" font-weight="bold" fill="#000" text-anchor="start" textLength="19.4" lengthAdjust="spacingAndGlyphs" >18.0</text>
<text x="107.3" y="492.4" font-family='"Liberation Serif", serif' font-size="13" font-weight="bold" fill="#000" text-anchor="start" textLength="19.7" lengthAdjust="spacingAndGlyphs" >23.3</text>
<text x="5" y="300" font-family='"Liberation Serif", serif' font-size="24" font-weight="bold" fill="#000" text-anchor="start" >b)</text>
<text transform="translate(28.5 493.5) rotate(-90)" font-family='"Liberation Serif", serif' font-size="22" font-weight="bold" fill="#000" text-anchor="start" textLength="157" lengthAdjust="spacingAndGlyphs" >Intensity (a. u.)</text>
<text x="142.4" y="590" font-family='"Liberation Serif", serif' font-size="22" font-weight="bold" fill="#000" text-anchor="start" textLength="91.6" lengthAdjust="spacingAndGlyphs" >2θ (degree)</text>
<rect x="411.5" y="282.5" width="330.0" height="272.0" fill="none" stroke="#000" stroke-width="3"/>
<rect x="411.2" y="551.5" width="1.6" height="2" fill="#000"/>
<rect x="440.5" y="549.5" width="2.8" height="4" fill="#000"/>
<rect x="471.1" y="551.5" width="1.6" height="2" fill="#000"/>
<rect x="500.4" y="549.5" width="2.8" height="4" fill="#000"/>
<rect x="530.9" y="551.5" width="1.6" height="2" fill="#000"/>
<rect x="560.2" y="549.5" width="2.8" height="4" fill="#000"/>
<rect x="590.8" y="551.5" width="1.6" height="2" fill="#000"/>
<rect x="620.1" y="549.5" width="2.8" height="4" fill="#000"/>
<rect x="650.6" y="551.5" width="1.6" height="2" fill="#000"/>
<rect x="679.9" y="549.5" width="2.8" height="4" fill="#000"/>
<rect x="710.5" y="551.5" width="1.6" height="2" fill="#000"/>
<rect x="739.8" y="549.5" width="2.8" height="4" fill="#000"/>
<rect x="412.5" y="552.0" width="4" height="3" fill="#000"/>
<rect x="412.5" y="528.1" width="2" height="1.6" fill="#000"/>
<rect x="412.5" y="502.8" width="4" height="3" fill="#000"/>
<rect x="412.5" y="478.9" width="2" height="1.6" fill="#000"/>
<rect x="412.5" y="453.6" width="4" height="3" fill="#000"/>
<rect x="412.5" y="429.7" width="2" height="1.6" fill="#000"/>
<rect x="412.5" y="404.4" width="4" height="3" fill="#000"/>
<rect x="412.5" y="380.5" width="2" height="1.6" fill="#000"/>
<rect x="412.5" y="355.2" width="4" height="3" fill="#000"/>
<rect x="412.5" y="331.3" width="2" height="1.6" fill="#000"/>
<rect x="412.5" y="306.0" width="4" height="3" fill="#000"/>
<rect x="412.5" y="282.1" width="2" height="1.6" fill="#000"/>
<path d="M412.00 307.20 C438.00 307.20 464.00 307.20 490.00 307.20 C494.00 307.20 498.00 307.55 502.00 308.00 C506.50 308.51 511.00 310.85 515.50 313.40 C519.00 315.38 522.50 319.22 526.00 323.00 C527.33 324.44 528.67 326.14 530.00 328.00 C532.63 331.68 535.27 336.18 537.90 340.90 C540.67 345.86 543.43 351.69 546.20 357.40 C548.73 362.63 551.27 368.03 553.80 373.70 C555.80 378.18 557.80 382.83 559.80 387.70 C562.13 393.39 564.47 401.26 566.80 405.60 C567.93 407.71 569.07 408.97 570.20 410.80 C571.70 413.22 573.20 416.87 574.70 418.50 C576.07 419.99 577.43 420.81 578.80 421.80 C581.77 423.95 584.73 426.32 587.70 427.50 C589.70 428.30 591.70 428.37 593.70 429.30 C595.67 430.22 597.63 433.42 599.60 435.40 C603.63 439.46 607.67 443.07 611.70 447.20 C617.67 453.30 623.63 460.13 629.60 466.60 C635.57 473.07 641.53 480.08 647.50 486.00 C653.47 491.92 659.43 498.80 665.40 502.40 C673.37 507.21 681.33 510.01 689.30 512.90 C697.27 515.79 705.23 518.44 713.20 520.30 C722.13 522.39 731.07 523.63 740.00 525.30" fill="none" stroke="#f00000" stroke-width="4" stroke-linecap="round" stroke-dasharray="0 7"/>
<path d="M412.00 307.20 C438.00 307.20 464.00 307.20 490.00 307.20 C495.00 307.20 500.00 307.99 505.00 309.00 C508.33 309.67 511.67 312.07 515.00 314.00 C519.17 316.41 523.33 318.54 527.50 322.70 C532.97 328.15 538.43 342.18 543.90 353.80 C545.57 357.34 547.23 362.02 548.90 365.40 C551.20 370.07 553.50 373.50 555.80 377.70 C558.83 383.24 561.87 391.41 564.90 394.80 C569.53 399.98 574.17 403.29 578.80 405.40 C581.87 406.80 584.93 407.02 588.00 408.50 C590.67 409.78 593.33 412.37 596.00 415.00 C598.53 417.50 601.07 421.27 603.60 424.50 C606.90 428.71 610.20 432.92 613.50 437.40 C616.87 441.97 620.23 446.95 623.60 451.70 C628.57 458.70 633.53 466.75 638.50 472.60 C645.47 480.81 652.43 488.46 659.40 493.50 C667.37 499.26 675.33 504.10 683.30 506.90 C693.27 510.40 703.23 511.74 713.20 514.40 C722.13 516.78 731.07 519.47 740.00 522.00" fill="none" stroke="#c82cf5" stroke-width="4" stroke-linecap="round" stroke-dasharray="6 10.7"/>
<path d="M412.00 307.20 C439.80 307.20 467.60 307.20 495.40 307.20 C497.93 307.20 500.47 308.46 503.00 309.50 C506.27 310.84 509.53 313.12 512.80 316.00 C515.20 318.11 517.60 321.87 520.00 325.00 C523.33 329.35 526.67 334.59 530.00 338.70 C533.60 343.14 537.20 347.75 540.80 350.80 C542.53 352.27 544.27 353.68 546.00 354.50 C548.83 355.84 551.67 356.48 554.50 357.40 C559.27 358.95 564.03 359.94 568.80 361.80 C572.63 363.30 576.47 364.83 580.30 367.80 C582.77 369.71 585.23 374.17 587.70 377.70 C590.73 382.04 593.77 386.82 596.80 391.80 C599.07 395.52 601.33 399.44 603.60 403.60 C606.07 408.12 608.53 412.78 611.00 418.00 C613.50 423.29 616.00 430.50 618.50 435.40 C620.20 438.73 621.90 441.36 623.60 444.20 C628.57 452.51 633.53 461.60 638.50 468.10 C642.50 473.33 646.50 478.33 650.50 481.50 C655.47 485.44 660.43 488.17 665.40 490.50 C673.37 494.24 681.33 496.19 689.30 499.40 C697.27 502.61 705.23 506.35 713.20 509.90 C722.13 513.88 731.07 517.97 740.00 522.00" fill="none" stroke="#00d200" stroke-width="4" stroke-linecap="round" stroke-dasharray="11 9 0 9"/>
<text x="441.9" y="573.5" font-family='"Liberation Serif", serif' font-size="15" font-weight="bold" fill="#000" text-anchor="middle" textLength="24" lengthAdjust="spacingAndGlyphs" >100</text>
<text x="501.8" y="573.5" font-family='"Liberation Serif", serif' font-size="15" font-weight="bold" fill="#000" text-anchor="middle" textLength="24" lengthAdjust="spacingAndGlyphs" >200</text>
<text x="561.6" y="573.5" font-family='"Liberation Serif", serif' font-size="15" font-weight="bold" fill="#000" text-anchor="middle" textLength="24" lengthAdjust="spacingAndGlyphs" >300</text>
<text x="621.5" y="573.5" font-family='"Liberation Serif", serif' font-size="15" font-weight="bold" fill="#000" text-anchor="middle" textLength="24" lengthAdjust="spacingAndGlyphs" >400</text>
<text x="681.3" y="573.5" font-family='"Liberation Serif", serif' font-size="15" font-weight="bold" fill="#000" text-anchor="middle" textLength="24" lengthAdjust="spacingAndGlyphs" >500</text>
<text x="404.8" y="557.6" font-family='"Liberation Serif", serif' font-size="15" font-weight="bold" fill="#000" text-anchor="end" textLength="8" lengthAdjust="spacingAndGlyphs" >0</text>
<text x="404.8" y="508.4" font-family='"Liberation Serif", serif' font-size="15" font-weight="bold" fill="#000" text-anchor="end" textLength="16" lengthAdjust="spacingAndGlyphs" >20</text>
<text x="404.8" y="459.2" font-family='"Liberation Serif", serif' font-size="15" font-weight="bold" fill="#000" text-anchor="end" textLength="16" lengthAdjust="spacingAndGlyphs" >40</text>
<text x="404.8" y="410.0" font-family='"Liberation Serif", serif' font-size="15" font-weight="bold" fill="#000" text-anchor="end" textLength="16" lengthAdjust="spacingAndGlyphs" >60</text>
<text x="404.8" y="360.8" font-family='"Liberation Serif", serif' font-size="15" font-weight="bold" fill="#000" text-anchor="end" textLength="16" lengthAdjust="spacingAndGlyphs" >80</text>
<text x="404.8" y="311.6" font-family='"Liberation Serif", serif' font-size="15" font-weight="bold" fill="#000" text-anchor="end" textLength="21.9" lengthAdjust="spacingAndGlyphs" >100</text>
<line x1="419.2" y1="497.9" x2="447.8" y2="497.9" stroke="#f00000" stroke-width="4.4" stroke-linecap="round" stroke-dasharray="0 7.03"/>
<line x1="419" y1="518.8" x2="441.3" y2="518.8" stroke="#c82cf5" stroke-width="4" stroke-linecap="round" stroke-dasharray="6 10.7"/>
<line x1="419" y1="539.7" x2="450" y2="539.7" stroke="#00d200" stroke-width="4" stroke-linecap="round" stroke-dasharray="11 9 0 9"/>
<text x="454" y="502.6" font-family='"Liberation Sans", sans-serif' font-size="14" font-weight="bold" fill="#000" text-anchor="start" textLength="50" lengthAdjust="spacingAndGlyphs" >S-AA-1</text>
<text x="454" y="523.3" font-family='"Liberation Sans", sans-serif' font-size="14" font-weight="bold" fill="#000" text-anchor="start" textLength="50" lengthAdjust="spacingAndGlyphs" >S-AA-2</text>
<text x="454" y="544.2" font-family='"Liberation Sans", sans-serif' font-size="14" font-weight="bold" fill="#000" text-anchor="start" textLength="50" lengthAdjust="spacingAndGlyphs" >S-AA-3</text>
<text x="382" y="293" font-family='"Liberation Serif", serif' font-size="24" font-weight="bold" fill="#000" text-anchor="start" >c)</text>
<text transform="translate(381.1 480.4) rotate(-90)" font-family='"Liberation Serif", serif' font-size="17" font-weight="bold" fill="#000" text-anchor="start" textLength="114.3" lengthAdjust="spacingAndGlyphs" >Weight loss (%)</text>
<text x="512.1" y="593.5" font-family='"Liberation Serif", serif' font-size="16.4" font-weight="bold" fill="#000" letter-spacing="0.3">Temprature (<tspan font-size="12" dy="-8">0</tspan><tspan dy="8">C)</tspan></text>
<rect x="611" y="288.5" width="125.79999999999995" height="99.80000000000001" fill="#fff" stroke="none"/>
<path d="M612.0 297.2 L641.3 297.2 L644.8 300.7 L649.2 313.7 L653.5 326.8 L657.0 340.7 L662.2 351.1 L664.8 359.8 L667.4 379.0 L670.0 359.8 L671.8 337.2 L674.4 309.4 L677.0 306.8 L679.6 311.1 L681.4 319.8 L686.6 325.9 L691.8 327.6 L697.0 331.1 L700.5 327.6 L704.8 318.1 L710.9 311.1 L716.2 305.0 L723.1 303.8 L735.3 303.8" fill="none" stroke="#f00000" stroke-width="2.6" stroke-linecap="round" stroke-linejoin="round" stroke-dasharray="0 4.4"/>
<path d="M612.0 297.2 L642.2 297.2 L646.5 302.4 L650.9 314.6 L654.4 330.2 L658.7 342.4 L662.2 345.0 L664.8 353.7 L668.3 344.2 L670.9 326.8 L673.5 311.1 L675.8 305.9 L678.7 314.6 L681.4 324.2 L686.6 328.5 L691.8 333.7 L696.1 337.2 L699.6 332.0 L704.0 321.5 L710.0 312.8 L716.2 305.5 L735.3 305.5" fill="none" stroke="#c82cf5" stroke-width="2.6" stroke-linecap="round" stroke-linejoin="round" stroke-dasharray="3.5 4.5"/>
<path d="M612.0 297.2 L640.5 297.2 L644.8 305.9 L649.2 319.8 L653.3 335.5 L656.1 326.8 L662.2 316.3 L670.0 301.5 L673.5 316.3 L677.0 330.2 L683.1 342.4 L689.7 354.6 L693.5 342.4 L698.8 330.2 L704.0 318.1 L707.5 312.8 L715.3 307.3 L719.6 308.5 L735.3 309.0" fill="none" stroke="#00d200" stroke-width="2.6" stroke-linecap="round" stroke-linejoin="round" stroke-dasharray="7 5 0 5"/>
<rect x="611" y="288.5" width="125.79999999999995" height="99.80000000000001" fill="none" stroke="#000" stroke-width="2.5"/>
<rect x="621.3" y="385.5" width="1.8" height="2" fill="#000"/>
<text x="622.2" y="399" font-family='"Liberation Serif", serif' font-size="8.5" font-weight="bold" fill="#000" text-anchor="middle" textLength="12.7" lengthAdjust="spacingAndGlyphs" >100</text>
<rect x="644.2" y="385.5" width="1.8" height="2" fill="#000"/>
<text x="645.1" y="399" font-family='"Liberation Serif", serif' font-size="8.5" font-weight="bold" fill="#000" text-anchor="middle" textLength="12.7" lengthAdjust="spacingAndGlyphs" >200</text>
<rect x="667.1" y="385.5" width="1.8" height="2" fill="#000"/>
<text x="668.0" y="399" font-family='"Liberation Serif", serif' font-size="8.5" font-weight="bold" fill="#000" text-anchor="middle" textLength="12.7" lengthAdjust="spacingAndGlyphs" >300</text>
<rect x="690.0" y="385.5" width="1.8" height="2" fill="#000"/>
<text x="690.9" y="399" font-family='"Liberation Serif", serif' font-size="8.5" font-weight="bold" fill="#000" text-anchor="middle" textLength="12.7" lengthAdjust="spacingAndGlyphs" >400</text>
<rect x="712.9" y="385.5" width="1.8" height="2" fill="#000"/>
<text x="713.8" y="399" font-family='"Liberation Serif", serif' font-size="8.5" font-weight="bold" fill="#000" text-anchor="middle" textLength="12.7" lengthAdjust="spacingAndGlyphs" >500</text>
<text x="635.8" y="411.2" font-family='"Liberation Serif", serif' font-size="11.5" font-weight="bold" fill="#000" letter-spacing="0.12">Temprature (<tspan font-size="8.5" dy="-5.5">0</tspan><tspan dy="5.5">C)</tspan></text>
<text transform="translate(587.3 380.4) rotate(-90)" font-family='"Liberation Serif", serif' font-size="11" font-weight="bold" fill="#000" text-anchor="start" textLength="86.4" lengthAdjust="spacingAndGlyphs" >Derivative weight</text>
<text transform="translate(606.5 363) rotate(-90)" font-family='"Liberation Serif", serif' font-size="12" font-weight="bold" fill="#000">(mg.min<tspan font-size="9.5" dy="-5.5">-1</tspan><tspan dy="5.5">)</tspan></text>
</svg>
</body></html>
